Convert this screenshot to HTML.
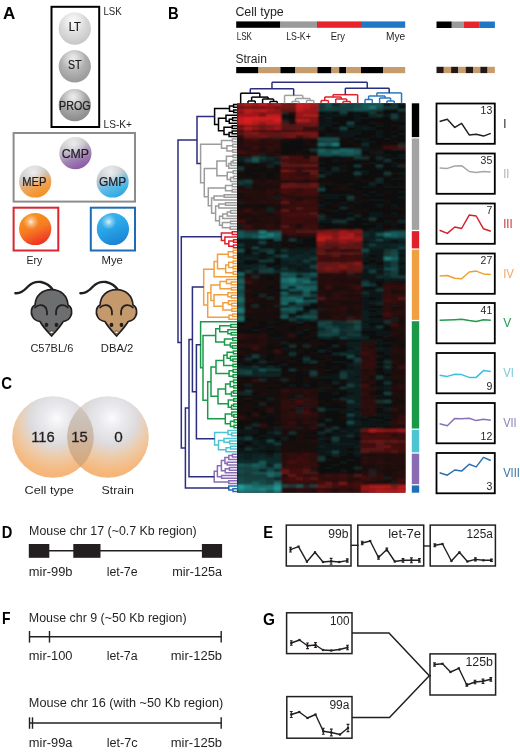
<!DOCTYPE html><html><head><meta charset="utf-8"><style>html,body{margin:0;padding:0;background:#fff}svg{display:block;will-change:transform}text{font-family:"Liberation Sans", sans-serif}</style></head><body>
<svg width="520" height="754" viewBox="0 0 520 754">
<defs>
<filter id="blur" x="0" y="0" width="1" height="1"><feGaussianBlur stdDeviation="0.8" edgeMode="duplicate"/></filter>
<radialGradient id="gLT" cx="0.45" cy="0.35" r="0.7"><stop offset="0" stop-color="#f2f2f2"/><stop offset="0.6" stop-color="#d6d6d6"/><stop offset="1" stop-color="#c2c2c2"/></radialGradient>
<radialGradient id="gST" cx="0.45" cy="0.35" r="0.7"><stop offset="0" stop-color="#d0d0d0"/><stop offset="0.6" stop-color="#ababab"/><stop offset="1" stop-color="#969696"/></radialGradient>
<radialGradient id="gPR" cx="0.45" cy="0.3" r="0.7"><stop offset="0" stop-color="#cfcfcf"/><stop offset="0.6" stop-color="#a2a2a2"/><stop offset="1" stop-color="#8a8a8a"/></radialGradient>
<linearGradient id="gCMP" x1="0.3" y1="0.02" x2="0.7" y2="0.98"><stop offset="0" stop-color="#d6d6d8"/><stop offset="0.32" stop-color="#c2bec6"/><stop offset="0.65" stop-color="#a184b4"/><stop offset="1" stop-color="#8a55a4"/></linearGradient>
<linearGradient id="gMEP" x1="0.3" y1="0.02" x2="0.7" y2="0.98"><stop offset="0" stop-color="#d6d6d8"/><stop offset="0.32" stop-color="#cac6c4"/><stop offset="0.62" stop-color="#eea458"/><stop offset="1" stop-color="#f68f1e"/></linearGradient>
<linearGradient id="gGMP" x1="0.3" y1="0.02" x2="0.7" y2="0.98"><stop offset="0" stop-color="#d6d6d8"/><stop offset="0.32" stop-color="#c0c8cc"/><stop offset="0.62" stop-color="#62bce6"/><stop offset="1" stop-color="#26a8e4"/></linearGradient>
<radialGradient id="gHL" cx="0.45" cy="0.22" r="0.4"><stop offset="0" stop-color="#fff" stop-opacity="0.65"/><stop offset="1" stop-color="#fff" stop-opacity="0"/></radialGradient>
<linearGradient id="gERYb" x1="0.3" y1="0" x2="0.7" y2="1"><stop offset="0" stop-color="#f7961e"/><stop offset="0.5" stop-color="#f67a22"/><stop offset="1" stop-color="#ee2a24"/></linearGradient>
<linearGradient id="gMYEb" x1="0.3" y1="0" x2="0.7" y2="1"><stop offset="0" stop-color="#3cb6f0"/><stop offset="0.5" stop-color="#27a2e6"/><stop offset="1" stop-color="#1a80d2"/></linearGradient>
<radialGradient id="gHL2" cx="0.37" cy="0.28" r="0.24"><stop offset="0" stop-color="#fff" stop-opacity="0.85"/><stop offset="0.4" stop-color="#fff" stop-opacity="0.4"/><stop offset="1" stop-color="#fff" stop-opacity="0"/></radialGradient>
<radialGradient id="gVenn" cx="0.52" cy="0.28" r="0.8" fx="0.55" fy="0.27"><stop offset="0" stop-color="#fbfbfc"/><stop offset="0.2" stop-color="#e9e9ed"/><stop offset="0.4" stop-color="#dddbdd"/><stop offset="0.6" stop-color="#eecaa6"/><stop offset="0.82" stop-color="#f6b77b"/><stop offset="1" stop-color="#f5b274"/></radialGradient>
<linearGradient id="gOv" x1="0" y1="0" x2="0" y2="1"><stop offset="0" stop-color="#d2ccc8"/><stop offset="0.4" stop-color="#cbbcb0"/><stop offset="0.75" stop-color="#d4ab84"/><stop offset="1" stop-color="#dca46c"/></linearGradient>
</defs>
<rect width="520" height="754" fill="#fff"/>
<text x="3" y="18.8" font-size="17" fill="#000" font-weight="bold" textLength="12.3" lengthAdjust="spacingAndGlyphs">A</text>
<rect x="51.5" y="6.8" width="47.7" height="120.2" fill="none" stroke="#000" stroke-width="2"/>
<text x="103.5" y="15.4" font-size="10.5" fill="#231f20" textLength="18.2" lengthAdjust="spacingAndGlyphs">LSK</text>
<text x="103.5" y="127.7" font-size="10.5" fill="#231f20" textLength="28.5" lengthAdjust="spacingAndGlyphs">LS-K+</text>
<rect x="13.6" y="133" width="121.4" height="68.6" fill="none" stroke="#8c8c8c" stroke-width="2"/>
<rect x="13.6" y="207.7" width="44.7" height="42.8" fill="none" stroke="#d8262f" stroke-width="2"/>
<rect x="90.8" y="207.7" width="44.2" height="42.8" fill="none" stroke="#1c6db4" stroke-width="2"/>
<circle cx="74.8" cy="28.6" r="16.1" fill="url(#gLT)"/>
<circle cx="74.8" cy="28.6" r="16.1" fill="url(#gHL)"/>
<text x="74.8" y="31.2" font-size="12.5" fill="#1e1c22" text-anchor="middle" textLength="12.2" lengthAdjust="spacingAndGlyphs" stroke="#1e1c22" stroke-width="0.22">LT</text>
<circle cx="74.8" cy="66.3" r="16.1" fill="url(#gST)"/>
<circle cx="74.8" cy="66.3" r="16.1" fill="url(#gHL)"/>
<text x="74.8" y="69.4" font-size="12.2" fill="#1e1c22" text-anchor="middle" textLength="13.6" lengthAdjust="spacingAndGlyphs" stroke="#1e1c22" stroke-width="0.22">ST</text>
<circle cx="74.8" cy="105.2" r="16.1" fill="url(#gPR)"/>
<circle cx="74.8" cy="105.2" r="16.1" fill="url(#gHL)"/>
<text x="74.8" y="109.7" font-size="12" fill="#1e1c22" text-anchor="middle" textLength="31.6" lengthAdjust="spacingAndGlyphs" stroke="#1e1c22" stroke-width="0.22">PROG</text>
<circle cx="75.4" cy="153.2" r="16.1" fill="url(#gCMP)"/>
<circle cx="75.4" cy="153.2" r="16.1" fill="url(#gHL)"/>
<text x="75.4" y="158.2" font-size="13.5" fill="#1e1c22" text-anchor="middle" textLength="27.3" lengthAdjust="spacingAndGlyphs" stroke="#1e1c22" stroke-width="0.22">CMP</text>
<circle cx="35.2" cy="181.5" r="16.1" fill="url(#gMEP)"/>
<circle cx="35.2" cy="181.5" r="16.1" fill="url(#gHL)"/>
<text x="34.4" y="186.3" font-size="13.5" fill="#1e1c22" text-anchor="middle" textLength="24.3" lengthAdjust="spacingAndGlyphs" stroke="#1e1c22" stroke-width="0.22">MEP</text>
<circle cx="112.6" cy="181.5" r="16.1" fill="url(#gGMP)"/>
<circle cx="112.6" cy="181.5" r="16.1" fill="url(#gHL)"/>
<text x="112.6" y="186.2" font-size="13.5" fill="#1e1c22" text-anchor="middle" textLength="27.2" lengthAdjust="spacingAndGlyphs" stroke="#1e1c22" stroke-width="0.22">GMP</text>
<circle cx="35.2" cy="229" r="16.1" fill="url(#gERYb)"/>
<circle cx="35.2" cy="229" r="16.1" fill="url(#gHL2)"/>
<circle cx="112.9" cy="229" r="16.1" fill="url(#gMYEb)"/>
<circle cx="112.9" cy="229" r="16.1" fill="url(#gHL2)"/>
<text x="26.5" y="264.2" font-size="11" fill="#231f20" textLength="15.7" lengthAdjust="spacingAndGlyphs">Ery</text>
<text x="101.5" y="264.2" font-size="11" fill="#231f20" textLength="21.3" lengthAdjust="spacingAndGlyphs">Mye</text>
<g transform="translate(0,0)">
<path d="M15.4 293.2 C19 293.5 24 291 28 286.5 C32 282.5 37 281.5 41 282 C46 283 50 285.5 53 290" fill="none" stroke="#231f20" stroke-width="2.4" stroke-linecap="round"/>
<path d="M51.5 289.6 C42 289.6 35.5 296 35 305 C31 307 30.5 313 32.5 316.5 C34 320 37 321 40 321.5 C43 327 48 332 51.6 336 C55 332 60 327 63.2 321.5 C66 321 69 320 70.5 316.5 C72.5 313 72 307 68 305 C67.5 296 61 289.6 51.5 289.6 Z" fill="#6d6e70" stroke="#231f20" stroke-width="1.7" stroke-linejoin="round"/>
<path d="M35.2 307.5 C38 304.2 44 304.2 46.2 308.5 C47 310.5 47.2 312.5 47 314.5" fill="none" stroke="#231f20" stroke-width="1.8" stroke-linecap="round"/>
<path d="M67.8 307.5 C65 304.2 59 304.2 56.8 308.5 C56 310.5 55.8 312.5 56 314.5" fill="none" stroke="#231f20" stroke-width="1.8" stroke-linecap="round"/>
<ellipse cx="46.5" cy="324.9" rx="1.9" ry="2.1" fill="#231f20"/><ellipse cx="56.5" cy="324.9" rx="1.9" ry="2.1" fill="#231f20"/>
<ellipse cx="51.6" cy="332.2" rx="1.9" ry="1.3" fill="#f6efe8" stroke="#231f20" stroke-width="0.6"/>
</g>
<g transform="translate(65,0)">
<path d="M15.4 293.2 C19 293.5 24 291 28 286.5 C32 282.5 37 281.5 41 282 C46 283 50 285.5 53 290" fill="none" stroke="#231f20" stroke-width="2.4" stroke-linecap="round"/>
<path d="M51.5 289.6 C42 289.6 35.5 296 35 305 C31 307 30.5 313 32.5 316.5 C34 320 37 321 40 321.5 C43 327 48 332 51.6 336 C55 332 60 327 63.2 321.5 C66 321 69 320 70.5 316.5 C72.5 313 72 307 68 305 C67.5 296 61 289.6 51.5 289.6 Z" fill="#c49a6c" stroke="#231f20" stroke-width="1.7" stroke-linejoin="round"/>
<path d="M35.2 307.5 C38 304.2 44 304.2 46.2 308.5 C47 310.5 47.2 312.5 47 314.5" fill="none" stroke="#231f20" stroke-width="1.8" stroke-linecap="round"/>
<path d="M67.8 307.5 C65 304.2 59 304.2 56.8 308.5 C56 310.5 55.8 312.5 56 314.5" fill="none" stroke="#231f20" stroke-width="1.8" stroke-linecap="round"/>
<ellipse cx="46.5" cy="324.9" rx="1.9" ry="2.1" fill="#231f20"/><ellipse cx="56.5" cy="324.9" rx="1.9" ry="2.1" fill="#231f20"/>
<ellipse cx="51.6" cy="332.2" rx="1.9" ry="1.3" fill="#f6efe8" stroke="#231f20" stroke-width="0.6"/>
</g>
<text x="30.4" y="352.4" font-size="11.3" fill="#231f20" textLength="42.9" lengthAdjust="spacingAndGlyphs">C57BL/6</text>
<text x="100.8" y="352.4" font-size="11.3" fill="#231f20" textLength="32.6" lengthAdjust="spacingAndGlyphs">DBA/2</text>
<text x="1.2" y="389.2" font-size="17" fill="#000" font-weight="bold" textLength="10.8" lengthAdjust="spacingAndGlyphs">C</text>
<circle cx="53" cy="437" r="40.8" fill="url(#gVenn)"/>
<circle cx="108" cy="437" r="40.8" fill="url(#gVenn)"/>
<clipPath id="cpL"><circle cx="53" cy="437" r="40.8"/></clipPath>
<circle cx="108" cy="437" r="40.8" fill="url(#gOv)" clip-path="url(#cpL)"/>
<text x="43" y="441.8" font-size="15.5" fill="#231f20" text-anchor="middle" textLength="23.5" lengthAdjust="spacingAndGlyphs" stroke="#231f20" stroke-width="0.3">116</text>
<text x="79.5" y="441.8" font-size="15.5" fill="#231f20" text-anchor="middle" textLength="16.5" lengthAdjust="spacingAndGlyphs" stroke="#231f20" stroke-width="0.3">15</text>
<text x="118.5" y="441.8" font-size="15.5" fill="#231f20" text-anchor="middle" textLength="8.5" lengthAdjust="spacingAndGlyphs" stroke="#231f20" stroke-width="0.3">0</text>
<text x="24.6" y="493.6" font-size="11.5" fill="#231f20" textLength="49.2" lengthAdjust="spacingAndGlyphs">Cell type</text>
<text x="101.5" y="493.6" font-size="11.5" fill="#231f20" textLength="32.3" lengthAdjust="spacingAndGlyphs">Strain</text>
<text x="1.7" y="537.9" font-size="17" fill="#000" font-weight="bold" textLength="10.6" lengthAdjust="spacingAndGlyphs">D</text>
<text x="29.1" y="534.6" font-size="12" fill="#231f20" textLength="167.6" lengthAdjust="spacingAndGlyphs">Mouse chr 17 (~0.7 Kb region)</text>
<line x1="30" y1="550.8" x2="220" y2="550.8" stroke="#231f20" stroke-width="1.4"/>
<rect x="28.8" y="544" width="20.5" height="13.8" fill="#231f20"/>
<rect x="73.3" y="544" width="27.2" height="13.8" fill="#231f20"/>
<rect x="201.9" y="544" width="20.2" height="13.8" fill="#231f20"/>
<text x="28.8" y="576.2" font-size="12" fill="#231f20" textLength="43.7" lengthAdjust="spacingAndGlyphs">mir-99b</text>
<text x="106.7" y="576.2" font-size="12" fill="#231f20" textLength="30.9" lengthAdjust="spacingAndGlyphs">let-7e</text>
<text x="172.2" y="576.2" font-size="12" fill="#231f20" textLength="49.9" lengthAdjust="spacingAndGlyphs">mir-125a</text>
<text x="2" y="623.8" font-size="17" fill="#000" font-weight="bold" textLength="8.5" lengthAdjust="spacingAndGlyphs">F</text>
<text x="28.8" y="622.2" font-size="12" fill="#231f20" textLength="157.8" lengthAdjust="spacingAndGlyphs">Mouse chr 9 (~50 Kb region)</text>
<line x1="29.5" y1="636.8" x2="221.2" y2="636.8" stroke="#231f20" stroke-width="1.4"/>
<line x1="29.5" y1="631" x2="29.5" y2="642.6" stroke="#231f20" stroke-width="1.4"/>
<line x1="49.5" y1="631" x2="49.5" y2="642.6" stroke="#231f20" stroke-width="1.4"/>
<line x1="221.2" y1="631" x2="221.2" y2="642.6" stroke="#231f20" stroke-width="1.4"/>
<text x="28.8" y="660" font-size="12" fill="#231f20" textLength="43.7" lengthAdjust="spacingAndGlyphs">mir-100</text>
<text x="106.7" y="660" font-size="12" fill="#231f20" textLength="30.9" lengthAdjust="spacingAndGlyphs">let-7a</text>
<text x="170.8" y="660" font-size="12" fill="#231f20" textLength="51.3" lengthAdjust="spacingAndGlyphs">mir-125b</text>
<text x="28.8" y="706.8" font-size="12" fill="#231f20" textLength="194.5" lengthAdjust="spacingAndGlyphs">Mouse chr 16 (with ~50 Kb region)</text>
<line x1="29.5" y1="723" x2="221.2" y2="723" stroke="#231f20" stroke-width="1.4"/>
<line x1="29.5" y1="717.3" x2="29.5" y2="728.8" stroke="#231f20" stroke-width="1.4"/>
<line x1="32.5" y1="717.3" x2="32.5" y2="728.8" stroke="#231f20" stroke-width="1.4"/>
<line x1="221.2" y1="717.3" x2="221.2" y2="728.8" stroke="#231f20" stroke-width="1.4"/>
<text x="28.8" y="746.5" font-size="12" fill="#231f20" textLength="43.7" lengthAdjust="spacingAndGlyphs">mir-99a</text>
<text x="106.7" y="746.5" font-size="12" fill="#231f20" textLength="30.9" lengthAdjust="spacingAndGlyphs">let-7c</text>
<text x="170.8" y="746.5" font-size="12" fill="#231f20" textLength="51.3" lengthAdjust="spacingAndGlyphs">mir-125b</text>
<text x="263.3" y="537.9" font-size="17" fill="#000" font-weight="bold" textLength="9.8" lengthAdjust="spacingAndGlyphs">E</text>
<rect x="286.3" y="525.1" width="64.7" height="40.9" fill="none" stroke="#231f20" stroke-width="1.5"/>
<text x="348.4" y="537.9" font-size="12" fill="#231f20" text-anchor="end" textLength="20.2" lengthAdjust="spacingAndGlyphs">99b</text>
<rect x="357.8" y="525.1" width="65.9" height="40.9" fill="none" stroke="#231f20" stroke-width="1.5"/>
<text x="421.09999999999997" y="537.9" font-size="12" fill="#231f20" text-anchor="end" textLength="32.9" lengthAdjust="spacingAndGlyphs">let-7e</text>
<rect x="430.2" y="525.1" width="65.2" height="40.9" fill="none" stroke="#231f20" stroke-width="1.5"/>
<text x="492.79999999999995" y="537.9" font-size="12" fill="#231f20" text-anchor="end" textLength="26.3" lengthAdjust="spacingAndGlyphs">125a</text>
<line x1="351" y1="545.3" x2="358.6" y2="545.3" stroke="#231f20" stroke-width="1.4"/>
<line x1="423" y1="546" x2="431" y2="546" stroke="#231f20" stroke-width="1.4"/>
<path d="M290.5 549.6 L298.5 546.6 L306.9 561.7 L315.0 552.3 L323.0 562.0 L331.1 561.3 L339.2 562.0 L347.3 560.6" fill="none" stroke="#231f20" stroke-width="1.4" stroke-linejoin="round"/>
<rect x="289.4" y="548.5" width="2.2" height="2.2" fill="#231f20"/>
<path d="M290.5 547.2V552.0M289.1 547.2h2.8M289.1 552.0h2.8" stroke="#231f20" stroke-width="1.1"/>
<rect x="297.4" y="545.5" width="2.2" height="2.2" fill="#231f20"/>
<rect x="305.8" y="560.6" width="2.2" height="2.2" fill="#231f20"/>
<rect x="313.9" y="551.2" width="2.2" height="2.2" fill="#231f20"/>
<rect x="321.9" y="560.9" width="2.2" height="2.2" fill="#231f20"/>
<rect x="330.0" y="560.2" width="2.2" height="2.2" fill="#231f20"/>
<path d="M331.1 558.4V564.2M329.7 558.4h2.8M329.7 564.2h2.8" stroke="#231f20" stroke-width="1.1"/>
<rect x="338.1" y="560.9" width="2.2" height="2.2" fill="#231f20"/>
<rect x="346.2" y="559.5" width="2.2" height="2.2" fill="#231f20"/>
<path d="M347.3 558.9V562.3M345.9 558.9h2.8M345.9 562.3h2.8" stroke="#231f20" stroke-width="1.1"/>
<path d="M362.2 543.0 L370.2 541.0 L378.5 557.5 L386.8 549.5 L394.8 561.5 L403.0 560.3 L411.4 560.3 L419.4 560.3" fill="none" stroke="#231f20" stroke-width="1.4" stroke-linejoin="round"/>
<rect x="361.1" y="541.9" width="2.2" height="2.2" fill="#231f20"/>
<path d="M362.2 541.2V544.8M360.8 541.2h2.8M360.8 544.8h2.8" stroke="#231f20" stroke-width="1.1"/>
<rect x="369.1" y="539.9" width="2.2" height="2.2" fill="#231f20"/>
<rect x="377.4" y="556.4" width="2.2" height="2.2" fill="#231f20"/>
<path d="M378.5 555.7V559.3M377.1 555.7h2.8M377.1 559.3h2.8" stroke="#231f20" stroke-width="1.1"/>
<rect x="385.7" y="548.4" width="2.2" height="2.2" fill="#231f20"/>
<path d="M386.8 548.0V551.0M385.4 548.0h2.8M385.4 551.0h2.8" stroke="#231f20" stroke-width="1.1"/>
<rect x="393.7" y="560.4" width="2.2" height="2.2" fill="#231f20"/>
<rect x="401.9" y="559.2" width="2.2" height="2.2" fill="#231f20"/>
<path d="M403.0 558.5V562.1M401.6 558.5h2.8M401.6 562.1h2.8" stroke="#231f20" stroke-width="1.1"/>
<rect x="410.3" y="559.2" width="2.2" height="2.2" fill="#231f20"/>
<path d="M411.4 557.9V562.7M410.0 557.9h2.8M410.0 562.7h2.8" stroke="#231f20" stroke-width="1.1"/>
<rect x="418.3" y="559.2" width="2.2" height="2.2" fill="#231f20"/>
<path d="M419.4 558.5V562.1M418.0 558.5h2.8M418.0 562.1h2.8" stroke="#231f20" stroke-width="1.1"/>
<path d="M434.8 545.2 L442.5 544.0 L451.4 561.0 L459.4 552.3 L467.4 561.5 L475.4 559.4 L483.4 560.3 L491.4 560.3" fill="none" stroke="#231f20" stroke-width="1.4" stroke-linejoin="round"/>
<rect x="433.7" y="544.1" width="2.2" height="2.2" fill="#231f20"/>
<path d="M434.8 543.7V546.7M433.4 543.7h2.8M433.4 546.7h2.8" stroke="#231f20" stroke-width="1.1"/>
<rect x="441.4" y="542.9" width="2.2" height="2.2" fill="#231f20"/>
<rect x="450.3" y="559.9" width="2.2" height="2.2" fill="#231f20"/>
<rect x="458.3" y="551.2" width="2.2" height="2.2" fill="#231f20"/>
<rect x="466.3" y="560.4" width="2.2" height="2.2" fill="#231f20"/>
<rect x="474.3" y="558.3" width="2.2" height="2.2" fill="#231f20"/>
<path d="M475.4 557.9V560.9M474.0 557.9h2.8M474.0 560.9h2.8" stroke="#231f20" stroke-width="1.1"/>
<rect x="482.3" y="559.2" width="2.2" height="2.2" fill="#231f20"/>
<rect x="490.3" y="559.2" width="2.2" height="2.2" fill="#231f20"/>
<path d="M491.4 559.1V561.5M490.0 559.1h2.8M490.0 561.5h2.8" stroke="#231f20" stroke-width="1.1"/>
<text x="263" y="624.6" font-size="17" fill="#000" font-weight="bold" textLength="12" lengthAdjust="spacingAndGlyphs">G</text>
<rect x="286.6" y="612.8" width="65.4" height="40.8" fill="none" stroke="#231f20" stroke-width="1.5"/>
<text x="349.4" y="625.1999999999999" font-size="12" fill="#231f20" text-anchor="end" textLength="19.5" lengthAdjust="spacingAndGlyphs">100</text>
<rect x="286.8" y="696.6" width="65.2" height="41.6" fill="none" stroke="#231f20" stroke-width="1.5"/>
<text x="349.4" y="709.0" font-size="12" fill="#231f20" text-anchor="end" textLength="20" lengthAdjust="spacingAndGlyphs">99a</text>
<rect x="430" y="653.9" width="65.6" height="41.1" fill="none" stroke="#231f20" stroke-width="1.5"/>
<text x="493.0" y="666.3" font-size="12" fill="#231f20" text-anchor="end" textLength="27.5" lengthAdjust="spacingAndGlyphs">125b</text>
<path d="M352 633 H389 L429.3 675.8 M352 717.5 H389.5 L429.3 675.8 M429.3 675.8 H431" fill="none" stroke="#231f20" stroke-width="1.5"/>
<path d="M291.3 643.0 L299.5 640.0 L307.5 645.8 L315.5 645.0 L323.0 650.0 L331.3 650.5 L339.5 649.5 L347.5 647.5" fill="none" stroke="#231f20" stroke-width="1.4" stroke-linejoin="round"/>
<rect x="290.2" y="641.9" width="2.2" height="2.2" fill="#231f20"/>
<path d="M291.3 640.8V645.2M289.9 640.8h2.8M289.9 645.2h2.8" stroke="#231f20" stroke-width="1.1"/>
<rect x="298.4" y="638.9" width="2.2" height="2.2" fill="#231f20"/>
<rect x="306.4" y="644.7" width="2.2" height="2.2" fill="#231f20"/>
<path d="M307.5 643.0V648.6M306.1 643.0h2.8M306.1 648.6h2.8" stroke="#231f20" stroke-width="1.1"/>
<rect x="314.4" y="643.9" width="2.2" height="2.2" fill="#231f20"/>
<path d="M315.5 642.6V647.4M314.1 642.6h2.8M314.1 647.4h2.8" stroke="#231f20" stroke-width="1.1"/>
<rect x="321.9" y="648.9" width="2.2" height="2.2" fill="#231f20"/>
<rect x="330.2" y="649.4" width="2.2" height="2.2" fill="#231f20"/>
<rect x="338.4" y="648.4" width="2.2" height="2.2" fill="#231f20"/>
<rect x="346.4" y="646.4" width="2.2" height="2.2" fill="#231f20"/>
<path d="M347.5 645.3V649.7M346.1 645.3h2.8M346.1 649.7h2.8" stroke="#231f20" stroke-width="1.1"/>
<path d="M291.3 714.5 L299.3 712.0 L307.5 718.0 L315.5 714.5 L323.3 731.3 L331.3 732.5 L340.0 734.5 L348.0 728.0" fill="none" stroke="#231f20" stroke-width="1.4" stroke-linejoin="round"/>
<rect x="290.2" y="713.4" width="2.2" height="2.2" fill="#231f20"/>
<path d="M291.3 711.5V717.5M289.9 711.5h2.8M289.9 717.5h2.8" stroke="#231f20" stroke-width="1.1"/>
<rect x="298.2" y="710.9" width="2.2" height="2.2" fill="#231f20"/>
<rect x="306.4" y="716.9" width="2.2" height="2.2" fill="#231f20"/>
<rect x="314.4" y="713.4" width="2.2" height="2.2" fill="#231f20"/>
<rect x="322.2" y="730.2" width="2.2" height="2.2" fill="#231f20"/>
<path d="M323.3 728.3V734.3M321.9 728.3h2.8M321.9 734.3h2.8" stroke="#231f20" stroke-width="1.1"/>
<rect x="330.2" y="731.4" width="2.2" height="2.2" fill="#231f20"/>
<path d="M331.3 729.1V735.9M329.9 729.1h2.8M329.9 735.9h2.8" stroke="#231f20" stroke-width="1.1"/>
<rect x="338.9" y="733.4" width="2.2" height="2.2" fill="#231f20"/>
<rect x="346.9" y="726.9" width="2.2" height="2.2" fill="#231f20"/>
<path d="M348.0 724.4V731.6M346.6 724.4h2.8M346.6 731.6h2.8" stroke="#231f20" stroke-width="1.1"/>
<path d="M434.5 664.5 L442.5 663.8 L450.5 672.0 L458.8 668.3 L466.8 685.0 L475.0 682.0 L483.0 681.3 L490.8 679.3" fill="none" stroke="#231f20" stroke-width="1.4" stroke-linejoin="round"/>
<rect x="433.4" y="663.4" width="2.2" height="2.2" fill="#231f20"/>
<path d="M434.5 662.7V666.3M433.1 662.7h2.8M433.1 666.3h2.8" stroke="#231f20" stroke-width="1.1"/>
<rect x="441.4" y="662.7" width="2.2" height="2.2" fill="#231f20"/>
<rect x="449.4" y="670.9" width="2.2" height="2.2" fill="#231f20"/>
<rect x="457.7" y="667.2" width="2.2" height="2.2" fill="#231f20"/>
<rect x="465.7" y="683.9" width="2.2" height="2.2" fill="#231f20"/>
<path d="M466.8 683.8V686.2M465.4 683.8h2.8M465.4 686.2h2.8" stroke="#231f20" stroke-width="1.1"/>
<rect x="473.9" y="680.9" width="2.2" height="2.2" fill="#231f20"/>
<path d="M475.0 680.2V683.8M473.6 680.2h2.8M473.6 683.8h2.8" stroke="#231f20" stroke-width="1.1"/>
<rect x="481.9" y="680.2" width="2.2" height="2.2" fill="#231f20"/>
<path d="M483.0 679.1V683.5M481.6 679.1h2.8M481.6 683.5h2.8" stroke="#231f20" stroke-width="1.1"/>
<rect x="489.7" y="678.2" width="2.2" height="2.2" fill="#231f20"/>
<path d="M490.8 677.5V681.1M489.4 677.5h2.8M489.4 681.1h2.8" stroke="#231f20" stroke-width="1.1"/>
<text x="168.1" y="18.8" font-size="17" fill="#000" font-weight="bold" textLength="10.7" lengthAdjust="spacingAndGlyphs">B</text>
<text x="235.4" y="15.8" font-size="12" fill="#231f20" textLength="48.4" lengthAdjust="spacingAndGlyphs">Cell type</text>
<rect x="236.2" y="21.4" width="44.2" height="6.4" fill="#000"/>
<rect x="280.4" y="21.4" width="36.6" height="6.4" fill="#9a9a9a"/>
<rect x="317" y="21.4" width="44.0" height="6.4" fill="#e8242b"/>
<rect x="361" y="21.4" width="44.2" height="6.4" fill="#1f78c6"/>
<text x="236.7" y="39.6" font-size="10.2" fill="#231f20" textLength="15.3" lengthAdjust="spacingAndGlyphs">LSK</text>
<text x="286.2" y="39.6" font-size="10.2" fill="#231f20" textLength="24.6" lengthAdjust="spacingAndGlyphs">LS-K+</text>
<text x="330.8" y="39.6" font-size="10.2" fill="#231f20" textLength="14.2" lengthAdjust="spacingAndGlyphs">Ery</text>
<text x="386" y="39.6" font-size="10.2" fill="#231f20" textLength="19.2" lengthAdjust="spacingAndGlyphs">Mye</text>
<text x="235.4" y="63.2" font-size="12" fill="#231f20" textLength="31.6" lengthAdjust="spacingAndGlyphs">Strain</text>
<rect x="236.2" y="67" width="22.3" height="6.2" fill="#000"/>
<rect x="258.5" y="67" width="21.9" height="6.2" fill="#c79c6d"/>
<rect x="280.4" y="67" width="15.0" height="6.2" fill="#000"/>
<rect x="295.4" y="67" width="22.0" height="6.2" fill="#c79c6d"/>
<rect x="317.4" y="67" width="14.1" height="6.2" fill="#000"/>
<rect x="331.5" y="67" width="7.7" height="6.2" fill="#c79c6d"/>
<rect x="339.2" y="67" width="7.0" height="6.2" fill="#000"/>
<rect x="346.2" y="67" width="14.8" height="6.2" fill="#c79c6d"/>
<rect x="361" y="67" width="22.0" height="6.2" fill="#000"/>
<rect x="383" y="67" width="22.2" height="6.2" fill="#c79c6d"/>
<rect x="436.5" y="21.5" width="15.3" height="6.5" fill="#000"/>
<rect x="451.8" y="21.5" width="12.1" height="6.5" fill="#9a9a9a"/>
<rect x="463.9" y="21.5" width="15.9" height="6.5" fill="#e8242b"/>
<rect x="479.8" y="21.5" width="15.1" height="6.5" fill="#1f78c6"/>
<rect x="436.50" y="66.8" width="7.30" height="6.3" fill="#231815"/>
<rect x="443.80" y="66.8" width="7.30" height="6.3" fill="#c79c6d"/>
<rect x="451.10" y="66.8" width="7.30" height="6.3" fill="#231815"/>
<rect x="458.40" y="66.8" width="7.30" height="6.3" fill="#c79c6d"/>
<rect x="465.70" y="66.8" width="7.30" height="6.3" fill="#231815"/>
<rect x="473.00" y="66.8" width="7.30" height="6.3" fill="#c79c6d"/>
<rect x="480.30" y="66.8" width="7.30" height="6.3" fill="#231815"/>
<rect x="487.60" y="66.8" width="7.30" height="6.3" fill="#c79c6d"/>
<rect x="237.0" y="103.3" width="168.2" height="389.4" fill="#1c1212"/>
<g shape-rendering="crispEdges" filter="url(#blur)">
<path fill="#25a6a2" d="M237.0 484.75h7.6v2.95h-7.6z"/>
<path fill="#239e9a" d="M273.6 487.40h7.6v2.95h-7.6z"/>
<path fill="#229693" d="M237.0 487.40h7.6v2.95h-7.6z"/>
<path fill="#218f8b" d="M273.6 484.75h7.6v2.95h-7.6z"/>
<path fill="#208784" d="M258.9 230.45h7.6v2.95h-7.6zM258.9 235.75h7.6v2.95h-7.6zM244.3 484.75h7.6v2.95h-7.6zM258.9 487.40h7.6v2.95h-7.6z"/>
<path fill="#1e7f7c" d="M332.1 143.03h7.6v2.95h-7.6zM266.3 233.10h7.6v2.95h-7.6zM383.3 256.94h7.6v2.95h-7.6zM288.2 278.13h7.6v2.95h-7.6zM295.5 299.32h7.6v2.95h-7.6zM237.0 307.27h7.6v2.95h-7.6zM244.3 487.40h7.6v2.95h-7.6zM251.6 487.40h7.6v2.95h-7.6z"/>
<path fill="#1d7775" d="M368.6 105.95h7.6v2.95h-7.6zM383.3 233.10h7.6v2.95h-7.6zM237.0 272.83h7.6v2.95h-7.6zM288.2 280.78h7.6v2.95h-7.6zM302.8 280.78h7.6v2.95h-7.6zM237.0 309.92h7.6v2.95h-7.6zM266.3 487.40h7.6v2.95h-7.6zM237.0 490.05h7.6v2.95h-7.6zM273.6 490.05h7.6v2.95h-7.6z"/>
<path fill="#1c706d" d="M339.4 148.33h7.6v2.95h-7.6zM266.3 235.75h7.6v2.95h-7.6zM280.9 278.13h7.6v2.95h-7.6zM288.2 296.68h7.6v2.95h-7.6zM237.0 299.32h7.6v2.95h-7.6zM237.0 317.87h7.6v2.95h-7.6zM273.6 482.10h7.6v2.95h-7.6zM266.3 484.75h7.6v2.95h-7.6zM244.3 490.05h7.6v2.95h-7.6zM258.9 490.05h7.6v2.95h-7.6z"/>
<path fill="#1b6866" d="M317.4 143.03h7.6v2.95h-7.6zM317.4 148.33h7.6v2.95h-7.6zM346.7 148.33h7.6v2.95h-7.6zM332.1 150.98h7.6v2.95h-7.6zM280.9 272.83h7.6v2.95h-7.6zM237.0 280.78h7.6v2.95h-7.6zM280.9 280.78h7.6v2.95h-7.6zM295.5 286.08h7.6v2.95h-7.6zM302.8 288.73h7.6v2.95h-7.6zM280.9 291.38h7.6v2.95h-7.6zM237.0 296.68h7.6v2.95h-7.6zM280.9 301.97h7.6v2.95h-7.6zM280.9 307.27h7.6v2.95h-7.6zM237.0 315.22h7.6v2.95h-7.6zM280.9 315.22h7.6v2.95h-7.6zM251.6 463.56h7.6v2.95h-7.6zM266.3 471.51h7.6v2.95h-7.6zM266.3 474.16h7.6v2.95h-7.6zM251.6 484.75h7.6v2.95h-7.6zM258.9 484.75h7.6v2.95h-7.6zM251.6 490.05h7.6v2.95h-7.6z"/>
<path fill="#19605e" d="M346.7 150.98h7.6v2.95h-7.6zM258.9 233.10h7.6v2.95h-7.6zM273.6 233.10h7.6v2.95h-7.6zM390.6 233.10h7.6v2.95h-7.6zM251.6 235.75h7.6v2.95h-7.6zM390.6 256.94h7.6v2.95h-7.6zM310.1 272.83h7.6v2.95h-7.6zM295.5 278.13h7.6v2.95h-7.6zM288.2 283.43h7.6v2.95h-7.6zM237.0 286.08h7.6v2.95h-7.6zM280.9 286.08h7.6v2.95h-7.6zM302.8 286.08h7.6v2.95h-7.6zM310.1 286.08h7.6v2.95h-7.6zM288.2 288.73h7.6v2.95h-7.6zM280.9 296.68h7.6v2.95h-7.6zM295.5 296.68h7.6v2.95h-7.6zM280.9 299.32h7.6v2.95h-7.6zM288.2 299.32h7.6v2.95h-7.6zM310.1 299.32h7.6v2.95h-7.6zM288.2 307.27h7.6v2.95h-7.6zM302.8 315.22h7.6v2.95h-7.6zM237.0 463.56h7.6v2.95h-7.6zM273.6 463.56h7.6v2.95h-7.6zM273.6 471.51h7.6v2.95h-7.6zM251.6 482.10h7.6v2.95h-7.6zM295.5 484.75h7.6v2.95h-7.6z"/>
<path fill="#185957" d="M361.3 103.30h7.6v2.95h-7.6zM375.9 103.30h7.6v2.95h-7.6zM361.3 105.95h7.6v2.95h-7.6zM354.0 108.60h7.6v2.95h-7.6zM317.4 137.74h7.6v2.95h-7.6zM324.8 137.74h7.6v2.95h-7.6zM332.1 137.74h7.6v2.95h-7.6zM324.8 143.03h7.6v2.95h-7.6zM332.1 148.33h7.6v2.95h-7.6zM317.4 150.98h7.6v2.95h-7.6zM339.4 150.98h7.6v2.95h-7.6zM354.0 150.98h7.6v2.95h-7.6zM251.6 158.93h7.6v2.95h-7.6zM237.0 230.45h7.6v2.95h-7.6zM237.0 233.10h7.6v2.95h-7.6zM237.0 235.75h7.6v2.95h-7.6zM273.6 235.75h7.6v2.95h-7.6zM390.6 235.75h7.6v2.95h-7.6zM288.2 272.83h7.6v2.95h-7.6zM237.0 278.13h7.6v2.95h-7.6zM302.8 278.13h7.6v2.95h-7.6zM295.5 280.78h7.6v2.95h-7.6zM310.1 280.78h7.6v2.95h-7.6zM280.9 283.43h7.6v2.95h-7.6zM310.1 288.73h7.6v2.95h-7.6zM302.8 291.38h7.6v2.95h-7.6zM302.8 294.03h7.6v2.95h-7.6zM302.8 299.32h7.6v2.95h-7.6zM295.5 307.27h7.6v2.95h-7.6zM310.1 315.22h7.6v2.95h-7.6zM332.1 328.46h7.6v2.95h-7.6zM258.9 368.20h7.6v2.95h-7.6zM258.9 460.91h7.6v2.95h-7.6zM258.9 471.51h7.6v2.95h-7.6zM266.3 490.05h7.6v2.95h-7.6z"/>
<path fill="#17514f" d="M324.8 103.30h7.6v2.95h-7.6zM368.6 103.30h7.6v2.95h-7.6zM361.3 108.60h7.6v2.95h-7.6zM324.8 148.33h7.6v2.95h-7.6zM354.0 148.33h7.6v2.95h-7.6zM324.8 150.98h7.6v2.95h-7.6zM324.8 153.63h7.6v2.95h-7.6zM339.4 153.63h7.6v2.95h-7.6zM346.7 153.63h7.6v2.95h-7.6zM251.6 156.28h7.6v2.95h-7.6zM390.6 230.45h7.6v2.95h-7.6zM397.9 230.45h7.6v2.95h-7.6zM375.9 233.10h7.6v2.95h-7.6zM397.9 233.10h7.6v2.95h-7.6zM237.0 248.99h7.6v2.95h-7.6zM280.9 254.29h7.6v2.95h-7.6zM383.3 267.54h7.6v2.95h-7.6zM390.6 267.54h7.6v2.95h-7.6zM288.2 275.48h7.6v2.95h-7.6zM295.5 283.43h7.6v2.95h-7.6zM295.5 288.73h7.6v2.95h-7.6zM237.0 294.03h7.6v2.95h-7.6zM237.0 301.97h7.6v2.95h-7.6zM237.0 304.62h7.6v2.95h-7.6zM288.2 309.92h7.6v2.95h-7.6zM295.5 315.22h7.6v2.95h-7.6zM354.0 320.52h7.6v2.95h-7.6zM354.0 325.81h7.6v2.95h-7.6zM266.3 439.72h7.6v2.95h-7.6zM244.3 463.56h7.6v2.95h-7.6zM258.9 463.56h7.6v2.95h-7.6zM251.6 466.21h7.6v2.95h-7.6zM273.6 466.21h7.6v2.95h-7.6zM251.6 471.51h7.6v2.95h-7.6zM273.6 474.16h7.6v2.95h-7.6zM280.9 484.75h7.6v2.95h-7.6z"/>
<path fill="#164948" d="M339.4 103.30h7.6v2.95h-7.6zM354.0 103.30h7.6v2.95h-7.6zM324.8 105.95h7.6v2.95h-7.6zM354.0 105.95h7.6v2.95h-7.6zM375.9 105.95h7.6v2.95h-7.6zM346.7 108.60h7.6v2.95h-7.6zM346.7 121.84h7.6v2.95h-7.6zM317.4 153.63h7.6v2.95h-7.6zM273.6 230.45h7.6v2.95h-7.6zM244.3 233.10h7.6v2.95h-7.6zM251.6 233.10h7.6v2.95h-7.6zM244.3 235.75h7.6v2.95h-7.6zM383.3 235.75h7.6v2.95h-7.6zM397.9 235.75h7.6v2.95h-7.6zM273.6 238.40h7.6v2.95h-7.6zM375.9 238.40h7.6v2.95h-7.6zM251.6 246.34h7.6v2.95h-7.6zM361.3 248.99h7.6v2.95h-7.6zM390.6 251.64h7.6v2.95h-7.6zM390.6 254.29h7.6v2.95h-7.6zM302.8 272.83h7.6v2.95h-7.6zM280.9 275.48h7.6v2.95h-7.6zM237.0 283.43h7.6v2.95h-7.6zM361.3 283.43h7.6v2.95h-7.6zM237.0 288.73h7.6v2.95h-7.6zM237.0 291.38h7.6v2.95h-7.6zM280.9 294.03h7.6v2.95h-7.6zM295.5 301.97h7.6v2.95h-7.6zM324.8 320.52h7.6v2.95h-7.6zM317.4 323.17h7.6v2.95h-7.6zM324.8 325.81h7.6v2.95h-7.6zM332.1 331.11h7.6v2.95h-7.6zM317.4 333.76h7.6v2.95h-7.6zM324.8 333.76h7.6v2.95h-7.6zM346.7 354.95h7.6v2.95h-7.6zM244.3 370.85h7.6v2.95h-7.6zM346.7 413.23h7.6v2.95h-7.6zM346.7 421.18h7.6v2.95h-7.6zM332.1 450.32h7.6v2.95h-7.6zM258.9 466.21h7.6v2.95h-7.6zM237.0 468.86h7.6v2.95h-7.6zM266.3 468.86h7.6v2.95h-7.6zM237.0 471.51h7.6v2.95h-7.6zM237.0 476.81h7.6v2.95h-7.6zM237.0 479.46h7.6v2.95h-7.6zM251.6 479.46h7.6v2.95h-7.6zM258.9 479.46h7.6v2.95h-7.6zM273.6 479.46h7.6v2.95h-7.6zM237.0 482.10h7.6v2.95h-7.6zM244.3 482.10h7.6v2.95h-7.6zM258.9 482.10h7.6v2.95h-7.6zM310.1 484.75h7.6v2.95h-7.6z"/>
<path fill="#144140" d="M346.7 103.30h7.6v2.95h-7.6zM339.4 105.95h7.6v2.95h-7.6zM346.7 105.95h7.6v2.95h-7.6zM317.4 108.60h7.6v2.95h-7.6zM324.8 108.60h7.6v2.95h-7.6zM332.1 108.60h7.6v2.95h-7.6zM339.4 108.60h7.6v2.95h-7.6zM397.9 108.60h7.6v2.95h-7.6zM339.4 111.25h7.6v2.95h-7.6zM390.6 113.90h7.6v2.95h-7.6zM339.4 127.14h7.6v2.95h-7.6zM324.8 140.39h7.6v2.95h-7.6zM354.0 164.23h7.6v2.95h-7.6zM375.9 164.23h7.6v2.95h-7.6zM354.0 172.17h7.6v2.95h-7.6zM244.3 180.12h7.6v2.95h-7.6zM317.4 188.07h7.6v2.95h-7.6zM368.6 217.21h7.6v2.95h-7.6zM266.3 230.45h7.6v2.95h-7.6zM288.2 238.40h7.6v2.95h-7.6zM258.9 241.05h7.6v2.95h-7.6zM368.6 243.70h7.6v2.95h-7.6zM397.9 246.34h7.6v2.95h-7.6zM390.6 248.99h7.6v2.95h-7.6zM266.3 251.64h7.6v2.95h-7.6zM258.9 259.59h7.6v2.95h-7.6zM302.8 259.59h7.6v2.95h-7.6zM390.6 259.59h7.6v2.95h-7.6zM310.1 264.89h7.6v2.95h-7.6zM390.6 264.89h7.6v2.95h-7.6zM266.3 267.54h7.6v2.95h-7.6zM258.9 270.19h7.6v2.95h-7.6zM266.3 270.19h7.6v2.95h-7.6zM368.6 270.19h7.6v2.95h-7.6zM390.6 270.19h7.6v2.95h-7.6zM295.5 272.83h7.6v2.95h-7.6zM302.8 275.48h7.6v2.95h-7.6zM310.1 275.48h7.6v2.95h-7.6zM397.9 275.48h7.6v2.95h-7.6zM302.8 283.43h7.6v2.95h-7.6zM310.1 283.43h7.6v2.95h-7.6zM375.9 288.73h7.6v2.95h-7.6zM310.1 294.03h7.6v2.95h-7.6zM288.2 304.62h7.6v2.95h-7.6zM280.9 309.92h7.6v2.95h-7.6zM310.1 309.92h7.6v2.95h-7.6zM237.0 312.57h7.6v2.95h-7.6zM280.9 312.57h7.6v2.95h-7.6zM317.4 320.52h7.6v2.95h-7.6zM346.7 320.52h7.6v2.95h-7.6zM354.0 328.46h7.6v2.95h-7.6zM354.0 333.76h7.6v2.95h-7.6zM339.4 336.41h7.6v2.95h-7.6zM251.6 354.95h7.6v2.95h-7.6zM354.0 357.60h7.6v2.95h-7.6zM237.0 370.85h7.6v2.95h-7.6zM310.1 370.85h7.6v2.95h-7.6zM339.4 373.50h7.6v2.95h-7.6zM346.7 384.09h7.6v2.95h-7.6zM383.3 392.04h7.6v2.95h-7.6zM346.7 399.99h7.6v2.95h-7.6zM383.3 399.99h7.6v2.95h-7.6zM244.3 437.07h7.6v2.95h-7.6zM332.1 437.07h7.6v2.95h-7.6zM273.6 442.37h7.6v2.95h-7.6zM237.0 466.21h7.6v2.95h-7.6zM244.3 466.21h7.6v2.95h-7.6zM244.3 468.86h7.6v2.95h-7.6zM251.6 468.86h7.6v2.95h-7.6zM244.3 471.51h7.6v2.95h-7.6zM251.6 474.16h7.6v2.95h-7.6zM244.3 476.81h7.6v2.95h-7.6zM258.9 476.81h7.6v2.95h-7.6zM244.3 479.46h7.6v2.95h-7.6zM266.3 479.46h7.6v2.95h-7.6zM288.2 484.75h7.6v2.95h-7.6z"/>
<path fill="#133a39" d="M317.4 103.30h7.6v2.95h-7.6zM332.1 105.95h7.6v2.95h-7.6zM383.3 105.95h7.6v2.95h-7.6zM390.6 105.95h7.6v2.95h-7.6zM375.9 108.60h7.6v2.95h-7.6zM368.6 111.25h7.6v2.95h-7.6zM390.6 116.54h7.6v2.95h-7.6zM317.4 140.39h7.6v2.95h-7.6zM332.1 140.39h7.6v2.95h-7.6zM310.1 148.33h7.6v2.95h-7.6zM332.1 153.63h7.6v2.95h-7.6zM354.0 153.63h7.6v2.95h-7.6zM258.9 156.28h7.6v2.95h-7.6zM354.0 156.28h7.6v2.95h-7.6zM361.3 156.28h7.6v2.95h-7.6zM244.3 158.93h7.6v2.95h-7.6zM237.0 166.88h7.6v2.95h-7.6zM383.3 172.17h7.6v2.95h-7.6zM317.4 174.82h7.6v2.95h-7.6zM237.0 182.77h7.6v2.95h-7.6zM346.7 196.01h7.6v2.95h-7.6zM244.3 230.45h7.6v2.95h-7.6zM251.6 230.45h7.6v2.95h-7.6zM237.0 243.70h7.6v2.95h-7.6zM266.3 248.99h7.6v2.95h-7.6zM383.3 251.64h7.6v2.95h-7.6zM273.6 254.29h7.6v2.95h-7.6zM383.3 254.29h7.6v2.95h-7.6zM310.1 256.94h7.6v2.95h-7.6zM266.3 259.59h7.6v2.95h-7.6zM390.6 262.24h7.6v2.95h-7.6zM280.9 267.54h7.6v2.95h-7.6zM244.3 270.19h7.6v2.95h-7.6zM390.6 272.83h7.6v2.95h-7.6zM237.0 275.48h7.6v2.95h-7.6zM390.6 275.48h7.6v2.95h-7.6zM361.3 280.78h7.6v2.95h-7.6zM368.6 283.43h7.6v2.95h-7.6zM288.2 294.03h7.6v2.95h-7.6zM295.5 294.03h7.6v2.95h-7.6zM302.8 301.97h7.6v2.95h-7.6zM310.1 312.57h7.6v2.95h-7.6zM288.2 317.87h7.6v2.95h-7.6zM383.3 320.52h7.6v2.95h-7.6zM324.8 323.17h7.6v2.95h-7.6zM354.0 323.17h7.6v2.95h-7.6zM332.1 325.81h7.6v2.95h-7.6zM375.9 325.81h7.6v2.95h-7.6zM324.8 328.46h7.6v2.95h-7.6zM324.8 331.11h7.6v2.95h-7.6zM332.1 333.76h7.6v2.95h-7.6zM346.7 333.76h7.6v2.95h-7.6zM288.2 344.36h7.6v2.95h-7.6zM288.2 352.30h7.6v2.95h-7.6zM339.4 352.30h7.6v2.95h-7.6zM302.8 357.60h7.6v2.95h-7.6zM310.1 360.25h7.6v2.95h-7.6zM383.3 360.25h7.6v2.95h-7.6zM383.3 365.55h7.6v2.95h-7.6zM237.0 368.20h7.6v2.95h-7.6zM266.3 368.20h7.6v2.95h-7.6zM273.6 368.20h7.6v2.95h-7.6zM288.2 368.20h7.6v2.95h-7.6zM310.1 373.50h7.6v2.95h-7.6zM339.4 376.14h7.6v2.95h-7.6zM375.9 376.14h7.6v2.95h-7.6zM383.3 381.44h7.6v2.95h-7.6zM339.4 386.74h7.6v2.95h-7.6zM244.3 389.39h7.6v2.95h-7.6zM317.4 407.93h7.6v2.95h-7.6zM332.1 426.48h7.6v2.95h-7.6zM288.2 431.77h7.6v2.95h-7.6zM244.3 447.67h7.6v2.95h-7.6zM317.4 458.26h7.6v2.95h-7.6zM266.3 466.21h7.6v2.95h-7.6zM237.0 474.16h7.6v2.95h-7.6zM244.3 474.16h7.6v2.95h-7.6zM258.9 474.16h7.6v2.95h-7.6zM251.6 476.81h7.6v2.95h-7.6zM266.3 482.10h7.6v2.95h-7.6z"/>
<path fill="#123231" d="M390.6 103.30h7.6v2.95h-7.6zM317.4 105.95h7.6v2.95h-7.6zM368.6 108.60h7.6v2.95h-7.6zM375.9 113.90h7.6v2.95h-7.6zM375.9 156.28h7.6v2.95h-7.6zM383.3 158.93h7.6v2.95h-7.6zM273.6 161.58h7.6v2.95h-7.6zM397.9 164.23h7.6v2.95h-7.6zM237.0 180.12h7.6v2.95h-7.6zM339.4 206.61h7.6v2.95h-7.6zM317.4 214.56h7.6v2.95h-7.6zM346.7 217.21h7.6v2.95h-7.6zM332.1 219.86h7.6v2.95h-7.6zM339.4 219.86h7.6v2.95h-7.6zM383.3 230.45h7.6v2.95h-7.6zM258.9 248.99h7.6v2.95h-7.6zM280.9 248.99h7.6v2.95h-7.6zM383.3 248.99h7.6v2.95h-7.6zM251.6 251.64h7.6v2.95h-7.6zM383.3 259.59h7.6v2.95h-7.6zM258.9 264.89h7.6v2.95h-7.6zM258.9 267.54h7.6v2.95h-7.6zM383.3 272.83h7.6v2.95h-7.6zM251.6 275.48h7.6v2.95h-7.6zM375.9 275.48h7.6v2.95h-7.6zM361.3 291.38h7.6v2.95h-7.6zM251.6 304.62h7.6v2.95h-7.6zM295.5 304.62h7.6v2.95h-7.6zM302.8 312.57h7.6v2.95h-7.6zM310.1 317.87h7.6v2.95h-7.6zM339.4 320.52h7.6v2.95h-7.6zM317.4 325.81h7.6v2.95h-7.6zM346.7 325.81h7.6v2.95h-7.6zM339.4 328.46h7.6v2.95h-7.6zM346.7 328.46h7.6v2.95h-7.6zM317.4 331.11h7.6v2.95h-7.6zM346.7 331.11h7.6v2.95h-7.6zM302.8 344.36h7.6v2.95h-7.6zM244.3 357.60h7.6v2.95h-7.6zM258.9 360.25h7.6v2.95h-7.6zM354.0 360.25h7.6v2.95h-7.6zM251.6 365.55h7.6v2.95h-7.6zM244.3 368.20h7.6v2.95h-7.6zM339.4 370.85h7.6v2.95h-7.6zM244.3 373.50h7.6v2.95h-7.6zM258.9 378.79h7.6v2.95h-7.6zM280.9 378.79h7.6v2.95h-7.6zM339.4 397.34h7.6v2.95h-7.6zM375.9 399.99h7.6v2.95h-7.6zM251.6 423.83h7.6v2.95h-7.6zM317.4 423.83h7.6v2.95h-7.6zM244.3 426.48h7.6v2.95h-7.6zM324.8 429.12h7.6v2.95h-7.6zM273.6 431.77h7.6v2.95h-7.6zM317.4 431.77h7.6v2.95h-7.6zM346.7 434.42h7.6v2.95h-7.6zM332.1 439.72h7.6v2.95h-7.6zM317.4 455.61h7.6v2.95h-7.6zM354.0 466.21h7.6v2.95h-7.6zM266.3 476.81h7.6v2.95h-7.6z"/>
<path fill="#112a2a" d="M332.1 103.30h7.6v2.95h-7.6zM280.9 111.25h7.6v2.95h-7.6zM368.6 113.90h7.6v2.95h-7.6zM346.7 124.49h7.6v2.95h-7.6zM361.3 143.03h7.6v2.95h-7.6zM397.9 143.03h7.6v2.95h-7.6zM266.3 156.28h7.6v2.95h-7.6zM258.9 158.93h7.6v2.95h-7.6zM266.3 164.23h7.6v2.95h-7.6zM332.1 166.88h7.6v2.95h-7.6zM375.9 177.47h7.6v2.95h-7.6zM375.9 180.12h7.6v2.95h-7.6zM244.3 182.77h7.6v2.95h-7.6zM368.6 182.77h7.6v2.95h-7.6zM346.7 198.66h7.6v2.95h-7.6zM354.0 214.56h7.6v2.95h-7.6zM317.4 217.21h7.6v2.95h-7.6zM397.9 219.86h7.6v2.95h-7.6zM361.3 233.10h7.6v2.95h-7.6zM390.6 243.70h7.6v2.95h-7.6zM397.9 243.70h7.6v2.95h-7.6zM295.5 254.29h7.6v2.95h-7.6zM266.3 256.94h7.6v2.95h-7.6zM280.9 256.94h7.6v2.95h-7.6zM288.2 256.94h7.6v2.95h-7.6zM383.3 262.24h7.6v2.95h-7.6zM383.3 264.89h7.6v2.95h-7.6zM251.6 267.54h7.6v2.95h-7.6zM310.1 267.54h7.6v2.95h-7.6zM273.6 270.19h7.6v2.95h-7.6zM280.9 270.19h7.6v2.95h-7.6zM288.2 270.19h7.6v2.95h-7.6zM383.3 270.19h7.6v2.95h-7.6zM383.3 275.48h7.6v2.95h-7.6zM258.9 294.03h7.6v2.95h-7.6zM266.3 296.68h7.6v2.95h-7.6zM375.9 301.97h7.6v2.95h-7.6zM302.8 317.87h7.6v2.95h-7.6zM295.5 320.52h7.6v2.95h-7.6zM332.1 320.52h7.6v2.95h-7.6zM332.1 323.17h7.6v2.95h-7.6zM339.4 323.17h7.6v2.95h-7.6zM346.7 323.17h7.6v2.95h-7.6zM339.4 325.81h7.6v2.95h-7.6zM317.4 328.46h7.6v2.95h-7.6zM339.4 331.11h7.6v2.95h-7.6zM354.0 331.11h7.6v2.95h-7.6zM339.4 333.76h7.6v2.95h-7.6zM324.8 336.41h7.6v2.95h-7.6zM346.7 336.41h7.6v2.95h-7.6zM354.0 336.41h7.6v2.95h-7.6zM361.3 336.41h7.6v2.95h-7.6zM332.1 344.36h7.6v2.95h-7.6zM317.4 349.66h7.6v2.95h-7.6zM332.1 352.30h7.6v2.95h-7.6zM302.8 360.25h7.6v2.95h-7.6zM266.3 365.55h7.6v2.95h-7.6zM251.6 368.20h7.6v2.95h-7.6zM258.9 370.85h7.6v2.95h-7.6zM237.0 373.50h7.6v2.95h-7.6zM251.6 373.50h7.6v2.95h-7.6zM258.9 373.50h7.6v2.95h-7.6zM266.3 373.50h7.6v2.95h-7.6zM273.6 373.50h7.6v2.95h-7.6zM332.1 381.44h7.6v2.95h-7.6zM237.0 392.04h7.6v2.95h-7.6zM244.3 392.04h7.6v2.95h-7.6zM258.9 402.63h7.6v2.95h-7.6zM324.8 418.53h7.6v2.95h-7.6zM237.0 437.07h7.6v2.95h-7.6zM273.6 452.97h7.6v2.95h-7.6zM332.1 452.97h7.6v2.95h-7.6zM258.9 455.61h7.6v2.95h-7.6zM273.6 455.61h7.6v2.95h-7.6zM237.0 458.26h7.6v2.95h-7.6zM251.6 458.26h7.6v2.95h-7.6zM258.9 458.26h7.6v2.95h-7.6zM266.3 458.26h7.6v2.95h-7.6zM273.6 458.26h7.6v2.95h-7.6zM237.0 460.91h7.6v2.95h-7.6zM244.3 460.91h7.6v2.95h-7.6zM251.6 460.91h7.6v2.95h-7.6zM266.3 460.91h7.6v2.95h-7.6zM273.6 460.91h7.6v2.95h-7.6zM302.8 484.75h7.6v2.95h-7.6z"/>
<path fill="#0f2322" d="M280.9 119.19h7.6v2.95h-7.6zM258.9 153.63h7.6v2.95h-7.6zM237.0 156.28h7.6v2.95h-7.6zM244.3 156.28h7.6v2.95h-7.6zM273.6 156.28h7.6v2.95h-7.6zM266.3 158.93h7.6v2.95h-7.6zM332.1 169.52h7.6v2.95h-7.6zM244.3 185.42h7.6v2.95h-7.6zM266.3 206.61h7.6v2.95h-7.6zM266.3 209.26h7.6v2.95h-7.6zM361.3 230.45h7.6v2.95h-7.6zM368.6 230.45h7.6v2.95h-7.6zM361.3 235.75h7.6v2.95h-7.6zM368.6 238.40h7.6v2.95h-7.6zM383.3 238.40h7.6v2.95h-7.6zM397.9 238.40h7.6v2.95h-7.6zM361.3 243.70h7.6v2.95h-7.6zM375.9 243.70h7.6v2.95h-7.6zM383.3 243.70h7.6v2.95h-7.6zM368.6 246.34h7.6v2.95h-7.6zM375.9 246.34h7.6v2.95h-7.6zM310.1 248.99h7.6v2.95h-7.6zM237.0 251.64h7.6v2.95h-7.6zM302.8 251.64h7.6v2.95h-7.6zM302.8 254.29h7.6v2.95h-7.6zM310.1 254.29h7.6v2.95h-7.6zM244.3 256.94h7.6v2.95h-7.6zM251.6 256.94h7.6v2.95h-7.6zM295.5 256.94h7.6v2.95h-7.6zM302.8 256.94h7.6v2.95h-7.6zM237.0 259.59h7.6v2.95h-7.6zM288.2 259.59h7.6v2.95h-7.6zM310.1 259.59h7.6v2.95h-7.6zM288.2 262.24h7.6v2.95h-7.6zM295.5 262.24h7.6v2.95h-7.6zM302.8 262.24h7.6v2.95h-7.6zM244.3 264.89h7.6v2.95h-7.6zM251.6 264.89h7.6v2.95h-7.6zM361.3 264.89h7.6v2.95h-7.6zM288.2 267.54h7.6v2.95h-7.6zM302.8 267.54h7.6v2.95h-7.6zM368.6 267.54h7.6v2.95h-7.6zM237.0 270.19h7.6v2.95h-7.6zM346.7 272.83h7.6v2.95h-7.6zM295.5 291.38h7.6v2.95h-7.6zM273.6 304.62h7.6v2.95h-7.6zM390.6 317.87h7.6v2.95h-7.6zM317.4 336.41h7.6v2.95h-7.6zM280.9 341.71h7.6v2.95h-7.6zM354.0 347.01h7.6v2.95h-7.6zM346.7 349.66h7.6v2.95h-7.6zM346.7 352.30h7.6v2.95h-7.6zM354.0 362.90h7.6v2.95h-7.6zM237.0 365.55h7.6v2.95h-7.6zM244.3 365.55h7.6v2.95h-7.6zM251.6 370.85h7.6v2.95h-7.6zM346.7 370.85h7.6v2.95h-7.6zM354.0 378.79h7.6v2.95h-7.6zM346.7 381.44h7.6v2.95h-7.6zM244.3 384.09h7.6v2.95h-7.6zM354.0 384.09h7.6v2.95h-7.6zM295.5 394.69h7.6v2.95h-7.6zM266.3 397.34h7.6v2.95h-7.6zM346.7 402.63h7.6v2.95h-7.6zM354.0 402.63h7.6v2.95h-7.6zM295.5 407.93h7.6v2.95h-7.6zM295.5 410.58h7.6v2.95h-7.6zM354.0 413.23h7.6v2.95h-7.6zM346.7 423.83h7.6v2.95h-7.6zM273.6 426.48h7.6v2.95h-7.6zM280.9 437.07h7.6v2.95h-7.6zM273.6 447.67h7.6v2.95h-7.6zM237.0 452.97h7.6v2.95h-7.6zM251.6 452.97h7.6v2.95h-7.6zM258.9 452.97h7.6v2.95h-7.6zM237.0 455.61h7.6v2.95h-7.6zM251.6 455.61h7.6v2.95h-7.6zM266.3 455.61h7.6v2.95h-7.6zM244.3 458.26h7.6v2.95h-7.6zM368.6 468.86h7.6v2.95h-7.6zM368.6 474.16h7.6v2.95h-7.6zM383.3 476.81h7.6v2.95h-7.6z"/>
<path fill="#0e1b1b" d="M324.8 116.54h7.6v2.95h-7.6zM317.4 127.14h7.6v2.95h-7.6zM361.3 127.14h7.6v2.95h-7.6zM273.6 137.74h7.6v2.95h-7.6zM317.4 145.68h7.6v2.95h-7.6zM375.9 150.98h7.6v2.95h-7.6zM237.0 158.93h7.6v2.95h-7.6zM273.6 158.93h7.6v2.95h-7.6zM324.8 172.17h7.6v2.95h-7.6zM273.6 196.01h7.6v2.95h-7.6zM237.0 201.31h7.6v2.95h-7.6zM375.9 203.96h7.6v2.95h-7.6zM237.0 225.15h7.6v2.95h-7.6zM368.6 233.10h7.6v2.95h-7.6zM368.6 235.75h7.6v2.95h-7.6zM375.9 235.75h7.6v2.95h-7.6zM258.9 238.40h7.6v2.95h-7.6zM361.3 238.40h7.6v2.95h-7.6zM390.6 238.40h7.6v2.95h-7.6zM368.6 241.05h7.6v2.95h-7.6zM375.9 241.05h7.6v2.95h-7.6zM383.3 241.05h7.6v2.95h-7.6zM397.9 241.05h7.6v2.95h-7.6zM273.6 243.70h7.6v2.95h-7.6zM237.0 246.34h7.6v2.95h-7.6zM361.3 246.34h7.6v2.95h-7.6zM383.3 246.34h7.6v2.95h-7.6zM390.6 246.34h7.6v2.95h-7.6zM288.2 248.99h7.6v2.95h-7.6zM295.5 248.99h7.6v2.95h-7.6zM302.8 248.99h7.6v2.95h-7.6zM280.9 251.64h7.6v2.95h-7.6zM288.2 251.64h7.6v2.95h-7.6zM295.5 251.64h7.6v2.95h-7.6zM310.1 251.64h7.6v2.95h-7.6zM361.3 251.64h7.6v2.95h-7.6zM368.6 251.64h7.6v2.95h-7.6zM397.9 251.64h7.6v2.95h-7.6zM237.0 254.29h7.6v2.95h-7.6zM244.3 254.29h7.6v2.95h-7.6zM288.2 254.29h7.6v2.95h-7.6zM361.3 254.29h7.6v2.95h-7.6zM237.0 256.94h7.6v2.95h-7.6zM397.9 256.94h7.6v2.95h-7.6zM280.9 259.59h7.6v2.95h-7.6zM295.5 259.59h7.6v2.95h-7.6zM397.9 259.59h7.6v2.95h-7.6zM237.0 262.24h7.6v2.95h-7.6zM280.9 262.24h7.6v2.95h-7.6zM310.1 262.24h7.6v2.95h-7.6zM237.0 264.89h7.6v2.95h-7.6zM280.9 264.89h7.6v2.95h-7.6zM295.5 264.89h7.6v2.95h-7.6zM368.6 264.89h7.6v2.95h-7.6zM397.9 264.89h7.6v2.95h-7.6zM361.3 267.54h7.6v2.95h-7.6zM375.9 267.54h7.6v2.95h-7.6zM295.5 270.19h7.6v2.95h-7.6zM375.9 272.83h7.6v2.95h-7.6zM310.1 278.13h7.6v2.95h-7.6zM383.3 278.13h7.6v2.95h-7.6zM288.2 286.08h7.6v2.95h-7.6zM288.2 291.38h7.6v2.95h-7.6zM361.3 294.03h7.6v2.95h-7.6zM310.1 296.68h7.6v2.95h-7.6zM368.6 301.97h7.6v2.95h-7.6zM317.4 307.27h7.6v2.95h-7.6zM361.3 309.92h7.6v2.95h-7.6zM361.3 312.57h7.6v2.95h-7.6zM368.6 312.57h7.6v2.95h-7.6zM288.2 315.22h7.6v2.95h-7.6zM346.7 315.22h7.6v2.95h-7.6zM361.3 315.22h7.6v2.95h-7.6zM361.3 317.87h7.6v2.95h-7.6zM361.3 323.17h7.6v2.95h-7.6zM361.3 325.81h7.6v2.95h-7.6zM383.3 333.76h7.6v2.95h-7.6zM332.1 336.41h7.6v2.95h-7.6zM346.7 341.71h7.6v2.95h-7.6zM354.0 341.71h7.6v2.95h-7.6zM375.9 341.71h7.6v2.95h-7.6zM346.7 344.36h7.6v2.95h-7.6zM354.0 344.36h7.6v2.95h-7.6zM375.9 347.01h7.6v2.95h-7.6zM354.0 349.66h7.6v2.95h-7.6zM354.0 352.30h7.6v2.95h-7.6zM346.7 362.90h7.6v2.95h-7.6zM383.3 362.90h7.6v2.95h-7.6zM258.9 365.55h7.6v2.95h-7.6zM273.6 365.55h7.6v2.95h-7.6zM354.0 365.55h7.6v2.95h-7.6zM346.7 368.20h7.6v2.95h-7.6zM354.0 368.20h7.6v2.95h-7.6zM383.3 368.20h7.6v2.95h-7.6zM266.3 370.85h7.6v2.95h-7.6zM273.6 370.85h7.6v2.95h-7.6zM354.0 370.85h7.6v2.95h-7.6zM346.7 373.50h7.6v2.95h-7.6zM354.0 373.50h7.6v2.95h-7.6zM346.7 376.14h7.6v2.95h-7.6zM346.7 378.79h7.6v2.95h-7.6zM354.0 381.44h7.6v2.95h-7.6zM346.7 386.74h7.6v2.95h-7.6zM354.0 386.74h7.6v2.95h-7.6zM375.9 386.74h7.6v2.95h-7.6zM383.3 386.74h7.6v2.95h-7.6zM346.7 389.39h7.6v2.95h-7.6zM354.0 389.39h7.6v2.95h-7.6zM354.0 392.04h7.6v2.95h-7.6zM346.7 394.69h7.6v2.95h-7.6zM354.0 394.69h7.6v2.95h-7.6zM346.7 397.34h7.6v2.95h-7.6zM354.0 397.34h7.6v2.95h-7.6zM354.0 399.99h7.6v2.95h-7.6zM346.7 405.28h7.6v2.95h-7.6zM354.0 405.28h7.6v2.95h-7.6zM346.7 407.93h7.6v2.95h-7.6zM383.3 407.93h7.6v2.95h-7.6zM339.4 410.58h7.6v2.95h-7.6zM354.0 410.58h7.6v2.95h-7.6zM375.9 413.23h7.6v2.95h-7.6zM346.7 415.88h7.6v2.95h-7.6zM368.6 418.53h7.6v2.95h-7.6zM354.0 421.18h7.6v2.95h-7.6zM354.0 423.83h7.6v2.95h-7.6zM295.5 426.48h7.6v2.95h-7.6zM273.6 429.12h7.6v2.95h-7.6zM339.4 429.12h7.6v2.95h-7.6zM354.0 429.12h7.6v2.95h-7.6zM266.3 431.77h7.6v2.95h-7.6zM346.7 431.77h7.6v2.95h-7.6zM339.4 434.42h7.6v2.95h-7.6zM317.4 437.07h7.6v2.95h-7.6zM251.6 439.72h7.6v2.95h-7.6zM258.9 439.72h7.6v2.95h-7.6zM251.6 442.37h7.6v2.95h-7.6zM266.3 442.37h7.6v2.95h-7.6zM332.1 442.37h7.6v2.95h-7.6zM339.4 442.37h7.6v2.95h-7.6zM346.7 442.37h7.6v2.95h-7.6zM258.9 445.02h7.6v2.95h-7.6zM317.4 445.02h7.6v2.95h-7.6zM354.0 445.02h7.6v2.95h-7.6zM251.6 447.67h7.6v2.95h-7.6zM258.9 447.67h7.6v2.95h-7.6zM324.8 450.32h7.6v2.95h-7.6zM354.0 450.32h7.6v2.95h-7.6zM244.3 452.97h7.6v2.95h-7.6zM354.0 452.97h7.6v2.95h-7.6zM244.3 455.61h7.6v2.95h-7.6zM266.3 463.56h7.6v2.95h-7.6zM258.9 468.86h7.6v2.95h-7.6zM273.6 468.86h7.6v2.95h-7.6zM273.6 476.81h7.6v2.95h-7.6zM390.6 482.10h7.6v2.95h-7.6z"/>
<path fill="#0d1313" d="M397.9 103.30h7.6v2.95h-7.6zM383.3 108.60h7.6v2.95h-7.6zM324.8 111.25h7.6v2.95h-7.6zM361.3 111.25h7.6v2.95h-7.6zM317.4 113.90h7.6v2.95h-7.6zM324.8 113.90h7.6v2.95h-7.6zM332.1 113.90h7.6v2.95h-7.6zM339.4 113.90h7.6v2.95h-7.6zM354.0 113.90h7.6v2.95h-7.6zM383.3 113.90h7.6v2.95h-7.6zM397.9 113.90h7.6v2.95h-7.6zM354.0 116.54h7.6v2.95h-7.6zM361.3 116.54h7.6v2.95h-7.6zM397.9 116.54h7.6v2.95h-7.6zM324.8 119.19h7.6v2.95h-7.6zM354.0 119.19h7.6v2.95h-7.6zM390.6 119.19h7.6v2.95h-7.6zM397.9 119.19h7.6v2.95h-7.6zM317.4 121.84h7.6v2.95h-7.6zM324.8 121.84h7.6v2.95h-7.6zM332.1 121.84h7.6v2.95h-7.6zM368.6 121.84h7.6v2.95h-7.6zM317.4 124.49h7.6v2.95h-7.6zM324.8 124.49h7.6v2.95h-7.6zM354.0 124.49h7.6v2.95h-7.6zM361.3 124.49h7.6v2.95h-7.6zM375.9 124.49h7.6v2.95h-7.6zM397.9 124.49h7.6v2.95h-7.6zM332.1 127.14h7.6v2.95h-7.6zM354.0 127.14h7.6v2.95h-7.6zM368.6 127.14h7.6v2.95h-7.6zM397.9 127.14h7.6v2.95h-7.6zM339.4 129.79h7.6v2.95h-7.6zM346.7 129.79h7.6v2.95h-7.6zM354.0 129.79h7.6v2.95h-7.6zM375.9 129.79h7.6v2.95h-7.6zM324.8 132.44h7.6v2.95h-7.6zM339.4 132.44h7.6v2.95h-7.6zM346.7 132.44h7.6v2.95h-7.6zM354.0 132.44h7.6v2.95h-7.6zM375.9 132.44h7.6v2.95h-7.6zM397.9 132.44h7.6v2.95h-7.6zM324.8 135.09h7.6v2.95h-7.6zM339.4 135.09h7.6v2.95h-7.6zM346.7 135.09h7.6v2.95h-7.6zM375.9 135.09h7.6v2.95h-7.6zM390.6 135.09h7.6v2.95h-7.6zM354.0 137.74h7.6v2.95h-7.6zM361.3 137.74h7.6v2.95h-7.6zM383.3 137.74h7.6v2.95h-7.6zM361.3 140.39h7.6v2.95h-7.6zM368.6 140.39h7.6v2.95h-7.6zM361.3 145.68h7.6v2.95h-7.6zM361.3 148.33h7.6v2.95h-7.6zM390.6 148.33h7.6v2.95h-7.6zM397.9 148.33h7.6v2.95h-7.6zM368.6 150.98h7.6v2.95h-7.6zM383.3 153.63h7.6v2.95h-7.6zM397.9 153.63h7.6v2.95h-7.6zM390.6 156.28h7.6v2.95h-7.6zM397.9 156.28h7.6v2.95h-7.6zM332.1 158.93h7.6v2.95h-7.6zM375.9 158.93h7.6v2.95h-7.6zM317.4 161.58h7.6v2.95h-7.6zM368.6 161.58h7.6v2.95h-7.6zM390.6 161.58h7.6v2.95h-7.6zM237.0 164.23h7.6v2.95h-7.6zM339.4 164.23h7.6v2.95h-7.6zM390.6 164.23h7.6v2.95h-7.6zM317.4 166.88h7.6v2.95h-7.6zM375.9 166.88h7.6v2.95h-7.6zM317.4 169.52h7.6v2.95h-7.6zM339.4 169.52h7.6v2.95h-7.6zM354.0 169.52h7.6v2.95h-7.6zM361.3 169.52h7.6v2.95h-7.6zM361.3 172.17h7.6v2.95h-7.6zM397.9 172.17h7.6v2.95h-7.6zM390.6 177.47h7.6v2.95h-7.6zM397.9 177.47h7.6v2.95h-7.6zM317.4 182.77h7.6v2.95h-7.6zM324.8 182.77h7.6v2.95h-7.6zM346.7 182.77h7.6v2.95h-7.6zM317.4 185.42h7.6v2.95h-7.6zM361.3 185.42h7.6v2.95h-7.6zM368.6 185.42h7.6v2.95h-7.6zM383.3 185.42h7.6v2.95h-7.6zM390.6 185.42h7.6v2.95h-7.6zM397.9 185.42h7.6v2.95h-7.6zM237.0 190.72h7.6v2.95h-7.6zM368.6 190.72h7.6v2.95h-7.6zM397.9 190.72h7.6v2.95h-7.6zM317.4 193.37h7.6v2.95h-7.6zM324.8 193.37h7.6v2.95h-7.6zM332.1 193.37h7.6v2.95h-7.6zM339.4 193.37h7.6v2.95h-7.6zM361.3 193.37h7.6v2.95h-7.6zM375.9 193.37h7.6v2.95h-7.6zM324.8 196.01h7.6v2.95h-7.6zM332.1 196.01h7.6v2.95h-7.6zM397.9 196.01h7.6v2.95h-7.6zM368.6 198.66h7.6v2.95h-7.6zM375.9 198.66h7.6v2.95h-7.6zM324.8 201.31h7.6v2.95h-7.6zM339.4 201.31h7.6v2.95h-7.6zM354.0 201.31h7.6v2.95h-7.6zM317.4 203.96h7.6v2.95h-7.6zM390.6 203.96h7.6v2.95h-7.6zM332.1 209.26h7.6v2.95h-7.6zM346.7 211.91h7.6v2.95h-7.6zM368.6 211.91h7.6v2.95h-7.6zM375.9 211.91h7.6v2.95h-7.6zM390.6 211.91h7.6v2.95h-7.6zM368.6 214.56h7.6v2.95h-7.6zM375.9 214.56h7.6v2.95h-7.6zM324.8 217.21h7.6v2.95h-7.6zM332.1 217.21h7.6v2.95h-7.6zM361.3 217.21h7.6v2.95h-7.6zM317.4 219.86h7.6v2.95h-7.6zM324.8 219.86h7.6v2.95h-7.6zM383.3 219.86h7.6v2.95h-7.6zM339.4 222.50h7.6v2.95h-7.6zM361.3 222.50h7.6v2.95h-7.6zM375.9 222.50h7.6v2.95h-7.6zM390.6 222.50h7.6v2.95h-7.6zM375.9 225.15h7.6v2.95h-7.6zM332.1 227.80h7.6v2.95h-7.6zM354.0 227.80h7.6v2.95h-7.6zM368.6 227.80h7.6v2.95h-7.6zM375.9 227.80h7.6v2.95h-7.6zM390.6 227.80h7.6v2.95h-7.6zM375.9 230.45h7.6v2.95h-7.6zM237.0 238.40h7.6v2.95h-7.6zM244.3 238.40h7.6v2.95h-7.6zM251.6 238.40h7.6v2.95h-7.6zM295.5 238.40h7.6v2.95h-7.6zM237.0 241.05h7.6v2.95h-7.6zM244.3 241.05h7.6v2.95h-7.6zM251.6 241.05h7.6v2.95h-7.6zM266.3 241.05h7.6v2.95h-7.6zM295.5 241.05h7.6v2.95h-7.6zM361.3 241.05h7.6v2.95h-7.6zM244.3 243.70h7.6v2.95h-7.6zM251.6 243.70h7.6v2.95h-7.6zM258.9 243.70h7.6v2.95h-7.6zM244.3 246.34h7.6v2.95h-7.6zM258.9 246.34h7.6v2.95h-7.6zM266.3 246.34h7.6v2.95h-7.6zM273.6 246.34h7.6v2.95h-7.6zM295.5 246.34h7.6v2.95h-7.6zM310.1 246.34h7.6v2.95h-7.6zM273.6 248.99h7.6v2.95h-7.6zM368.6 248.99h7.6v2.95h-7.6zM375.9 248.99h7.6v2.95h-7.6zM397.9 248.99h7.6v2.95h-7.6zM375.9 251.64h7.6v2.95h-7.6zM251.6 254.29h7.6v2.95h-7.6zM258.9 254.29h7.6v2.95h-7.6zM375.9 254.29h7.6v2.95h-7.6zM397.9 254.29h7.6v2.95h-7.6zM361.3 256.94h7.6v2.95h-7.6zM368.6 256.94h7.6v2.95h-7.6zM375.9 256.94h7.6v2.95h-7.6zM361.3 259.59h7.6v2.95h-7.6zM375.9 259.59h7.6v2.95h-7.6zM251.6 262.24h7.6v2.95h-7.6zM258.9 262.24h7.6v2.95h-7.6zM368.6 262.24h7.6v2.95h-7.6zM273.6 264.89h7.6v2.95h-7.6zM288.2 264.89h7.6v2.95h-7.6zM302.8 264.89h7.6v2.95h-7.6zM375.9 264.89h7.6v2.95h-7.6zM237.0 267.54h7.6v2.95h-7.6zM244.3 267.54h7.6v2.95h-7.6zM397.9 267.54h7.6v2.95h-7.6zM251.6 270.19h7.6v2.95h-7.6zM302.8 270.19h7.6v2.95h-7.6zM310.1 270.19h7.6v2.95h-7.6zM361.3 270.19h7.6v2.95h-7.6zM375.9 270.19h7.6v2.95h-7.6zM397.9 270.19h7.6v2.95h-7.6zM361.3 272.83h7.6v2.95h-7.6zM368.6 272.83h7.6v2.95h-7.6zM397.9 272.83h7.6v2.95h-7.6zM354.0 275.48h7.6v2.95h-7.6zM361.3 275.48h7.6v2.95h-7.6zM368.6 275.48h7.6v2.95h-7.6zM361.3 278.13h7.6v2.95h-7.6zM368.6 278.13h7.6v2.95h-7.6zM375.9 278.13h7.6v2.95h-7.6zM390.6 278.13h7.6v2.95h-7.6zM397.9 278.13h7.6v2.95h-7.6zM368.6 280.78h7.6v2.95h-7.6zM383.3 280.78h7.6v2.95h-7.6zM375.9 286.08h7.6v2.95h-7.6zM280.9 288.73h7.6v2.95h-7.6zM361.3 288.73h7.6v2.95h-7.6zM368.6 288.73h7.6v2.95h-7.6zM310.1 291.38h7.6v2.95h-7.6zM368.6 291.38h7.6v2.95h-7.6zM375.9 291.38h7.6v2.95h-7.6zM368.6 294.03h7.6v2.95h-7.6zM375.9 294.03h7.6v2.95h-7.6zM361.3 296.68h7.6v2.95h-7.6zM375.9 296.68h7.6v2.95h-7.6zM361.3 299.32h7.6v2.95h-7.6zM368.6 299.32h7.6v2.95h-7.6zM375.9 299.32h7.6v2.95h-7.6zM288.2 301.97h7.6v2.95h-7.6zM310.1 301.97h7.6v2.95h-7.6zM361.3 301.97h7.6v2.95h-7.6zM280.9 304.62h7.6v2.95h-7.6zM361.3 304.62h7.6v2.95h-7.6zM390.6 304.62h7.6v2.95h-7.6zM310.1 307.27h7.6v2.95h-7.6zM361.3 307.27h7.6v2.95h-7.6zM368.6 307.27h7.6v2.95h-7.6zM375.9 307.27h7.6v2.95h-7.6zM295.5 309.92h7.6v2.95h-7.6zM302.8 309.92h7.6v2.95h-7.6zM375.9 309.92h7.6v2.95h-7.6zM288.2 312.57h7.6v2.95h-7.6zM375.9 312.57h7.6v2.95h-7.6zM280.9 317.87h7.6v2.95h-7.6zM295.5 317.87h7.6v2.95h-7.6zM368.6 317.87h7.6v2.95h-7.6zM375.9 317.87h7.6v2.95h-7.6zM266.3 320.52h7.6v2.95h-7.6zM361.3 320.52h7.6v2.95h-7.6zM368.6 320.52h7.6v2.95h-7.6zM375.9 320.52h7.6v2.95h-7.6zM383.3 323.17h7.6v2.95h-7.6zM266.3 325.81h7.6v2.95h-7.6zM368.6 325.81h7.6v2.95h-7.6zM251.6 328.46h7.6v2.95h-7.6zM302.8 328.46h7.6v2.95h-7.6zM361.3 328.46h7.6v2.95h-7.6zM368.6 328.46h7.6v2.95h-7.6zM375.9 328.46h7.6v2.95h-7.6zM295.5 331.11h7.6v2.95h-7.6zM375.9 331.11h7.6v2.95h-7.6zM383.3 331.11h7.6v2.95h-7.6zM361.3 333.76h7.6v2.95h-7.6zM375.9 333.76h7.6v2.95h-7.6zM273.6 336.41h7.6v2.95h-7.6zM346.7 339.06h7.6v2.95h-7.6zM354.0 339.06h7.6v2.95h-7.6zM361.3 339.06h7.6v2.95h-7.6zM368.6 339.06h7.6v2.95h-7.6zM375.9 339.06h7.6v2.95h-7.6zM383.3 341.71h7.6v2.95h-7.6zM280.9 347.01h7.6v2.95h-7.6zM346.7 347.01h7.6v2.95h-7.6zM383.3 347.01h7.6v2.95h-7.6zM288.2 349.66h7.6v2.95h-7.6zM324.8 349.66h7.6v2.95h-7.6zM375.9 349.66h7.6v2.95h-7.6zM383.3 349.66h7.6v2.95h-7.6zM383.3 352.30h7.6v2.95h-7.6zM244.3 354.95h7.6v2.95h-7.6zM258.9 354.95h7.6v2.95h-7.6zM288.2 354.95h7.6v2.95h-7.6zM302.8 354.95h7.6v2.95h-7.6zM354.0 354.95h7.6v2.95h-7.6zM375.9 354.95h7.6v2.95h-7.6zM346.7 357.60h7.6v2.95h-7.6zM383.3 357.60h7.6v2.95h-7.6zM244.3 360.25h7.6v2.95h-7.6zM266.3 360.25h7.6v2.95h-7.6zM332.1 360.25h7.6v2.95h-7.6zM339.4 360.25h7.6v2.95h-7.6zM375.9 360.25h7.6v2.95h-7.6zM237.0 362.90h7.6v2.95h-7.6zM251.6 362.90h7.6v2.95h-7.6zM280.9 362.90h7.6v2.95h-7.6zM346.7 365.55h7.6v2.95h-7.6zM375.9 365.55h7.6v2.95h-7.6zM302.8 368.20h7.6v2.95h-7.6zM324.8 368.20h7.6v2.95h-7.6zM339.4 368.20h7.6v2.95h-7.6zM383.3 370.85h7.6v2.95h-7.6zM332.1 373.50h7.6v2.95h-7.6zM375.9 373.50h7.6v2.95h-7.6zM317.4 376.14h7.6v2.95h-7.6zM324.8 376.14h7.6v2.95h-7.6zM332.1 376.14h7.6v2.95h-7.6zM354.0 376.14h7.6v2.95h-7.6zM383.3 376.14h7.6v2.95h-7.6zM332.1 378.79h7.6v2.95h-7.6zM383.3 378.79h7.6v2.95h-7.6zM288.2 384.09h7.6v2.95h-7.6zM302.8 384.09h7.6v2.95h-7.6zM383.3 384.09h7.6v2.95h-7.6zM317.4 386.74h7.6v2.95h-7.6zM324.8 386.74h7.6v2.95h-7.6zM317.4 389.39h7.6v2.95h-7.6zM383.3 389.39h7.6v2.95h-7.6zM332.1 392.04h7.6v2.95h-7.6zM346.7 392.04h7.6v2.95h-7.6zM375.9 394.69h7.6v2.95h-7.6zM244.3 397.34h7.6v2.95h-7.6zM288.2 397.34h7.6v2.95h-7.6zM332.1 397.34h7.6v2.95h-7.6zM302.8 402.63h7.6v2.95h-7.6zM375.9 405.28h7.6v2.95h-7.6zM383.3 405.28h7.6v2.95h-7.6zM324.8 407.93h7.6v2.95h-7.6zM332.1 407.93h7.6v2.95h-7.6zM354.0 407.93h7.6v2.95h-7.6zM266.3 410.58h7.6v2.95h-7.6zM317.4 410.58h7.6v2.95h-7.6zM346.7 410.58h7.6v2.95h-7.6zM383.3 413.23h7.6v2.95h-7.6zM354.0 415.88h7.6v2.95h-7.6zM361.3 415.88h7.6v2.95h-7.6zM383.3 415.88h7.6v2.95h-7.6zM346.7 418.53h7.6v2.95h-7.6zM354.0 418.53h7.6v2.95h-7.6zM375.9 418.53h7.6v2.95h-7.6zM361.3 421.18h7.6v2.95h-7.6zM368.6 421.18h7.6v2.95h-7.6zM383.3 421.18h7.6v2.95h-7.6zM361.3 423.83h7.6v2.95h-7.6zM368.6 423.83h7.6v2.95h-7.6zM375.9 423.83h7.6v2.95h-7.6zM383.3 423.83h7.6v2.95h-7.6zM346.7 426.48h7.6v2.95h-7.6zM354.0 426.48h7.6v2.95h-7.6zM361.3 426.48h7.6v2.95h-7.6zM375.9 426.48h7.6v2.95h-7.6zM237.0 429.12h7.6v2.95h-7.6zM244.3 429.12h7.6v2.95h-7.6zM251.6 429.12h7.6v2.95h-7.6zM266.3 429.12h7.6v2.95h-7.6zM346.7 429.12h7.6v2.95h-7.6zM237.0 431.77h7.6v2.95h-7.6zM244.3 431.77h7.6v2.95h-7.6zM251.6 431.77h7.6v2.95h-7.6zM324.8 431.77h7.6v2.95h-7.6zM332.1 431.77h7.6v2.95h-7.6zM339.4 431.77h7.6v2.95h-7.6zM354.0 431.77h7.6v2.95h-7.6zM244.3 434.42h7.6v2.95h-7.6zM258.9 434.42h7.6v2.95h-7.6zM266.3 434.42h7.6v2.95h-7.6zM273.6 434.42h7.6v2.95h-7.6zM332.1 434.42h7.6v2.95h-7.6zM354.0 434.42h7.6v2.95h-7.6zM251.6 437.07h7.6v2.95h-7.6zM266.3 437.07h7.6v2.95h-7.6zM324.8 437.07h7.6v2.95h-7.6zM339.4 437.07h7.6v2.95h-7.6zM346.7 437.07h7.6v2.95h-7.6zM237.0 439.72h7.6v2.95h-7.6zM244.3 439.72h7.6v2.95h-7.6zM273.6 439.72h7.6v2.95h-7.6zM317.4 439.72h7.6v2.95h-7.6zM339.4 439.72h7.6v2.95h-7.6zM346.7 439.72h7.6v2.95h-7.6zM354.0 439.72h7.6v2.95h-7.6zM237.0 442.37h7.6v2.95h-7.6zM258.9 442.37h7.6v2.95h-7.6zM317.4 442.37h7.6v2.95h-7.6zM324.8 442.37h7.6v2.95h-7.6zM354.0 442.37h7.6v2.95h-7.6zM244.3 445.02h7.6v2.95h-7.6zM251.6 445.02h7.6v2.95h-7.6zM266.3 445.02h7.6v2.95h-7.6zM273.6 445.02h7.6v2.95h-7.6zM324.8 445.02h7.6v2.95h-7.6zM332.1 445.02h7.6v2.95h-7.6zM339.4 445.02h7.6v2.95h-7.6zM346.7 445.02h7.6v2.95h-7.6zM237.0 447.67h7.6v2.95h-7.6zM266.3 447.67h7.6v2.95h-7.6zM317.4 447.67h7.6v2.95h-7.6zM324.8 447.67h7.6v2.95h-7.6zM332.1 447.67h7.6v2.95h-7.6zM339.4 447.67h7.6v2.95h-7.6zM354.0 447.67h7.6v2.95h-7.6zM237.0 450.32h7.6v2.95h-7.6zM244.3 450.32h7.6v2.95h-7.6zM251.6 450.32h7.6v2.95h-7.6zM317.4 450.32h7.6v2.95h-7.6zM339.4 450.32h7.6v2.95h-7.6zM346.7 450.32h7.6v2.95h-7.6zM266.3 452.97h7.6v2.95h-7.6zM317.4 452.97h7.6v2.95h-7.6zM324.8 452.97h7.6v2.95h-7.6zM339.4 452.97h7.6v2.95h-7.6zM324.8 458.26h7.6v2.95h-7.6zM346.7 458.26h7.6v2.95h-7.6zM339.4 460.91h7.6v2.95h-7.6zM332.1 463.56h7.6v2.95h-7.6zM324.8 466.21h7.6v2.95h-7.6zM310.1 468.86h7.6v2.95h-7.6zM339.4 468.86h7.6v2.95h-7.6z"/>
<path fill="#0c0c0c" d="M383.3 103.30h7.6v2.95h-7.6zM397.9 105.95h7.6v2.95h-7.6zM390.6 108.60h7.6v2.95h-7.6zM317.4 111.25h7.6v2.95h-7.6zM332.1 111.25h7.6v2.95h-7.6zM346.7 111.25h7.6v2.95h-7.6zM354.0 111.25h7.6v2.95h-7.6zM383.3 111.25h7.6v2.95h-7.6zM390.6 111.25h7.6v2.95h-7.6zM288.2 113.90h7.6v2.95h-7.6zM346.7 113.90h7.6v2.95h-7.6zM361.3 113.90h7.6v2.95h-7.6zM288.2 116.54h7.6v2.95h-7.6zM332.1 116.54h7.6v2.95h-7.6zM339.4 116.54h7.6v2.95h-7.6zM346.7 116.54h7.6v2.95h-7.6zM375.9 116.54h7.6v2.95h-7.6zM383.3 116.54h7.6v2.95h-7.6zM332.1 119.19h7.6v2.95h-7.6zM339.4 119.19h7.6v2.95h-7.6zM346.7 119.19h7.6v2.95h-7.6zM361.3 119.19h7.6v2.95h-7.6zM368.6 119.19h7.6v2.95h-7.6zM375.9 119.19h7.6v2.95h-7.6zM383.3 119.19h7.6v2.95h-7.6zM288.2 121.84h7.6v2.95h-7.6zM339.4 121.84h7.6v2.95h-7.6zM354.0 121.84h7.6v2.95h-7.6zM361.3 121.84h7.6v2.95h-7.6zM383.3 121.84h7.6v2.95h-7.6zM390.6 121.84h7.6v2.95h-7.6zM397.9 121.84h7.6v2.95h-7.6zM332.1 124.49h7.6v2.95h-7.6zM339.4 124.49h7.6v2.95h-7.6zM368.6 124.49h7.6v2.95h-7.6zM383.3 124.49h7.6v2.95h-7.6zM324.8 127.14h7.6v2.95h-7.6zM346.7 127.14h7.6v2.95h-7.6zM375.9 127.14h7.6v2.95h-7.6zM383.3 127.14h7.6v2.95h-7.6zM390.6 127.14h7.6v2.95h-7.6zM324.8 129.79h7.6v2.95h-7.6zM332.1 129.79h7.6v2.95h-7.6zM361.3 129.79h7.6v2.95h-7.6zM368.6 129.79h7.6v2.95h-7.6zM383.3 129.79h7.6v2.95h-7.6zM397.9 129.79h7.6v2.95h-7.6zM317.4 132.44h7.6v2.95h-7.6zM361.3 132.44h7.6v2.95h-7.6zM368.6 132.44h7.6v2.95h-7.6zM383.3 132.44h7.6v2.95h-7.6zM390.6 132.44h7.6v2.95h-7.6zM317.4 135.09h7.6v2.95h-7.6zM354.0 135.09h7.6v2.95h-7.6zM361.3 135.09h7.6v2.95h-7.6zM383.3 135.09h7.6v2.95h-7.6zM397.9 135.09h7.6v2.95h-7.6zM295.5 137.74h7.6v2.95h-7.6zM346.7 137.74h7.6v2.95h-7.6zM368.6 137.74h7.6v2.95h-7.6zM375.9 137.74h7.6v2.95h-7.6zM390.6 137.74h7.6v2.95h-7.6zM397.9 137.74h7.6v2.95h-7.6zM288.2 140.39h7.6v2.95h-7.6zM295.5 140.39h7.6v2.95h-7.6zM310.1 140.39h7.6v2.95h-7.6zM339.4 140.39h7.6v2.95h-7.6zM354.0 140.39h7.6v2.95h-7.6zM375.9 140.39h7.6v2.95h-7.6zM383.3 140.39h7.6v2.95h-7.6zM397.9 140.39h7.6v2.95h-7.6zM280.9 143.03h7.6v2.95h-7.6zM288.2 143.03h7.6v2.95h-7.6zM295.5 143.03h7.6v2.95h-7.6zM339.4 143.03h7.6v2.95h-7.6zM346.7 143.03h7.6v2.95h-7.6zM368.6 143.03h7.6v2.95h-7.6zM375.9 143.03h7.6v2.95h-7.6zM390.6 143.03h7.6v2.95h-7.6zM280.9 145.68h7.6v2.95h-7.6zM288.2 145.68h7.6v2.95h-7.6zM295.5 145.68h7.6v2.95h-7.6zM302.8 145.68h7.6v2.95h-7.6zM310.1 145.68h7.6v2.95h-7.6zM324.8 145.68h7.6v2.95h-7.6zM332.1 145.68h7.6v2.95h-7.6zM339.4 145.68h7.6v2.95h-7.6zM346.7 145.68h7.6v2.95h-7.6zM368.6 145.68h7.6v2.95h-7.6zM280.9 148.33h7.6v2.95h-7.6zM288.2 148.33h7.6v2.95h-7.6zM295.5 148.33h7.6v2.95h-7.6zM383.3 148.33h7.6v2.95h-7.6zM280.9 150.98h7.6v2.95h-7.6zM288.2 150.98h7.6v2.95h-7.6zM302.8 150.98h7.6v2.95h-7.6zM361.3 150.98h7.6v2.95h-7.6zM383.3 150.98h7.6v2.95h-7.6zM390.6 150.98h7.6v2.95h-7.6zM397.9 150.98h7.6v2.95h-7.6zM280.9 153.63h7.6v2.95h-7.6zM310.1 153.63h7.6v2.95h-7.6zM390.6 153.63h7.6v2.95h-7.6zM324.8 156.28h7.6v2.95h-7.6zM332.1 156.28h7.6v2.95h-7.6zM339.4 156.28h7.6v2.95h-7.6zM368.6 156.28h7.6v2.95h-7.6zM383.3 156.28h7.6v2.95h-7.6zM317.4 158.93h7.6v2.95h-7.6zM324.8 158.93h7.6v2.95h-7.6zM354.0 158.93h7.6v2.95h-7.6zM361.3 158.93h7.6v2.95h-7.6zM368.6 158.93h7.6v2.95h-7.6zM390.6 158.93h7.6v2.95h-7.6zM397.9 158.93h7.6v2.95h-7.6zM237.0 161.58h7.6v2.95h-7.6zM324.8 161.58h7.6v2.95h-7.6zM332.1 161.58h7.6v2.95h-7.6zM339.4 161.58h7.6v2.95h-7.6zM346.7 161.58h7.6v2.95h-7.6zM354.0 161.58h7.6v2.95h-7.6zM375.9 161.58h7.6v2.95h-7.6zM383.3 161.58h7.6v2.95h-7.6zM251.6 164.23h7.6v2.95h-7.6zM273.6 164.23h7.6v2.95h-7.6zM317.4 164.23h7.6v2.95h-7.6zM324.8 164.23h7.6v2.95h-7.6zM332.1 164.23h7.6v2.95h-7.6zM346.7 164.23h7.6v2.95h-7.6zM361.3 164.23h7.6v2.95h-7.6zM368.6 164.23h7.6v2.95h-7.6zM383.3 164.23h7.6v2.95h-7.6zM244.3 166.88h7.6v2.95h-7.6zM258.9 166.88h7.6v2.95h-7.6zM273.6 166.88h7.6v2.95h-7.6zM324.8 166.88h7.6v2.95h-7.6zM346.7 166.88h7.6v2.95h-7.6zM354.0 166.88h7.6v2.95h-7.6zM361.3 166.88h7.6v2.95h-7.6zM368.6 166.88h7.6v2.95h-7.6zM383.3 166.88h7.6v2.95h-7.6zM390.6 166.88h7.6v2.95h-7.6zM397.9 166.88h7.6v2.95h-7.6zM244.3 169.52h7.6v2.95h-7.6zM251.6 169.52h7.6v2.95h-7.6zM258.9 169.52h7.6v2.95h-7.6zM273.6 169.52h7.6v2.95h-7.6zM346.7 169.52h7.6v2.95h-7.6zM368.6 169.52h7.6v2.95h-7.6zM375.9 169.52h7.6v2.95h-7.6zM383.3 169.52h7.6v2.95h-7.6zM390.6 169.52h7.6v2.95h-7.6zM397.9 169.52h7.6v2.95h-7.6zM244.3 172.17h7.6v2.95h-7.6zM266.3 172.17h7.6v2.95h-7.6zM317.4 172.17h7.6v2.95h-7.6zM332.1 172.17h7.6v2.95h-7.6zM339.4 172.17h7.6v2.95h-7.6zM346.7 172.17h7.6v2.95h-7.6zM368.6 172.17h7.6v2.95h-7.6zM375.9 172.17h7.6v2.95h-7.6zM251.6 174.82h7.6v2.95h-7.6zM266.3 174.82h7.6v2.95h-7.6zM324.8 174.82h7.6v2.95h-7.6zM332.1 174.82h7.6v2.95h-7.6zM339.4 174.82h7.6v2.95h-7.6zM346.7 174.82h7.6v2.95h-7.6zM354.0 174.82h7.6v2.95h-7.6zM361.3 174.82h7.6v2.95h-7.6zM368.6 174.82h7.6v2.95h-7.6zM375.9 174.82h7.6v2.95h-7.6zM390.6 174.82h7.6v2.95h-7.6zM237.0 177.47h7.6v2.95h-7.6zM266.3 177.47h7.6v2.95h-7.6zM317.4 177.47h7.6v2.95h-7.6zM324.8 177.47h7.6v2.95h-7.6zM332.1 177.47h7.6v2.95h-7.6zM339.4 177.47h7.6v2.95h-7.6zM346.7 177.47h7.6v2.95h-7.6zM361.3 177.47h7.6v2.95h-7.6zM368.6 177.47h7.6v2.95h-7.6zM383.3 177.47h7.6v2.95h-7.6zM332.1 180.12h7.6v2.95h-7.6zM339.4 180.12h7.6v2.95h-7.6zM346.7 180.12h7.6v2.95h-7.6zM354.0 180.12h7.6v2.95h-7.6zM383.3 180.12h7.6v2.95h-7.6zM390.6 180.12h7.6v2.95h-7.6zM397.9 180.12h7.6v2.95h-7.6zM339.4 182.77h7.6v2.95h-7.6zM354.0 182.77h7.6v2.95h-7.6zM361.3 182.77h7.6v2.95h-7.6zM375.9 182.77h7.6v2.95h-7.6zM390.6 182.77h7.6v2.95h-7.6zM324.8 185.42h7.6v2.95h-7.6zM332.1 185.42h7.6v2.95h-7.6zM346.7 185.42h7.6v2.95h-7.6zM354.0 185.42h7.6v2.95h-7.6zM375.9 185.42h7.6v2.95h-7.6zM324.8 188.07h7.6v2.95h-7.6zM354.0 188.07h7.6v2.95h-7.6zM361.3 188.07h7.6v2.95h-7.6zM368.6 188.07h7.6v2.95h-7.6zM375.9 188.07h7.6v2.95h-7.6zM383.3 188.07h7.6v2.95h-7.6zM390.6 188.07h7.6v2.95h-7.6zM397.9 188.07h7.6v2.95h-7.6zM317.4 190.72h7.6v2.95h-7.6zM324.8 190.72h7.6v2.95h-7.6zM332.1 190.72h7.6v2.95h-7.6zM339.4 190.72h7.6v2.95h-7.6zM346.7 190.72h7.6v2.95h-7.6zM361.3 190.72h7.6v2.95h-7.6zM375.9 190.72h7.6v2.95h-7.6zM390.6 190.72h7.6v2.95h-7.6zM354.0 193.37h7.6v2.95h-7.6zM368.6 193.37h7.6v2.95h-7.6zM383.3 193.37h7.6v2.95h-7.6zM390.6 193.37h7.6v2.95h-7.6zM397.9 193.37h7.6v2.95h-7.6zM339.4 196.01h7.6v2.95h-7.6zM361.3 196.01h7.6v2.95h-7.6zM368.6 196.01h7.6v2.95h-7.6zM375.9 196.01h7.6v2.95h-7.6zM383.3 196.01h7.6v2.95h-7.6zM390.6 196.01h7.6v2.95h-7.6zM295.5 198.66h7.6v2.95h-7.6zM324.8 198.66h7.6v2.95h-7.6zM332.1 198.66h7.6v2.95h-7.6zM339.4 198.66h7.6v2.95h-7.6zM390.6 198.66h7.6v2.95h-7.6zM397.9 198.66h7.6v2.95h-7.6zM317.4 201.31h7.6v2.95h-7.6zM332.1 201.31h7.6v2.95h-7.6zM346.7 201.31h7.6v2.95h-7.6zM361.3 201.31h7.6v2.95h-7.6zM368.6 201.31h7.6v2.95h-7.6zM375.9 201.31h7.6v2.95h-7.6zM390.6 201.31h7.6v2.95h-7.6zM397.9 201.31h7.6v2.95h-7.6zM258.9 203.96h7.6v2.95h-7.6zM324.8 203.96h7.6v2.95h-7.6zM339.4 203.96h7.6v2.95h-7.6zM354.0 203.96h7.6v2.95h-7.6zM361.3 203.96h7.6v2.95h-7.6zM368.6 203.96h7.6v2.95h-7.6zM383.3 203.96h7.6v2.95h-7.6zM397.9 203.96h7.6v2.95h-7.6zM324.8 206.61h7.6v2.95h-7.6zM332.1 206.61h7.6v2.95h-7.6zM354.0 206.61h7.6v2.95h-7.6zM361.3 206.61h7.6v2.95h-7.6zM368.6 206.61h7.6v2.95h-7.6zM375.9 206.61h7.6v2.95h-7.6zM383.3 206.61h7.6v2.95h-7.6zM317.4 209.26h7.6v2.95h-7.6zM339.4 209.26h7.6v2.95h-7.6zM346.7 209.26h7.6v2.95h-7.6zM368.6 209.26h7.6v2.95h-7.6zM375.9 209.26h7.6v2.95h-7.6zM383.3 209.26h7.6v2.95h-7.6zM390.6 209.26h7.6v2.95h-7.6zM397.9 209.26h7.6v2.95h-7.6zM324.8 211.91h7.6v2.95h-7.6zM332.1 211.91h7.6v2.95h-7.6zM339.4 211.91h7.6v2.95h-7.6zM361.3 211.91h7.6v2.95h-7.6zM383.3 211.91h7.6v2.95h-7.6zM397.9 211.91h7.6v2.95h-7.6zM332.1 214.56h7.6v2.95h-7.6zM339.4 214.56h7.6v2.95h-7.6zM346.7 214.56h7.6v2.95h-7.6zM361.3 214.56h7.6v2.95h-7.6zM339.4 217.21h7.6v2.95h-7.6zM354.0 217.21h7.6v2.95h-7.6zM375.9 217.21h7.6v2.95h-7.6zM383.3 217.21h7.6v2.95h-7.6zM390.6 217.21h7.6v2.95h-7.6zM397.9 217.21h7.6v2.95h-7.6zM346.7 219.86h7.6v2.95h-7.6zM354.0 219.86h7.6v2.95h-7.6zM361.3 219.86h7.6v2.95h-7.6zM375.9 219.86h7.6v2.95h-7.6zM317.4 222.50h7.6v2.95h-7.6zM324.8 222.50h7.6v2.95h-7.6zM332.1 222.50h7.6v2.95h-7.6zM354.0 222.50h7.6v2.95h-7.6zM397.9 222.50h7.6v2.95h-7.6zM324.8 225.15h7.6v2.95h-7.6zM332.1 225.15h7.6v2.95h-7.6zM346.7 225.15h7.6v2.95h-7.6zM354.0 225.15h7.6v2.95h-7.6zM361.3 225.15h7.6v2.95h-7.6zM368.6 225.15h7.6v2.95h-7.6zM383.3 225.15h7.6v2.95h-7.6zM397.9 225.15h7.6v2.95h-7.6zM317.4 227.80h7.6v2.95h-7.6zM324.8 227.80h7.6v2.95h-7.6zM339.4 227.80h7.6v2.95h-7.6zM346.7 227.80h7.6v2.95h-7.6zM361.3 227.80h7.6v2.95h-7.6zM397.9 227.80h7.6v2.95h-7.6zM280.9 235.75h7.6v2.95h-7.6zM310.1 235.75h7.6v2.95h-7.6zM266.3 238.40h7.6v2.95h-7.6zM302.8 238.40h7.6v2.95h-7.6zM310.1 238.40h7.6v2.95h-7.6zM273.6 241.05h7.6v2.95h-7.6zM288.2 241.05h7.6v2.95h-7.6zM302.8 241.05h7.6v2.95h-7.6zM310.1 241.05h7.6v2.95h-7.6zM390.6 241.05h7.6v2.95h-7.6zM280.9 243.70h7.6v2.95h-7.6zM295.5 243.70h7.6v2.95h-7.6zM302.8 243.70h7.6v2.95h-7.6zM310.1 243.70h7.6v2.95h-7.6zM288.2 246.34h7.6v2.95h-7.6zM244.3 248.99h7.6v2.95h-7.6zM251.6 248.99h7.6v2.95h-7.6zM244.3 251.64h7.6v2.95h-7.6zM258.9 251.64h7.6v2.95h-7.6zM273.6 251.64h7.6v2.95h-7.6zM266.3 254.29h7.6v2.95h-7.6zM368.6 254.29h7.6v2.95h-7.6zM258.9 256.94h7.6v2.95h-7.6zM273.6 256.94h7.6v2.95h-7.6zM244.3 259.59h7.6v2.95h-7.6zM251.6 259.59h7.6v2.95h-7.6zM273.6 259.59h7.6v2.95h-7.6zM368.6 259.59h7.6v2.95h-7.6zM244.3 262.24h7.6v2.95h-7.6zM266.3 262.24h7.6v2.95h-7.6zM273.6 262.24h7.6v2.95h-7.6zM361.3 262.24h7.6v2.95h-7.6zM375.9 262.24h7.6v2.95h-7.6zM397.9 262.24h7.6v2.95h-7.6zM266.3 264.89h7.6v2.95h-7.6zM273.6 267.54h7.6v2.95h-7.6zM295.5 267.54h7.6v2.95h-7.6zM273.6 272.83h7.6v2.95h-7.6zM266.3 275.48h7.6v2.95h-7.6zM295.5 275.48h7.6v2.95h-7.6zM266.3 278.13h7.6v2.95h-7.6zM375.9 280.78h7.6v2.95h-7.6zM244.3 283.43h7.6v2.95h-7.6zM375.9 283.43h7.6v2.95h-7.6zM266.3 286.08h7.6v2.95h-7.6zM361.3 286.08h7.6v2.95h-7.6zM368.6 286.08h7.6v2.95h-7.6zM258.9 288.73h7.6v2.95h-7.6zM273.6 288.73h7.6v2.95h-7.6zM251.6 294.03h7.6v2.95h-7.6zM302.8 296.68h7.6v2.95h-7.6zM368.6 296.68h7.6v2.95h-7.6zM258.9 299.32h7.6v2.95h-7.6zM258.9 304.62h7.6v2.95h-7.6zM302.8 304.62h7.6v2.95h-7.6zM310.1 304.62h7.6v2.95h-7.6zM368.6 304.62h7.6v2.95h-7.6zM375.9 304.62h7.6v2.95h-7.6zM302.8 307.27h7.6v2.95h-7.6zM368.6 309.92h7.6v2.95h-7.6zM244.3 312.57h7.6v2.95h-7.6zM273.6 312.57h7.6v2.95h-7.6zM295.5 312.57h7.6v2.95h-7.6zM368.6 315.22h7.6v2.95h-7.6zM375.9 315.22h7.6v2.95h-7.6zM244.3 317.87h7.6v2.95h-7.6zM273.6 317.87h7.6v2.95h-7.6zM237.0 320.52h7.6v2.95h-7.6zM258.9 320.52h7.6v2.95h-7.6zM280.9 320.52h7.6v2.95h-7.6zM302.8 320.52h7.6v2.95h-7.6zM310.1 320.52h7.6v2.95h-7.6zM237.0 323.17h7.6v2.95h-7.6zM258.9 323.17h7.6v2.95h-7.6zM273.6 323.17h7.6v2.95h-7.6zM295.5 323.17h7.6v2.95h-7.6zM310.1 323.17h7.6v2.95h-7.6zM368.6 323.17h7.6v2.95h-7.6zM375.9 323.17h7.6v2.95h-7.6zM251.6 325.81h7.6v2.95h-7.6zM258.9 325.81h7.6v2.95h-7.6zM288.2 325.81h7.6v2.95h-7.6zM383.3 325.81h7.6v2.95h-7.6zM237.0 328.46h7.6v2.95h-7.6zM244.3 328.46h7.6v2.95h-7.6zM266.3 328.46h7.6v2.95h-7.6zM288.2 328.46h7.6v2.95h-7.6zM310.1 328.46h7.6v2.95h-7.6zM383.3 328.46h7.6v2.95h-7.6zM237.0 331.11h7.6v2.95h-7.6zM244.3 331.11h7.6v2.95h-7.6zM251.6 331.11h7.6v2.95h-7.6zM273.6 331.11h7.6v2.95h-7.6zM302.8 331.11h7.6v2.95h-7.6zM361.3 331.11h7.6v2.95h-7.6zM368.6 331.11h7.6v2.95h-7.6zM266.3 333.76h7.6v2.95h-7.6zM273.6 333.76h7.6v2.95h-7.6zM295.5 333.76h7.6v2.95h-7.6zM302.8 333.76h7.6v2.95h-7.6zM368.6 333.76h7.6v2.95h-7.6zM288.2 336.41h7.6v2.95h-7.6zM295.5 336.41h7.6v2.95h-7.6zM310.1 336.41h7.6v2.95h-7.6zM368.6 336.41h7.6v2.95h-7.6zM375.9 336.41h7.6v2.95h-7.6zM288.2 339.06h7.6v2.95h-7.6zM295.5 339.06h7.6v2.95h-7.6zM302.8 339.06h7.6v2.95h-7.6zM317.4 339.06h7.6v2.95h-7.6zM324.8 339.06h7.6v2.95h-7.6zM332.1 339.06h7.6v2.95h-7.6zM339.4 339.06h7.6v2.95h-7.6zM383.3 339.06h7.6v2.95h-7.6zM390.6 339.06h7.6v2.95h-7.6zM324.8 341.71h7.6v2.95h-7.6zM332.1 341.71h7.6v2.95h-7.6zM266.3 344.36h7.6v2.95h-7.6zM280.9 344.36h7.6v2.95h-7.6zM295.5 344.36h7.6v2.95h-7.6zM317.4 344.36h7.6v2.95h-7.6zM324.8 344.36h7.6v2.95h-7.6zM339.4 344.36h7.6v2.95h-7.6zM375.9 344.36h7.6v2.95h-7.6zM383.3 344.36h7.6v2.95h-7.6zM397.9 344.36h7.6v2.95h-7.6zM266.3 347.01h7.6v2.95h-7.6zM273.6 347.01h7.6v2.95h-7.6zM295.5 347.01h7.6v2.95h-7.6zM310.1 347.01h7.6v2.95h-7.6zM317.4 347.01h7.6v2.95h-7.6zM332.1 347.01h7.6v2.95h-7.6zM339.4 347.01h7.6v2.95h-7.6zM251.6 349.66h7.6v2.95h-7.6zM302.8 349.66h7.6v2.95h-7.6zM310.1 349.66h7.6v2.95h-7.6zM332.1 349.66h7.6v2.95h-7.6zM339.4 349.66h7.6v2.95h-7.6zM266.3 352.30h7.6v2.95h-7.6zM280.9 352.30h7.6v2.95h-7.6zM295.5 352.30h7.6v2.95h-7.6zM302.8 352.30h7.6v2.95h-7.6zM317.4 352.30h7.6v2.95h-7.6zM324.8 352.30h7.6v2.95h-7.6zM375.9 352.30h7.6v2.95h-7.6zM237.0 354.95h7.6v2.95h-7.6zM266.3 354.95h7.6v2.95h-7.6zM295.5 354.95h7.6v2.95h-7.6zM310.1 354.95h7.6v2.95h-7.6zM332.1 354.95h7.6v2.95h-7.6zM339.4 354.95h7.6v2.95h-7.6zM383.3 354.95h7.6v2.95h-7.6zM251.6 357.60h7.6v2.95h-7.6zM266.3 357.60h7.6v2.95h-7.6zM288.2 357.60h7.6v2.95h-7.6zM295.5 357.60h7.6v2.95h-7.6zM310.1 357.60h7.6v2.95h-7.6zM317.4 357.60h7.6v2.95h-7.6zM332.1 357.60h7.6v2.95h-7.6zM339.4 357.60h7.6v2.95h-7.6zM375.9 357.60h7.6v2.95h-7.6zM251.6 360.25h7.6v2.95h-7.6zM273.6 360.25h7.6v2.95h-7.6zM280.9 360.25h7.6v2.95h-7.6zM295.5 360.25h7.6v2.95h-7.6zM324.8 360.25h7.6v2.95h-7.6zM346.7 360.25h7.6v2.95h-7.6zM244.3 362.90h7.6v2.95h-7.6zM258.9 362.90h7.6v2.95h-7.6zM266.3 362.90h7.6v2.95h-7.6zM273.6 362.90h7.6v2.95h-7.6zM288.2 362.90h7.6v2.95h-7.6zM295.5 362.90h7.6v2.95h-7.6zM302.8 362.90h7.6v2.95h-7.6zM310.1 362.90h7.6v2.95h-7.6zM324.8 362.90h7.6v2.95h-7.6zM332.1 362.90h7.6v2.95h-7.6zM339.4 362.90h7.6v2.95h-7.6zM375.9 362.90h7.6v2.95h-7.6zM280.9 365.55h7.6v2.95h-7.6zM288.2 365.55h7.6v2.95h-7.6zM317.4 365.55h7.6v2.95h-7.6zM324.8 365.55h7.6v2.95h-7.6zM339.4 365.55h7.6v2.95h-7.6zM280.9 368.20h7.6v2.95h-7.6zM332.1 368.20h7.6v2.95h-7.6zM375.9 368.20h7.6v2.95h-7.6zM288.2 370.85h7.6v2.95h-7.6zM295.5 370.85h7.6v2.95h-7.6zM324.8 370.85h7.6v2.95h-7.6zM332.1 370.85h7.6v2.95h-7.6zM375.9 370.85h7.6v2.95h-7.6zM280.9 373.50h7.6v2.95h-7.6zM295.5 373.50h7.6v2.95h-7.6zM302.8 373.50h7.6v2.95h-7.6zM383.3 373.50h7.6v2.95h-7.6zM244.3 376.14h7.6v2.95h-7.6zM295.5 376.14h7.6v2.95h-7.6zM368.6 376.14h7.6v2.95h-7.6zM244.3 378.79h7.6v2.95h-7.6zM266.3 378.79h7.6v2.95h-7.6zM295.5 378.79h7.6v2.95h-7.6zM310.1 378.79h7.6v2.95h-7.6zM317.4 378.79h7.6v2.95h-7.6zM324.8 378.79h7.6v2.95h-7.6zM339.4 378.79h7.6v2.95h-7.6zM375.9 378.79h7.6v2.95h-7.6zM273.6 381.44h7.6v2.95h-7.6zM288.2 381.44h7.6v2.95h-7.6zM295.5 381.44h7.6v2.95h-7.6zM310.1 381.44h7.6v2.95h-7.6zM324.8 381.44h7.6v2.95h-7.6zM375.9 381.44h7.6v2.95h-7.6zM280.9 384.09h7.6v2.95h-7.6zM295.5 384.09h7.6v2.95h-7.6zM310.1 384.09h7.6v2.95h-7.6zM332.1 384.09h7.6v2.95h-7.6zM339.4 384.09h7.6v2.95h-7.6zM368.6 384.09h7.6v2.95h-7.6zM375.9 384.09h7.6v2.95h-7.6zM237.0 386.74h7.6v2.95h-7.6zM244.3 386.74h7.6v2.95h-7.6zM266.3 386.74h7.6v2.95h-7.6zM273.6 386.74h7.6v2.95h-7.6zM302.8 386.74h7.6v2.95h-7.6zM310.1 386.74h7.6v2.95h-7.6zM339.4 389.39h7.6v2.95h-7.6zM375.9 389.39h7.6v2.95h-7.6zM390.6 389.39h7.6v2.95h-7.6zM251.6 392.04h7.6v2.95h-7.6zM317.4 392.04h7.6v2.95h-7.6zM324.8 392.04h7.6v2.95h-7.6zM339.4 392.04h7.6v2.95h-7.6zM368.6 392.04h7.6v2.95h-7.6zM375.9 392.04h7.6v2.95h-7.6zM237.0 394.69h7.6v2.95h-7.6zM317.4 394.69h7.6v2.95h-7.6zM324.8 394.69h7.6v2.95h-7.6zM332.1 394.69h7.6v2.95h-7.6zM339.4 394.69h7.6v2.95h-7.6zM383.3 394.69h7.6v2.95h-7.6zM251.6 397.34h7.6v2.95h-7.6zM258.9 397.34h7.6v2.95h-7.6zM317.4 397.34h7.6v2.95h-7.6zM324.8 397.34h7.6v2.95h-7.6zM375.9 397.34h7.6v2.95h-7.6zM383.3 397.34h7.6v2.95h-7.6zM244.3 399.99h7.6v2.95h-7.6zM324.8 399.99h7.6v2.95h-7.6zM237.0 402.63h7.6v2.95h-7.6zM251.6 402.63h7.6v2.95h-7.6zM266.3 402.63h7.6v2.95h-7.6zM317.4 402.63h7.6v2.95h-7.6zM332.1 402.63h7.6v2.95h-7.6zM383.3 402.63h7.6v2.95h-7.6zM390.6 402.63h7.6v2.95h-7.6zM317.4 405.28h7.6v2.95h-7.6zM324.8 405.28h7.6v2.95h-7.6zM332.1 405.28h7.6v2.95h-7.6zM339.4 405.28h7.6v2.95h-7.6zM251.6 407.93h7.6v2.95h-7.6zM310.1 407.93h7.6v2.95h-7.6zM375.9 407.93h7.6v2.95h-7.6zM244.3 410.58h7.6v2.95h-7.6zM258.9 410.58h7.6v2.95h-7.6zM324.8 410.58h7.6v2.95h-7.6zM332.1 410.58h7.6v2.95h-7.6zM375.9 410.58h7.6v2.95h-7.6zM244.3 413.23h7.6v2.95h-7.6zM258.9 413.23h7.6v2.95h-7.6zM324.8 413.23h7.6v2.95h-7.6zM332.1 413.23h7.6v2.95h-7.6zM339.4 413.23h7.6v2.95h-7.6zM266.3 415.88h7.6v2.95h-7.6zM324.8 415.88h7.6v2.95h-7.6zM332.1 415.88h7.6v2.95h-7.6zM368.6 415.88h7.6v2.95h-7.6zM375.9 415.88h7.6v2.95h-7.6zM251.6 418.53h7.6v2.95h-7.6zM258.9 418.53h7.6v2.95h-7.6zM266.3 418.53h7.6v2.95h-7.6zM273.6 418.53h7.6v2.95h-7.6zM317.4 418.53h7.6v2.95h-7.6zM332.1 418.53h7.6v2.95h-7.6zM339.4 418.53h7.6v2.95h-7.6zM361.3 418.53h7.6v2.95h-7.6zM383.3 418.53h7.6v2.95h-7.6zM237.0 421.18h7.6v2.95h-7.6zM244.3 421.18h7.6v2.95h-7.6zM258.9 421.18h7.6v2.95h-7.6zM266.3 421.18h7.6v2.95h-7.6zM317.4 421.18h7.6v2.95h-7.6zM324.8 421.18h7.6v2.95h-7.6zM332.1 421.18h7.6v2.95h-7.6zM339.4 421.18h7.6v2.95h-7.6zM237.0 423.83h7.6v2.95h-7.6zM266.3 423.83h7.6v2.95h-7.6zM324.8 423.83h7.6v2.95h-7.6zM332.1 423.83h7.6v2.95h-7.6zM339.4 423.83h7.6v2.95h-7.6zM237.0 426.48h7.6v2.95h-7.6zM251.6 426.48h7.6v2.95h-7.6zM317.4 426.48h7.6v2.95h-7.6zM339.4 426.48h7.6v2.95h-7.6zM368.6 426.48h7.6v2.95h-7.6zM383.3 426.48h7.6v2.95h-7.6zM258.9 429.12h7.6v2.95h-7.6zM317.4 429.12h7.6v2.95h-7.6zM332.1 429.12h7.6v2.95h-7.6zM258.9 431.77h7.6v2.95h-7.6zM302.8 431.77h7.6v2.95h-7.6zM310.1 431.77h7.6v2.95h-7.6zM237.0 434.42h7.6v2.95h-7.6zM251.6 434.42h7.6v2.95h-7.6zM288.2 434.42h7.6v2.95h-7.6zM317.4 434.42h7.6v2.95h-7.6zM324.8 434.42h7.6v2.95h-7.6zM258.9 437.07h7.6v2.95h-7.6zM273.6 437.07h7.6v2.95h-7.6zM288.2 437.07h7.6v2.95h-7.6zM302.8 437.07h7.6v2.95h-7.6zM310.1 437.07h7.6v2.95h-7.6zM354.0 437.07h7.6v2.95h-7.6zM324.8 439.72h7.6v2.95h-7.6zM244.3 442.37h7.6v2.95h-7.6zM237.0 445.02h7.6v2.95h-7.6zM346.7 447.67h7.6v2.95h-7.6zM258.9 450.32h7.6v2.95h-7.6zM266.3 450.32h7.6v2.95h-7.6zM273.6 450.32h7.6v2.95h-7.6zM346.7 452.97h7.6v2.95h-7.6zM324.8 455.61h7.6v2.95h-7.6zM339.4 455.61h7.6v2.95h-7.6zM346.7 455.61h7.6v2.95h-7.6zM354.0 455.61h7.6v2.95h-7.6zM332.1 458.26h7.6v2.95h-7.6zM339.4 458.26h7.6v2.95h-7.6zM354.0 458.26h7.6v2.95h-7.6zM317.4 460.91h7.6v2.95h-7.6zM324.8 460.91h7.6v2.95h-7.6zM332.1 460.91h7.6v2.95h-7.6zM346.7 460.91h7.6v2.95h-7.6zM354.0 460.91h7.6v2.95h-7.6zM317.4 463.56h7.6v2.95h-7.6zM324.8 463.56h7.6v2.95h-7.6zM339.4 463.56h7.6v2.95h-7.6zM346.7 463.56h7.6v2.95h-7.6zM354.0 463.56h7.6v2.95h-7.6zM317.4 466.21h7.6v2.95h-7.6zM332.1 466.21h7.6v2.95h-7.6zM339.4 466.21h7.6v2.95h-7.6zM346.7 466.21h7.6v2.95h-7.6zM317.4 468.86h7.6v2.95h-7.6zM324.8 468.86h7.6v2.95h-7.6zM332.1 468.86h7.6v2.95h-7.6zM346.7 468.86h7.6v2.95h-7.6zM317.4 471.51h7.6v2.95h-7.6zM324.8 471.51h7.6v2.95h-7.6zM346.7 471.51h7.6v2.95h-7.6zM354.0 471.51h7.6v2.95h-7.6zM346.7 487.40h7.6v2.95h-7.6z"/>
<path fill="#140c0c" d="M375.9 111.25h7.6v2.95h-7.6zM397.9 111.25h7.6v2.95h-7.6zM280.9 113.90h7.6v2.95h-7.6zM280.9 116.54h7.6v2.95h-7.6zM317.4 116.54h7.6v2.95h-7.6zM368.6 116.54h7.6v2.95h-7.6zM288.2 119.19h7.6v2.95h-7.6zM317.4 119.19h7.6v2.95h-7.6zM375.9 121.84h7.6v2.95h-7.6zM390.6 124.49h7.6v2.95h-7.6zM317.4 129.79h7.6v2.95h-7.6zM390.6 129.79h7.6v2.95h-7.6zM332.1 132.44h7.6v2.95h-7.6zM332.1 135.09h7.6v2.95h-7.6zM368.6 135.09h7.6v2.95h-7.6zM280.9 137.74h7.6v2.95h-7.6zM288.2 137.74h7.6v2.95h-7.6zM310.1 137.74h7.6v2.95h-7.6zM339.4 137.74h7.6v2.95h-7.6zM280.9 140.39h7.6v2.95h-7.6zM302.8 140.39h7.6v2.95h-7.6zM346.7 140.39h7.6v2.95h-7.6zM390.6 140.39h7.6v2.95h-7.6zM302.8 143.03h7.6v2.95h-7.6zM354.0 143.03h7.6v2.95h-7.6zM383.3 143.03h7.6v2.95h-7.6zM354.0 145.68h7.6v2.95h-7.6zM375.9 145.68h7.6v2.95h-7.6zM258.9 148.33h7.6v2.95h-7.6zM302.8 148.33h7.6v2.95h-7.6zM368.6 148.33h7.6v2.95h-7.6zM375.9 148.33h7.6v2.95h-7.6zM295.5 150.98h7.6v2.95h-7.6zM310.1 150.98h7.6v2.95h-7.6zM288.2 153.63h7.6v2.95h-7.6zM295.5 153.63h7.6v2.95h-7.6zM302.8 153.63h7.6v2.95h-7.6zM361.3 153.63h7.6v2.95h-7.6zM368.6 153.63h7.6v2.95h-7.6zM375.9 153.63h7.6v2.95h-7.6zM317.4 156.28h7.6v2.95h-7.6zM346.7 156.28h7.6v2.95h-7.6zM339.4 158.93h7.6v2.95h-7.6zM346.7 158.93h7.6v2.95h-7.6zM244.3 161.58h7.6v2.95h-7.6zM251.6 161.58h7.6v2.95h-7.6zM258.9 161.58h7.6v2.95h-7.6zM266.3 161.58h7.6v2.95h-7.6zM361.3 161.58h7.6v2.95h-7.6zM397.9 161.58h7.6v2.95h-7.6zM244.3 164.23h7.6v2.95h-7.6zM258.9 164.23h7.6v2.95h-7.6zM251.6 166.88h7.6v2.95h-7.6zM266.3 166.88h7.6v2.95h-7.6zM339.4 166.88h7.6v2.95h-7.6zM266.3 169.52h7.6v2.95h-7.6zM324.8 169.52h7.6v2.95h-7.6zM237.0 172.17h7.6v2.95h-7.6zM251.6 172.17h7.6v2.95h-7.6zM258.9 172.17h7.6v2.95h-7.6zM273.6 172.17h7.6v2.95h-7.6zM390.6 172.17h7.6v2.95h-7.6zM237.0 174.82h7.6v2.95h-7.6zM244.3 174.82h7.6v2.95h-7.6zM258.9 174.82h7.6v2.95h-7.6zM273.6 174.82h7.6v2.95h-7.6zM383.3 174.82h7.6v2.95h-7.6zM397.9 174.82h7.6v2.95h-7.6zM244.3 177.47h7.6v2.95h-7.6zM251.6 177.47h7.6v2.95h-7.6zM258.9 177.47h7.6v2.95h-7.6zM273.6 177.47h7.6v2.95h-7.6zM354.0 177.47h7.6v2.95h-7.6zM280.9 180.12h7.6v2.95h-7.6zM295.5 180.12h7.6v2.95h-7.6zM302.8 180.12h7.6v2.95h-7.6zM317.4 180.12h7.6v2.95h-7.6zM324.8 180.12h7.6v2.95h-7.6zM361.3 180.12h7.6v2.95h-7.6zM368.6 180.12h7.6v2.95h-7.6zM332.1 182.77h7.6v2.95h-7.6zM383.3 182.77h7.6v2.95h-7.6zM397.9 182.77h7.6v2.95h-7.6zM237.0 185.42h7.6v2.95h-7.6zM251.6 185.42h7.6v2.95h-7.6zM258.9 185.42h7.6v2.95h-7.6zM273.6 185.42h7.6v2.95h-7.6zM332.1 188.07h7.6v2.95h-7.6zM339.4 188.07h7.6v2.95h-7.6zM346.7 188.07h7.6v2.95h-7.6zM354.0 190.72h7.6v2.95h-7.6zM383.3 190.72h7.6v2.95h-7.6zM346.7 193.37h7.6v2.95h-7.6zM317.4 196.01h7.6v2.95h-7.6zM354.0 196.01h7.6v2.95h-7.6zM317.4 198.66h7.6v2.95h-7.6zM354.0 198.66h7.6v2.95h-7.6zM361.3 198.66h7.6v2.95h-7.6zM383.3 198.66h7.6v2.95h-7.6zM383.3 201.31h7.6v2.95h-7.6zM237.0 203.96h7.6v2.95h-7.6zM244.3 203.96h7.6v2.95h-7.6zM251.6 203.96h7.6v2.95h-7.6zM266.3 203.96h7.6v2.95h-7.6zM332.1 203.96h7.6v2.95h-7.6zM346.7 203.96h7.6v2.95h-7.6zM251.6 206.61h7.6v2.95h-7.6zM258.9 206.61h7.6v2.95h-7.6zM273.6 206.61h7.6v2.95h-7.6zM317.4 206.61h7.6v2.95h-7.6zM346.7 206.61h7.6v2.95h-7.6zM390.6 206.61h7.6v2.95h-7.6zM397.9 206.61h7.6v2.95h-7.6zM324.8 209.26h7.6v2.95h-7.6zM354.0 209.26h7.6v2.95h-7.6zM361.3 209.26h7.6v2.95h-7.6zM317.4 211.91h7.6v2.95h-7.6zM354.0 211.91h7.6v2.95h-7.6zM244.3 214.56h7.6v2.95h-7.6zM258.9 214.56h7.6v2.95h-7.6zM324.8 214.56h7.6v2.95h-7.6zM383.3 214.56h7.6v2.95h-7.6zM390.6 214.56h7.6v2.95h-7.6zM397.9 214.56h7.6v2.95h-7.6zM368.6 219.86h7.6v2.95h-7.6zM390.6 219.86h7.6v2.95h-7.6zM346.7 222.50h7.6v2.95h-7.6zM368.6 222.50h7.6v2.95h-7.6zM383.3 222.50h7.6v2.95h-7.6zM317.4 225.15h7.6v2.95h-7.6zM339.4 225.15h7.6v2.95h-7.6zM390.6 225.15h7.6v2.95h-7.6zM383.3 227.80h7.6v2.95h-7.6zM288.2 235.75h7.6v2.95h-7.6zM295.5 235.75h7.6v2.95h-7.6zM302.8 235.75h7.6v2.95h-7.6zM280.9 238.40h7.6v2.95h-7.6zM280.9 241.05h7.6v2.95h-7.6zM266.3 243.70h7.6v2.95h-7.6zM288.2 243.70h7.6v2.95h-7.6zM280.9 246.34h7.6v2.95h-7.6zM302.8 246.34h7.6v2.95h-7.6zM258.9 272.83h7.6v2.95h-7.6zM266.3 272.83h7.6v2.95h-7.6zM258.9 275.48h7.6v2.95h-7.6zM258.9 278.13h7.6v2.95h-7.6zM273.6 278.13h7.6v2.95h-7.6zM258.9 280.78h7.6v2.95h-7.6zM273.6 280.78h7.6v2.95h-7.6zM346.7 280.78h7.6v2.95h-7.6zM354.0 280.78h7.6v2.95h-7.6zM251.6 283.43h7.6v2.95h-7.6zM266.3 283.43h7.6v2.95h-7.6zM273.6 283.43h7.6v2.95h-7.6zM244.3 286.08h7.6v2.95h-7.6zM273.6 286.08h7.6v2.95h-7.6zM251.6 288.73h7.6v2.95h-7.6zM266.3 288.73h7.6v2.95h-7.6zM332.1 288.73h7.6v2.95h-7.6zM251.6 291.38h7.6v2.95h-7.6zM266.3 291.38h7.6v2.95h-7.6zM273.6 291.38h7.6v2.95h-7.6zM266.3 294.03h7.6v2.95h-7.6zM273.6 294.03h7.6v2.95h-7.6zM266.3 299.32h7.6v2.95h-7.6zM258.9 301.97h7.6v2.95h-7.6zM339.4 301.97h7.6v2.95h-7.6zM244.3 304.62h7.6v2.95h-7.6zM266.3 304.62h7.6v2.95h-7.6zM324.8 304.62h7.6v2.95h-7.6zM258.9 307.27h7.6v2.95h-7.6zM273.6 309.92h7.6v2.95h-7.6zM346.7 309.92h7.6v2.95h-7.6zM251.6 312.57h7.6v2.95h-7.6zM258.9 312.57h7.6v2.95h-7.6zM266.3 312.57h7.6v2.95h-7.6zM317.4 312.57h7.6v2.95h-7.6zM244.3 315.22h7.6v2.95h-7.6zM266.3 315.22h7.6v2.95h-7.6zM251.6 317.87h7.6v2.95h-7.6zM258.9 317.87h7.6v2.95h-7.6zM266.3 317.87h7.6v2.95h-7.6zM244.3 320.52h7.6v2.95h-7.6zM251.6 320.52h7.6v2.95h-7.6zM273.6 320.52h7.6v2.95h-7.6zM288.2 320.52h7.6v2.95h-7.6zM244.3 323.17h7.6v2.95h-7.6zM251.6 323.17h7.6v2.95h-7.6zM266.3 323.17h7.6v2.95h-7.6zM280.9 323.17h7.6v2.95h-7.6zM288.2 323.17h7.6v2.95h-7.6zM302.8 323.17h7.6v2.95h-7.6zM273.6 325.81h7.6v2.95h-7.6zM280.9 325.81h7.6v2.95h-7.6zM295.5 325.81h7.6v2.95h-7.6zM310.1 325.81h7.6v2.95h-7.6zM258.9 328.46h7.6v2.95h-7.6zM273.6 328.46h7.6v2.95h-7.6zM280.9 328.46h7.6v2.95h-7.6zM295.5 328.46h7.6v2.95h-7.6zM390.6 328.46h7.6v2.95h-7.6zM258.9 331.11h7.6v2.95h-7.6zM266.3 331.11h7.6v2.95h-7.6zM280.9 331.11h7.6v2.95h-7.6zM288.2 331.11h7.6v2.95h-7.6zM310.1 331.11h7.6v2.95h-7.6zM280.9 333.76h7.6v2.95h-7.6zM310.1 333.76h7.6v2.95h-7.6zM266.3 336.41h7.6v2.95h-7.6zM280.9 336.41h7.6v2.95h-7.6zM302.8 336.41h7.6v2.95h-7.6zM383.3 336.41h7.6v2.95h-7.6zM390.6 336.41h7.6v2.95h-7.6zM266.3 339.06h7.6v2.95h-7.6zM273.6 339.06h7.6v2.95h-7.6zM280.9 339.06h7.6v2.95h-7.6zM310.1 339.06h7.6v2.95h-7.6zM397.9 339.06h7.6v2.95h-7.6zM244.3 341.71h7.6v2.95h-7.6zM266.3 341.71h7.6v2.95h-7.6zM273.6 341.71h7.6v2.95h-7.6zM288.2 341.71h7.6v2.95h-7.6zM295.5 341.71h7.6v2.95h-7.6zM302.8 341.71h7.6v2.95h-7.6zM310.1 341.71h7.6v2.95h-7.6zM317.4 341.71h7.6v2.95h-7.6zM397.9 341.71h7.6v2.95h-7.6zM273.6 344.36h7.6v2.95h-7.6zM390.6 344.36h7.6v2.95h-7.6zM237.0 347.01h7.6v2.95h-7.6zM244.3 347.01h7.6v2.95h-7.6zM258.9 347.01h7.6v2.95h-7.6zM288.2 347.01h7.6v2.95h-7.6zM302.8 347.01h7.6v2.95h-7.6zM324.8 347.01h7.6v2.95h-7.6zM244.3 349.66h7.6v2.95h-7.6zM266.3 349.66h7.6v2.95h-7.6zM280.9 349.66h7.6v2.95h-7.6zM273.6 352.30h7.6v2.95h-7.6zM310.1 352.30h7.6v2.95h-7.6zM273.6 354.95h7.6v2.95h-7.6zM280.9 354.95h7.6v2.95h-7.6zM317.4 354.95h7.6v2.95h-7.6zM324.8 354.95h7.6v2.95h-7.6zM237.0 357.60h7.6v2.95h-7.6zM258.9 357.60h7.6v2.95h-7.6zM280.9 357.60h7.6v2.95h-7.6zM324.8 357.60h7.6v2.95h-7.6zM237.0 360.25h7.6v2.95h-7.6zM288.2 360.25h7.6v2.95h-7.6zM317.4 360.25h7.6v2.95h-7.6zM317.4 362.90h7.6v2.95h-7.6zM295.5 365.55h7.6v2.95h-7.6zM302.8 365.55h7.6v2.95h-7.6zM310.1 365.55h7.6v2.95h-7.6zM332.1 365.55h7.6v2.95h-7.6zM295.5 368.20h7.6v2.95h-7.6zM310.1 368.20h7.6v2.95h-7.6zM317.4 368.20h7.6v2.95h-7.6zM397.9 368.20h7.6v2.95h-7.6zM280.9 370.85h7.6v2.95h-7.6zM302.8 370.85h7.6v2.95h-7.6zM317.4 370.85h7.6v2.95h-7.6zM288.2 373.50h7.6v2.95h-7.6zM317.4 373.50h7.6v2.95h-7.6zM324.8 373.50h7.6v2.95h-7.6zM237.0 376.14h7.6v2.95h-7.6zM251.6 376.14h7.6v2.95h-7.6zM258.9 376.14h7.6v2.95h-7.6zM273.6 376.14h7.6v2.95h-7.6zM280.9 376.14h7.6v2.95h-7.6zM288.2 376.14h7.6v2.95h-7.6zM302.8 376.14h7.6v2.95h-7.6zM237.0 378.79h7.6v2.95h-7.6zM273.6 378.79h7.6v2.95h-7.6zM288.2 378.79h7.6v2.95h-7.6zM302.8 378.79h7.6v2.95h-7.6zM390.6 378.79h7.6v2.95h-7.6zM237.0 381.44h7.6v2.95h-7.6zM251.6 381.44h7.6v2.95h-7.6zM258.9 381.44h7.6v2.95h-7.6zM266.3 381.44h7.6v2.95h-7.6zM280.9 381.44h7.6v2.95h-7.6zM302.8 381.44h7.6v2.95h-7.6zM317.4 381.44h7.6v2.95h-7.6zM339.4 381.44h7.6v2.95h-7.6zM390.6 381.44h7.6v2.95h-7.6zM397.9 381.44h7.6v2.95h-7.6zM237.0 384.09h7.6v2.95h-7.6zM251.6 384.09h7.6v2.95h-7.6zM266.3 384.09h7.6v2.95h-7.6zM273.6 384.09h7.6v2.95h-7.6zM317.4 384.09h7.6v2.95h-7.6zM324.8 384.09h7.6v2.95h-7.6zM251.6 386.74h7.6v2.95h-7.6zM258.9 386.74h7.6v2.95h-7.6zM280.9 386.74h7.6v2.95h-7.6zM288.2 386.74h7.6v2.95h-7.6zM295.5 386.74h7.6v2.95h-7.6zM332.1 386.74h7.6v2.95h-7.6zM258.9 389.39h7.6v2.95h-7.6zM266.3 389.39h7.6v2.95h-7.6zM273.6 389.39h7.6v2.95h-7.6zM324.8 389.39h7.6v2.95h-7.6zM332.1 389.39h7.6v2.95h-7.6zM397.9 389.39h7.6v2.95h-7.6zM266.3 392.04h7.6v2.95h-7.6zM273.6 392.04h7.6v2.95h-7.6zM251.6 394.69h7.6v2.95h-7.6zM258.9 394.69h7.6v2.95h-7.6zM266.3 394.69h7.6v2.95h-7.6zM273.6 394.69h7.6v2.95h-7.6zM390.6 394.69h7.6v2.95h-7.6zM237.0 397.34h7.6v2.95h-7.6zM390.6 397.34h7.6v2.95h-7.6zM237.0 399.99h7.6v2.95h-7.6zM258.9 399.99h7.6v2.95h-7.6zM266.3 399.99h7.6v2.95h-7.6zM273.6 399.99h7.6v2.95h-7.6zM317.4 399.99h7.6v2.95h-7.6zM332.1 399.99h7.6v2.95h-7.6zM339.4 399.99h7.6v2.95h-7.6zM397.9 399.99h7.6v2.95h-7.6zM273.6 402.63h7.6v2.95h-7.6zM324.8 402.63h7.6v2.95h-7.6zM339.4 402.63h7.6v2.95h-7.6zM375.9 402.63h7.6v2.95h-7.6zM397.9 402.63h7.6v2.95h-7.6zM237.0 405.28h7.6v2.95h-7.6zM244.3 405.28h7.6v2.95h-7.6zM251.6 405.28h7.6v2.95h-7.6zM266.3 405.28h7.6v2.95h-7.6zM273.6 405.28h7.6v2.95h-7.6zM237.0 407.93h7.6v2.95h-7.6zM258.9 407.93h7.6v2.95h-7.6zM273.6 407.93h7.6v2.95h-7.6zM339.4 407.93h7.6v2.95h-7.6zM237.0 410.58h7.6v2.95h-7.6zM251.6 410.58h7.6v2.95h-7.6zM273.6 410.58h7.6v2.95h-7.6zM383.3 410.58h7.6v2.95h-7.6zM397.9 410.58h7.6v2.95h-7.6zM266.3 413.23h7.6v2.95h-7.6zM273.6 413.23h7.6v2.95h-7.6zM317.4 413.23h7.6v2.95h-7.6zM244.3 415.88h7.6v2.95h-7.6zM251.6 415.88h7.6v2.95h-7.6zM258.9 415.88h7.6v2.95h-7.6zM273.6 415.88h7.6v2.95h-7.6zM317.4 415.88h7.6v2.95h-7.6zM339.4 415.88h7.6v2.95h-7.6zM237.0 418.53h7.6v2.95h-7.6zM244.3 418.53h7.6v2.95h-7.6zM251.6 421.18h7.6v2.95h-7.6zM375.9 421.18h7.6v2.95h-7.6zM244.3 423.83h7.6v2.95h-7.6zM273.6 423.83h7.6v2.95h-7.6zM258.9 426.48h7.6v2.95h-7.6zM266.3 426.48h7.6v2.95h-7.6zM324.8 426.48h7.6v2.95h-7.6zM280.9 429.12h7.6v2.95h-7.6zM288.2 429.12h7.6v2.95h-7.6zM310.1 429.12h7.6v2.95h-7.6zM280.9 431.77h7.6v2.95h-7.6zM295.5 431.77h7.6v2.95h-7.6zM302.8 434.42h7.6v2.95h-7.6zM310.1 434.42h7.6v2.95h-7.6zM295.5 437.07h7.6v2.95h-7.6zM280.9 439.72h7.6v2.95h-7.6zM288.2 439.72h7.6v2.95h-7.6zM280.9 442.37h7.6v2.95h-7.6zM288.2 442.37h7.6v2.95h-7.6zM295.5 442.37h7.6v2.95h-7.6zM302.8 442.37h7.6v2.95h-7.6zM310.1 442.37h7.6v2.95h-7.6zM295.5 445.02h7.6v2.95h-7.6zM302.8 445.02h7.6v2.95h-7.6zM310.1 445.02h7.6v2.95h-7.6zM288.2 447.67h7.6v2.95h-7.6zM310.1 447.67h7.6v2.95h-7.6zM288.2 450.32h7.6v2.95h-7.6zM295.5 450.32h7.6v2.95h-7.6zM302.8 450.32h7.6v2.95h-7.6zM310.1 450.32h7.6v2.95h-7.6zM361.3 452.97h7.6v2.95h-7.6zM368.6 452.97h7.6v2.95h-7.6zM332.1 455.61h7.6v2.95h-7.6zM383.3 458.26h7.6v2.95h-7.6zM361.3 463.56h7.6v2.95h-7.6zM354.0 468.86h7.6v2.95h-7.6zM383.3 468.86h7.6v2.95h-7.6zM390.6 468.86h7.6v2.95h-7.6zM332.1 471.51h7.6v2.95h-7.6zM339.4 471.51h7.6v2.95h-7.6zM383.3 479.46h7.6v2.95h-7.6zM332.1 487.40h7.6v2.95h-7.6z"/>
<path fill="#1d0d0d" d="M288.2 111.25h7.6v2.95h-7.6zM273.6 129.79h7.6v2.95h-7.6zM237.0 137.74h7.6v2.95h-7.6zM302.8 137.74h7.6v2.95h-7.6zM237.0 140.39h7.6v2.95h-7.6zM310.1 143.03h7.6v2.95h-7.6zM273.6 150.98h7.6v2.95h-7.6zM237.0 153.63h7.6v2.95h-7.6zM266.3 153.63h7.6v2.95h-7.6zM302.8 156.28h7.6v2.95h-7.6zM237.0 169.52h7.6v2.95h-7.6zM302.8 172.17h7.6v2.95h-7.6zM258.9 180.12h7.6v2.95h-7.6zM288.2 180.12h7.6v2.95h-7.6zM310.1 180.12h7.6v2.95h-7.6zM251.6 182.77h7.6v2.95h-7.6zM266.3 182.77h7.6v2.95h-7.6zM266.3 185.42h7.6v2.95h-7.6zM339.4 185.42h7.6v2.95h-7.6zM251.6 188.07h7.6v2.95h-7.6zM258.9 188.07h7.6v2.95h-7.6zM258.9 190.72h7.6v2.95h-7.6zM237.0 193.37h7.6v2.95h-7.6zM251.6 193.37h7.6v2.95h-7.6zM273.6 193.37h7.6v2.95h-7.6zM280.9 193.37h7.6v2.95h-7.6zM237.0 196.01h7.6v2.95h-7.6zM244.3 196.01h7.6v2.95h-7.6zM258.9 196.01h7.6v2.95h-7.6zM244.3 198.66h7.6v2.95h-7.6zM251.6 198.66h7.6v2.95h-7.6zM266.3 198.66h7.6v2.95h-7.6zM273.6 198.66h7.6v2.95h-7.6zM273.6 203.96h7.6v2.95h-7.6zM237.0 206.61h7.6v2.95h-7.6zM244.3 206.61h7.6v2.95h-7.6zM280.9 206.61h7.6v2.95h-7.6zM251.6 209.26h7.6v2.95h-7.6zM244.3 211.91h7.6v2.95h-7.6zM266.3 211.91h7.6v2.95h-7.6zM237.0 214.56h7.6v2.95h-7.6zM251.6 214.56h7.6v2.95h-7.6zM266.3 214.56h7.6v2.95h-7.6zM273.6 214.56h7.6v2.95h-7.6zM237.0 217.21h7.6v2.95h-7.6zM251.6 217.21h7.6v2.95h-7.6zM244.3 219.86h7.6v2.95h-7.6zM251.6 219.86h7.6v2.95h-7.6zM258.9 219.86h7.6v2.95h-7.6zM273.6 219.86h7.6v2.95h-7.6zM244.3 222.50h7.6v2.95h-7.6zM273.6 222.50h7.6v2.95h-7.6zM251.6 225.15h7.6v2.95h-7.6zM295.5 225.15h7.6v2.95h-7.6zM258.9 227.80h7.6v2.95h-7.6zM244.3 272.83h7.6v2.95h-7.6zM317.4 272.83h7.6v2.95h-7.6zM324.8 272.83h7.6v2.95h-7.6zM339.4 272.83h7.6v2.95h-7.6zM244.3 275.48h7.6v2.95h-7.6zM273.6 275.48h7.6v2.95h-7.6zM251.6 278.13h7.6v2.95h-7.6zM332.1 278.13h7.6v2.95h-7.6zM339.4 278.13h7.6v2.95h-7.6zM266.3 280.78h7.6v2.95h-7.6zM317.4 280.78h7.6v2.95h-7.6zM339.4 280.78h7.6v2.95h-7.6zM397.9 280.78h7.6v2.95h-7.6zM258.9 283.43h7.6v2.95h-7.6zM251.6 286.08h7.6v2.95h-7.6zM258.9 286.08h7.6v2.95h-7.6zM317.4 286.08h7.6v2.95h-7.6zM332.1 286.08h7.6v2.95h-7.6zM339.4 286.08h7.6v2.95h-7.6zM317.4 288.73h7.6v2.95h-7.6zM324.8 288.73h7.6v2.95h-7.6zM339.4 288.73h7.6v2.95h-7.6zM346.7 288.73h7.6v2.95h-7.6zM354.0 288.73h7.6v2.95h-7.6zM390.6 288.73h7.6v2.95h-7.6zM244.3 291.38h7.6v2.95h-7.6zM258.9 291.38h7.6v2.95h-7.6zM324.8 291.38h7.6v2.95h-7.6zM390.6 291.38h7.6v2.95h-7.6zM397.9 291.38h7.6v2.95h-7.6zM244.3 294.03h7.6v2.95h-7.6zM324.8 294.03h7.6v2.95h-7.6zM339.4 294.03h7.6v2.95h-7.6zM346.7 294.03h7.6v2.95h-7.6zM354.0 294.03h7.6v2.95h-7.6zM244.3 296.68h7.6v2.95h-7.6zM251.6 296.68h7.6v2.95h-7.6zM258.9 296.68h7.6v2.95h-7.6zM273.6 296.68h7.6v2.95h-7.6zM251.6 299.32h7.6v2.95h-7.6zM273.6 299.32h7.6v2.95h-7.6zM317.4 299.32h7.6v2.95h-7.6zM332.1 299.32h7.6v2.95h-7.6zM339.4 299.32h7.6v2.95h-7.6zM346.7 299.32h7.6v2.95h-7.6zM354.0 299.32h7.6v2.95h-7.6zM244.3 301.97h7.6v2.95h-7.6zM251.6 301.97h7.6v2.95h-7.6zM266.3 301.97h7.6v2.95h-7.6zM273.6 301.97h7.6v2.95h-7.6zM317.4 301.97h7.6v2.95h-7.6zM346.7 301.97h7.6v2.95h-7.6zM354.0 301.97h7.6v2.95h-7.6zM317.4 304.62h7.6v2.95h-7.6zM332.1 304.62h7.6v2.95h-7.6zM346.7 304.62h7.6v2.95h-7.6zM244.3 307.27h7.6v2.95h-7.6zM251.6 307.27h7.6v2.95h-7.6zM266.3 307.27h7.6v2.95h-7.6zM273.6 307.27h7.6v2.95h-7.6zM346.7 307.27h7.6v2.95h-7.6zM390.6 307.27h7.6v2.95h-7.6zM397.9 307.27h7.6v2.95h-7.6zM251.6 309.92h7.6v2.95h-7.6zM258.9 309.92h7.6v2.95h-7.6zM266.3 309.92h7.6v2.95h-7.6zM324.8 309.92h7.6v2.95h-7.6zM354.0 309.92h7.6v2.95h-7.6zM324.8 312.57h7.6v2.95h-7.6zM332.1 312.57h7.6v2.95h-7.6zM346.7 312.57h7.6v2.95h-7.6zM354.0 312.57h7.6v2.95h-7.6zM251.6 315.22h7.6v2.95h-7.6zM258.9 315.22h7.6v2.95h-7.6zM273.6 315.22h7.6v2.95h-7.6zM317.4 315.22h7.6v2.95h-7.6zM324.8 315.22h7.6v2.95h-7.6zM317.4 317.87h7.6v2.95h-7.6zM324.8 317.87h7.6v2.95h-7.6zM339.4 317.87h7.6v2.95h-7.6zM397.9 317.87h7.6v2.95h-7.6zM390.6 320.52h7.6v2.95h-7.6zM397.9 320.52h7.6v2.95h-7.6zM397.9 323.17h7.6v2.95h-7.6zM237.0 325.81h7.6v2.95h-7.6zM244.3 325.81h7.6v2.95h-7.6zM302.8 325.81h7.6v2.95h-7.6zM397.9 331.11h7.6v2.95h-7.6zM390.6 333.76h7.6v2.95h-7.6zM397.9 333.76h7.6v2.95h-7.6zM251.6 336.41h7.6v2.95h-7.6zM397.9 336.41h7.6v2.95h-7.6zM237.0 339.06h7.6v2.95h-7.6zM244.3 339.06h7.6v2.95h-7.6zM251.6 339.06h7.6v2.95h-7.6zM237.0 341.71h7.6v2.95h-7.6zM251.6 341.71h7.6v2.95h-7.6zM339.4 341.71h7.6v2.95h-7.6zM390.6 341.71h7.6v2.95h-7.6zM310.1 344.36h7.6v2.95h-7.6zM368.6 344.36h7.6v2.95h-7.6zM397.9 347.01h7.6v2.95h-7.6zM237.0 349.66h7.6v2.95h-7.6zM258.9 349.66h7.6v2.95h-7.6zM295.5 349.66h7.6v2.95h-7.6zM244.3 352.30h7.6v2.95h-7.6zM251.6 352.30h7.6v2.95h-7.6zM258.9 352.30h7.6v2.95h-7.6zM390.6 352.30h7.6v2.95h-7.6zM397.9 352.30h7.6v2.95h-7.6zM390.6 354.95h7.6v2.95h-7.6zM397.9 354.95h7.6v2.95h-7.6zM273.6 357.60h7.6v2.95h-7.6zM390.6 357.60h7.6v2.95h-7.6zM397.9 357.60h7.6v2.95h-7.6zM397.9 360.25h7.6v2.95h-7.6zM390.6 362.90h7.6v2.95h-7.6zM397.9 362.90h7.6v2.95h-7.6zM390.6 365.55h7.6v2.95h-7.6zM361.3 368.20h7.6v2.95h-7.6zM368.6 368.20h7.6v2.95h-7.6zM390.6 368.20h7.6v2.95h-7.6zM390.6 370.85h7.6v2.95h-7.6zM397.9 370.85h7.6v2.95h-7.6zM390.6 373.50h7.6v2.95h-7.6zM397.9 373.50h7.6v2.95h-7.6zM266.3 376.14h7.6v2.95h-7.6zM310.1 376.14h7.6v2.95h-7.6zM397.9 378.79h7.6v2.95h-7.6zM244.3 381.44h7.6v2.95h-7.6zM361.3 381.44h7.6v2.95h-7.6zM258.9 384.09h7.6v2.95h-7.6zM390.6 384.09h7.6v2.95h-7.6zM237.0 389.39h7.6v2.95h-7.6zM251.6 389.39h7.6v2.95h-7.6zM361.3 389.39h7.6v2.95h-7.6zM258.9 392.04h7.6v2.95h-7.6zM288.2 392.04h7.6v2.95h-7.6zM295.5 392.04h7.6v2.95h-7.6zM310.1 392.04h7.6v2.95h-7.6zM397.9 392.04h7.6v2.95h-7.6zM244.3 394.69h7.6v2.95h-7.6zM280.9 394.69h7.6v2.95h-7.6zM288.2 394.69h7.6v2.95h-7.6zM302.8 394.69h7.6v2.95h-7.6zM397.9 394.69h7.6v2.95h-7.6zM273.6 397.34h7.6v2.95h-7.6zM397.9 397.34h7.6v2.95h-7.6zM251.6 399.99h7.6v2.95h-7.6zM390.6 399.99h7.6v2.95h-7.6zM244.3 402.63h7.6v2.95h-7.6zM258.9 405.28h7.6v2.95h-7.6zM390.6 405.28h7.6v2.95h-7.6zM244.3 407.93h7.6v2.95h-7.6zM288.2 407.93h7.6v2.95h-7.6zM397.9 407.93h7.6v2.95h-7.6zM280.9 410.58h7.6v2.95h-7.6zM390.6 410.58h7.6v2.95h-7.6zM237.0 413.23h7.6v2.95h-7.6zM390.6 413.23h7.6v2.95h-7.6zM390.6 415.88h7.6v2.95h-7.6zM288.2 418.53h7.6v2.95h-7.6zM295.5 418.53h7.6v2.95h-7.6zM310.1 418.53h7.6v2.95h-7.6zM273.6 421.18h7.6v2.95h-7.6zM295.5 421.18h7.6v2.95h-7.6zM280.9 423.83h7.6v2.95h-7.6zM295.5 423.83h7.6v2.95h-7.6zM302.8 423.83h7.6v2.95h-7.6zM310.1 423.83h7.6v2.95h-7.6zM397.9 423.83h7.6v2.95h-7.6zM302.8 426.48h7.6v2.95h-7.6zM390.6 426.48h7.6v2.95h-7.6zM397.9 426.48h7.6v2.95h-7.6zM295.5 429.12h7.6v2.95h-7.6zM302.8 429.12h7.6v2.95h-7.6zM280.9 434.42h7.6v2.95h-7.6zM295.5 434.42h7.6v2.95h-7.6zM390.6 434.42h7.6v2.95h-7.6zM295.5 439.72h7.6v2.95h-7.6zM302.8 439.72h7.6v2.95h-7.6zM280.9 445.02h7.6v2.95h-7.6zM288.2 445.02h7.6v2.95h-7.6zM280.9 447.67h7.6v2.95h-7.6zM295.5 447.67h7.6v2.95h-7.6zM302.8 447.67h7.6v2.95h-7.6zM280.9 450.32h7.6v2.95h-7.6zM375.9 452.97h7.6v2.95h-7.6zM383.3 452.97h7.6v2.95h-7.6zM390.6 452.97h7.6v2.95h-7.6zM397.9 452.97h7.6v2.95h-7.6zM383.3 455.61h7.6v2.95h-7.6zM361.3 458.26h7.6v2.95h-7.6zM368.6 458.26h7.6v2.95h-7.6zM390.6 458.26h7.6v2.95h-7.6zM368.6 463.56h7.6v2.95h-7.6zM375.9 463.56h7.6v2.95h-7.6zM383.3 463.56h7.6v2.95h-7.6zM390.6 463.56h7.6v2.95h-7.6zM397.9 463.56h7.6v2.95h-7.6zM361.3 466.21h7.6v2.95h-7.6zM368.6 466.21h7.6v2.95h-7.6zM383.3 466.21h7.6v2.95h-7.6zM397.9 466.21h7.6v2.95h-7.6zM361.3 468.86h7.6v2.95h-7.6zM375.9 468.86h7.6v2.95h-7.6zM383.3 471.51h7.6v2.95h-7.6zM280.9 474.16h7.6v2.95h-7.6zM383.3 474.16h7.6v2.95h-7.6zM390.6 474.16h7.6v2.95h-7.6zM332.1 479.46h7.6v2.95h-7.6zM346.7 479.46h7.6v2.95h-7.6zM375.9 479.46h7.6v2.95h-7.6zM368.6 482.10h7.6v2.95h-7.6zM310.1 490.05h7.6v2.95h-7.6z"/>
<path fill="#250e0e" d="M258.9 137.74h7.6v2.95h-7.6zM244.3 140.39h7.6v2.95h-7.6zM258.9 140.39h7.6v2.95h-7.6zM273.6 140.39h7.6v2.95h-7.6zM237.0 143.03h7.6v2.95h-7.6zM251.6 143.03h7.6v2.95h-7.6zM258.9 143.03h7.6v2.95h-7.6zM266.3 143.03h7.6v2.95h-7.6zM237.0 145.68h7.6v2.95h-7.6zM244.3 145.68h7.6v2.95h-7.6zM258.9 145.68h7.6v2.95h-7.6zM237.0 148.33h7.6v2.95h-7.6zM244.3 148.33h7.6v2.95h-7.6zM251.6 148.33h7.6v2.95h-7.6zM273.6 148.33h7.6v2.95h-7.6zM258.9 150.98h7.6v2.95h-7.6zM266.3 150.98h7.6v2.95h-7.6zM244.3 153.63h7.6v2.95h-7.6zM251.6 180.12h7.6v2.95h-7.6zM273.6 180.12h7.6v2.95h-7.6zM258.9 182.77h7.6v2.95h-7.6zM273.6 182.77h7.6v2.95h-7.6zM237.0 188.07h7.6v2.95h-7.6zM244.3 188.07h7.6v2.95h-7.6zM266.3 188.07h7.6v2.95h-7.6zM244.3 190.72h7.6v2.95h-7.6zM251.6 190.72h7.6v2.95h-7.6zM273.6 190.72h7.6v2.95h-7.6zM244.3 193.37h7.6v2.95h-7.6zM258.9 193.37h7.6v2.95h-7.6zM266.3 193.37h7.6v2.95h-7.6zM251.6 196.01h7.6v2.95h-7.6zM288.2 196.01h7.6v2.95h-7.6zM295.5 196.01h7.6v2.95h-7.6zM302.8 196.01h7.6v2.95h-7.6zM310.1 196.01h7.6v2.95h-7.6zM237.0 198.66h7.6v2.95h-7.6zM258.9 198.66h7.6v2.95h-7.6zM244.3 201.31h7.6v2.95h-7.6zM251.6 201.31h7.6v2.95h-7.6zM266.3 201.31h7.6v2.95h-7.6zM237.0 209.26h7.6v2.95h-7.6zM258.9 209.26h7.6v2.95h-7.6zM273.6 209.26h7.6v2.95h-7.6zM288.2 209.26h7.6v2.95h-7.6zM237.0 211.91h7.6v2.95h-7.6zM258.9 211.91h7.6v2.95h-7.6zM244.3 217.21h7.6v2.95h-7.6zM258.9 217.21h7.6v2.95h-7.6zM266.3 217.21h7.6v2.95h-7.6zM273.6 217.21h7.6v2.95h-7.6zM266.3 219.86h7.6v2.95h-7.6zM237.0 222.50h7.6v2.95h-7.6zM258.9 222.50h7.6v2.95h-7.6zM266.3 222.50h7.6v2.95h-7.6zM295.5 222.50h7.6v2.95h-7.6zM258.9 225.15h7.6v2.95h-7.6zM273.6 225.15h7.6v2.95h-7.6zM237.0 227.80h7.6v2.95h-7.6zM251.6 227.80h7.6v2.95h-7.6zM266.3 227.80h7.6v2.95h-7.6zM273.6 227.80h7.6v2.95h-7.6zM280.9 233.10h7.6v2.95h-7.6zM251.6 272.83h7.6v2.95h-7.6zM332.1 272.83h7.6v2.95h-7.6zM354.0 272.83h7.6v2.95h-7.6zM317.4 275.48h7.6v2.95h-7.6zM324.8 275.48h7.6v2.95h-7.6zM332.1 275.48h7.6v2.95h-7.6zM339.4 275.48h7.6v2.95h-7.6zM244.3 278.13h7.6v2.95h-7.6zM317.4 278.13h7.6v2.95h-7.6zM324.8 278.13h7.6v2.95h-7.6zM346.7 278.13h7.6v2.95h-7.6zM354.0 278.13h7.6v2.95h-7.6zM251.6 280.78h7.6v2.95h-7.6zM324.8 280.78h7.6v2.95h-7.6zM332.1 280.78h7.6v2.95h-7.6zM390.6 280.78h7.6v2.95h-7.6zM317.4 283.43h7.6v2.95h-7.6zM324.8 283.43h7.6v2.95h-7.6zM332.1 283.43h7.6v2.95h-7.6zM339.4 283.43h7.6v2.95h-7.6zM354.0 283.43h7.6v2.95h-7.6zM390.6 283.43h7.6v2.95h-7.6zM397.9 283.43h7.6v2.95h-7.6zM346.7 286.08h7.6v2.95h-7.6zM244.3 288.73h7.6v2.95h-7.6zM397.9 288.73h7.6v2.95h-7.6zM317.4 291.38h7.6v2.95h-7.6zM332.1 291.38h7.6v2.95h-7.6zM346.7 291.38h7.6v2.95h-7.6zM317.4 294.03h7.6v2.95h-7.6zM324.8 296.68h7.6v2.95h-7.6zM346.7 296.68h7.6v2.95h-7.6zM354.0 296.68h7.6v2.95h-7.6zM390.6 296.68h7.6v2.95h-7.6zM244.3 299.32h7.6v2.95h-7.6zM324.8 299.32h7.6v2.95h-7.6zM324.8 301.97h7.6v2.95h-7.6zM332.1 301.97h7.6v2.95h-7.6zM397.9 301.97h7.6v2.95h-7.6zM339.4 304.62h7.6v2.95h-7.6zM354.0 304.62h7.6v2.95h-7.6zM397.9 304.62h7.6v2.95h-7.6zM324.8 307.27h7.6v2.95h-7.6zM332.1 307.27h7.6v2.95h-7.6zM354.0 307.27h7.6v2.95h-7.6zM244.3 309.92h7.6v2.95h-7.6zM317.4 309.92h7.6v2.95h-7.6zM332.1 309.92h7.6v2.95h-7.6zM339.4 309.92h7.6v2.95h-7.6zM390.6 309.92h7.6v2.95h-7.6zM339.4 312.57h7.6v2.95h-7.6zM397.9 312.57h7.6v2.95h-7.6zM332.1 315.22h7.6v2.95h-7.6zM339.4 315.22h7.6v2.95h-7.6zM354.0 315.22h7.6v2.95h-7.6zM383.3 315.22h7.6v2.95h-7.6zM390.6 315.22h7.6v2.95h-7.6zM397.9 315.22h7.6v2.95h-7.6zM383.3 317.87h7.6v2.95h-7.6zM390.6 325.81h7.6v2.95h-7.6zM397.9 325.81h7.6v2.95h-7.6zM397.9 328.46h7.6v2.95h-7.6zM390.6 331.11h7.6v2.95h-7.6zM244.3 333.76h7.6v2.95h-7.6zM251.6 333.76h7.6v2.95h-7.6zM244.3 336.41h7.6v2.95h-7.6zM258.9 336.41h7.6v2.95h-7.6zM258.9 339.06h7.6v2.95h-7.6zM258.9 341.71h7.6v2.95h-7.6zM258.9 344.36h7.6v2.95h-7.6zM361.3 344.36h7.6v2.95h-7.6zM368.6 347.01h7.6v2.95h-7.6zM390.6 347.01h7.6v2.95h-7.6zM390.6 349.66h7.6v2.95h-7.6zM397.9 349.66h7.6v2.95h-7.6zM237.0 352.30h7.6v2.95h-7.6zM368.6 352.30h7.6v2.95h-7.6zM361.3 354.95h7.6v2.95h-7.6zM390.6 360.25h7.6v2.95h-7.6zM361.3 370.85h7.6v2.95h-7.6zM361.3 373.50h7.6v2.95h-7.6zM368.6 373.50h7.6v2.95h-7.6zM390.6 376.14h7.6v2.95h-7.6zM397.9 376.14h7.6v2.95h-7.6zM361.3 378.79h7.6v2.95h-7.6zM368.6 378.79h7.6v2.95h-7.6zM368.6 381.44h7.6v2.95h-7.6zM390.6 386.74h7.6v2.95h-7.6zM397.9 386.74h7.6v2.95h-7.6zM288.2 389.39h7.6v2.95h-7.6zM295.5 389.39h7.6v2.95h-7.6zM310.1 389.39h7.6v2.95h-7.6zM368.6 389.39h7.6v2.95h-7.6zM280.9 392.04h7.6v2.95h-7.6zM302.8 392.04h7.6v2.95h-7.6zM390.6 392.04h7.6v2.95h-7.6zM310.1 394.69h7.6v2.95h-7.6zM361.3 394.69h7.6v2.95h-7.6zM368.6 394.69h7.6v2.95h-7.6zM280.9 397.34h7.6v2.95h-7.6zM295.5 397.34h7.6v2.95h-7.6zM310.1 397.34h7.6v2.95h-7.6zM361.3 397.34h7.6v2.95h-7.6zM368.6 397.34h7.6v2.95h-7.6zM288.2 402.63h7.6v2.95h-7.6zM310.1 402.63h7.6v2.95h-7.6zM361.3 402.63h7.6v2.95h-7.6zM368.6 402.63h7.6v2.95h-7.6zM295.5 405.28h7.6v2.95h-7.6zM397.9 405.28h7.6v2.95h-7.6zM361.3 407.93h7.6v2.95h-7.6zM310.1 410.58h7.6v2.95h-7.6zM361.3 410.58h7.6v2.95h-7.6zM368.6 410.58h7.6v2.95h-7.6zM397.9 413.23h7.6v2.95h-7.6zM280.9 415.88h7.6v2.95h-7.6zM295.5 415.88h7.6v2.95h-7.6zM310.1 415.88h7.6v2.95h-7.6zM280.9 418.53h7.6v2.95h-7.6zM302.8 418.53h7.6v2.95h-7.6zM390.6 418.53h7.6v2.95h-7.6zM397.9 418.53h7.6v2.95h-7.6zM280.9 421.18h7.6v2.95h-7.6zM288.2 423.83h7.6v2.95h-7.6zM390.6 423.83h7.6v2.95h-7.6zM383.3 431.77h7.6v2.95h-7.6zM310.1 439.72h7.6v2.95h-7.6zM280.9 455.61h7.6v2.95h-7.6zM288.2 455.61h7.6v2.95h-7.6zM368.6 455.61h7.6v2.95h-7.6zM375.9 455.61h7.6v2.95h-7.6zM390.6 455.61h7.6v2.95h-7.6zM397.9 455.61h7.6v2.95h-7.6zM280.9 458.26h7.6v2.95h-7.6zM310.1 458.26h7.6v2.95h-7.6zM375.9 458.26h7.6v2.95h-7.6zM397.9 458.26h7.6v2.95h-7.6zM368.6 460.91h7.6v2.95h-7.6zM383.3 460.91h7.6v2.95h-7.6zM390.6 460.91h7.6v2.95h-7.6zM397.9 460.91h7.6v2.95h-7.6zM280.9 463.56h7.6v2.95h-7.6zM375.9 466.21h7.6v2.95h-7.6zM390.6 466.21h7.6v2.95h-7.6zM397.9 468.86h7.6v2.95h-7.6zM361.3 471.51h7.6v2.95h-7.6zM375.9 471.51h7.6v2.95h-7.6zM390.6 471.51h7.6v2.95h-7.6zM397.9 471.51h7.6v2.95h-7.6zM397.9 474.16h7.6v2.95h-7.6zM346.7 476.81h7.6v2.95h-7.6zM354.0 476.81h7.6v2.95h-7.6zM390.6 476.81h7.6v2.95h-7.6zM397.9 476.81h7.6v2.95h-7.6zM354.0 479.46h7.6v2.95h-7.6zM361.3 479.46h7.6v2.95h-7.6zM390.6 479.46h7.6v2.95h-7.6zM361.3 482.10h7.6v2.95h-7.6zM375.9 482.10h7.6v2.95h-7.6zM383.3 482.10h7.6v2.95h-7.6zM280.9 487.40h7.6v2.95h-7.6zM288.2 487.40h7.6v2.95h-7.6zM280.9 490.05h7.6v2.95h-7.6zM288.2 490.05h7.6v2.95h-7.6zM302.8 490.05h7.6v2.95h-7.6zM332.1 490.05h7.6v2.95h-7.6z"/>
<path fill="#2e0f0f" d="M310.1 127.14h7.6v2.95h-7.6zM237.0 135.09h7.6v2.95h-7.6zM266.3 137.74h7.6v2.95h-7.6zM251.6 140.39h7.6v2.95h-7.6zM266.3 140.39h7.6v2.95h-7.6zM273.6 143.03h7.6v2.95h-7.6zM273.6 145.68h7.6v2.95h-7.6zM266.3 148.33h7.6v2.95h-7.6zM244.3 150.98h7.6v2.95h-7.6zM251.6 150.98h7.6v2.95h-7.6zM273.6 153.63h7.6v2.95h-7.6zM295.5 166.88h7.6v2.95h-7.6zM295.5 172.17h7.6v2.95h-7.6zM266.3 180.12h7.6v2.95h-7.6zM273.6 188.07h7.6v2.95h-7.6zM266.3 190.72h7.6v2.95h-7.6zM266.3 196.01h7.6v2.95h-7.6zM258.9 201.31h7.6v2.95h-7.6zM273.6 201.31h7.6v2.95h-7.6zM288.2 201.31h7.6v2.95h-7.6zM302.8 203.96h7.6v2.95h-7.6zM295.5 209.26h7.6v2.95h-7.6zM302.8 209.26h7.6v2.95h-7.6zM310.1 209.26h7.6v2.95h-7.6zM251.6 211.91h7.6v2.95h-7.6zM273.6 211.91h7.6v2.95h-7.6zM288.2 217.21h7.6v2.95h-7.6zM295.5 217.21h7.6v2.95h-7.6zM310.1 217.21h7.6v2.95h-7.6zM251.6 222.50h7.6v2.95h-7.6zM288.2 222.50h7.6v2.95h-7.6zM302.8 222.50h7.6v2.95h-7.6zM266.3 225.15h7.6v2.95h-7.6zM244.3 227.80h7.6v2.95h-7.6zM295.5 233.10h7.6v2.95h-7.6zM346.7 275.48h7.6v2.95h-7.6zM346.7 283.43h7.6v2.95h-7.6zM383.3 283.43h7.6v2.95h-7.6zM383.3 288.73h7.6v2.95h-7.6zM339.4 291.38h7.6v2.95h-7.6zM354.0 291.38h7.6v2.95h-7.6zM383.3 291.38h7.6v2.95h-7.6zM332.1 294.03h7.6v2.95h-7.6zM332.1 296.68h7.6v2.95h-7.6zM339.4 296.68h7.6v2.95h-7.6zM383.3 296.68h7.6v2.95h-7.6zM397.9 299.32h7.6v2.95h-7.6zM383.3 301.97h7.6v2.95h-7.6zM390.6 301.97h7.6v2.95h-7.6zM383.3 304.62h7.6v2.95h-7.6zM339.4 307.27h7.6v2.95h-7.6zM383.3 307.27h7.6v2.95h-7.6zM383.3 309.92h7.6v2.95h-7.6zM397.9 309.92h7.6v2.95h-7.6zM390.6 312.57h7.6v2.95h-7.6zM332.1 317.87h7.6v2.95h-7.6zM354.0 317.87h7.6v2.95h-7.6zM258.9 333.76h7.6v2.95h-7.6zM237.0 336.41h7.6v2.95h-7.6zM361.3 341.71h7.6v2.95h-7.6zM368.6 341.71h7.6v2.95h-7.6zM237.0 344.36h7.6v2.95h-7.6zM244.3 344.36h7.6v2.95h-7.6zM251.6 344.36h7.6v2.95h-7.6zM361.3 347.01h7.6v2.95h-7.6zM361.3 349.66h7.6v2.95h-7.6zM368.6 349.66h7.6v2.95h-7.6zM361.3 357.60h7.6v2.95h-7.6zM368.6 357.60h7.6v2.95h-7.6zM361.3 360.25h7.6v2.95h-7.6zM368.6 360.25h7.6v2.95h-7.6zM361.3 362.90h7.6v2.95h-7.6zM361.3 365.55h7.6v2.95h-7.6zM368.6 365.55h7.6v2.95h-7.6zM368.6 370.85h7.6v2.95h-7.6zM361.3 376.14h7.6v2.95h-7.6zM397.9 384.09h7.6v2.95h-7.6zM361.3 386.74h7.6v2.95h-7.6zM368.6 386.74h7.6v2.95h-7.6zM302.8 389.39h7.6v2.95h-7.6zM302.8 397.34h7.6v2.95h-7.6zM280.9 399.99h7.6v2.95h-7.6zM288.2 399.99h7.6v2.95h-7.6zM310.1 399.99h7.6v2.95h-7.6zM361.3 399.99h7.6v2.95h-7.6zM368.6 399.99h7.6v2.95h-7.6zM280.9 402.63h7.6v2.95h-7.6zM295.5 402.63h7.6v2.95h-7.6zM280.9 405.28h7.6v2.95h-7.6zM310.1 405.28h7.6v2.95h-7.6zM361.3 405.28h7.6v2.95h-7.6zM368.6 405.28h7.6v2.95h-7.6zM280.9 407.93h7.6v2.95h-7.6zM302.8 407.93h7.6v2.95h-7.6zM368.6 407.93h7.6v2.95h-7.6zM288.2 410.58h7.6v2.95h-7.6zM280.9 413.23h7.6v2.95h-7.6zM288.2 413.23h7.6v2.95h-7.6zM295.5 413.23h7.6v2.95h-7.6zM302.8 413.23h7.6v2.95h-7.6zM310.1 413.23h7.6v2.95h-7.6zM361.3 413.23h7.6v2.95h-7.6zM368.6 413.23h7.6v2.95h-7.6zM288.2 415.88h7.6v2.95h-7.6zM302.8 415.88h7.6v2.95h-7.6zM302.8 421.18h7.6v2.95h-7.6zM310.1 421.18h7.6v2.95h-7.6zM390.6 421.18h7.6v2.95h-7.6zM280.9 426.48h7.6v2.95h-7.6zM288.2 426.48h7.6v2.95h-7.6zM361.3 431.77h7.6v2.95h-7.6zM390.6 431.77h7.6v2.95h-7.6zM397.9 431.77h7.6v2.95h-7.6zM280.9 452.97h7.6v2.95h-7.6zM295.5 452.97h7.6v2.95h-7.6zM310.1 452.97h7.6v2.95h-7.6zM302.8 455.61h7.6v2.95h-7.6zM310.1 455.61h7.6v2.95h-7.6zM361.3 455.61h7.6v2.95h-7.6zM280.9 460.91h7.6v2.95h-7.6zM310.1 460.91h7.6v2.95h-7.6zM361.3 460.91h7.6v2.95h-7.6zM375.9 460.91h7.6v2.95h-7.6zM288.2 463.56h7.6v2.95h-7.6zM295.5 463.56h7.6v2.95h-7.6zM302.8 463.56h7.6v2.95h-7.6zM310.1 466.21h7.6v2.95h-7.6zM302.8 474.16h7.6v2.95h-7.6zM317.4 474.16h7.6v2.95h-7.6zM346.7 474.16h7.6v2.95h-7.6zM361.3 474.16h7.6v2.95h-7.6zM375.9 474.16h7.6v2.95h-7.6zM317.4 476.81h7.6v2.95h-7.6zM324.8 476.81h7.6v2.95h-7.6zM332.1 476.81h7.6v2.95h-7.6zM375.9 476.81h7.6v2.95h-7.6zM317.4 479.46h7.6v2.95h-7.6zM324.8 479.46h7.6v2.95h-7.6zM339.4 479.46h7.6v2.95h-7.6zM368.6 479.46h7.6v2.95h-7.6zM280.9 482.10h7.6v2.95h-7.6zM295.5 482.10h7.6v2.95h-7.6zM302.8 482.10h7.6v2.95h-7.6zM310.1 482.10h7.6v2.95h-7.6zM397.9 482.10h7.6v2.95h-7.6zM310.1 487.40h7.6v2.95h-7.6zM317.4 487.40h7.6v2.95h-7.6zM324.8 487.40h7.6v2.95h-7.6zM339.4 487.40h7.6v2.95h-7.6zM295.5 490.05h7.6v2.95h-7.6z"/>
<path fill="#360f10" d="M302.8 127.14h7.6v2.95h-7.6zM244.3 143.03h7.6v2.95h-7.6zM266.3 145.68h7.6v2.95h-7.6zM251.6 153.63h7.6v2.95h-7.6zM310.1 166.88h7.6v2.95h-7.6zM295.5 174.82h7.6v2.95h-7.6zM302.8 177.47h7.6v2.95h-7.6zM295.5 188.07h7.6v2.95h-7.6zM288.2 190.72h7.6v2.95h-7.6zM295.5 190.72h7.6v2.95h-7.6zM288.2 193.37h7.6v2.95h-7.6zM280.9 196.01h7.6v2.95h-7.6zM288.2 198.66h7.6v2.95h-7.6zM302.8 198.66h7.6v2.95h-7.6zM310.1 198.66h7.6v2.95h-7.6zM310.1 201.31h7.6v2.95h-7.6zM280.9 203.96h7.6v2.95h-7.6zM288.2 203.96h7.6v2.95h-7.6zM295.5 203.96h7.6v2.95h-7.6zM310.1 203.96h7.6v2.95h-7.6zM280.9 217.21h7.6v2.95h-7.6zM302.8 217.21h7.6v2.95h-7.6zM302.8 219.86h7.6v2.95h-7.6zM310.1 219.86h7.6v2.95h-7.6zM280.9 222.50h7.6v2.95h-7.6zM310.1 222.50h7.6v2.95h-7.6zM288.2 225.15h7.6v2.95h-7.6zM288.2 227.80h7.6v2.95h-7.6zM295.5 227.80h7.6v2.95h-7.6zM310.1 227.80h7.6v2.95h-7.6zM288.2 233.10h7.6v2.95h-7.6zM302.8 233.10h7.6v2.95h-7.6zM310.1 233.10h7.6v2.95h-7.6zM324.8 248.99h7.6v2.95h-7.6zM339.4 248.99h7.6v2.95h-7.6zM346.7 248.99h7.6v2.95h-7.6zM339.4 254.29h7.6v2.95h-7.6zM354.0 254.29h7.6v2.95h-7.6zM324.8 256.94h7.6v2.95h-7.6zM339.4 259.59h7.6v2.95h-7.6zM354.0 259.59h7.6v2.95h-7.6zM383.3 286.08h7.6v2.95h-7.6zM390.6 286.08h7.6v2.95h-7.6zM397.9 286.08h7.6v2.95h-7.6zM383.3 294.03h7.6v2.95h-7.6zM390.6 294.03h7.6v2.95h-7.6zM397.9 294.03h7.6v2.95h-7.6zM390.6 299.32h7.6v2.95h-7.6zM237.0 333.76h7.6v2.95h-7.6zM288.2 333.76h7.6v2.95h-7.6zM368.6 354.95h7.6v2.95h-7.6zM368.6 362.90h7.6v2.95h-7.6zM251.6 378.79h7.6v2.95h-7.6zM280.9 389.39h7.6v2.95h-7.6zM361.3 392.04h7.6v2.95h-7.6zM302.8 399.99h7.6v2.95h-7.6zM288.2 405.28h7.6v2.95h-7.6zM302.8 405.28h7.6v2.95h-7.6zM266.3 407.93h7.6v2.95h-7.6zM390.6 407.93h7.6v2.95h-7.6zM251.6 413.23h7.6v2.95h-7.6zM237.0 415.88h7.6v2.95h-7.6zM397.9 415.88h7.6v2.95h-7.6zM288.2 421.18h7.6v2.95h-7.6zM258.9 423.83h7.6v2.95h-7.6zM310.1 426.48h7.6v2.95h-7.6zM368.6 431.77h7.6v2.95h-7.6zM397.9 437.07h7.6v2.95h-7.6zM288.2 452.97h7.6v2.95h-7.6zM295.5 455.61h7.6v2.95h-7.6zM288.2 458.26h7.6v2.95h-7.6zM302.8 458.26h7.6v2.95h-7.6zM295.5 460.91h7.6v2.95h-7.6zM310.1 463.56h7.6v2.95h-7.6zM280.9 466.21h7.6v2.95h-7.6zM288.2 466.21h7.6v2.95h-7.6zM295.5 466.21h7.6v2.95h-7.6zM310.1 474.16h7.6v2.95h-7.6zM332.1 474.16h7.6v2.95h-7.6zM280.9 476.81h7.6v2.95h-7.6zM339.4 476.81h7.6v2.95h-7.6zM368.6 476.81h7.6v2.95h-7.6zM280.9 479.46h7.6v2.95h-7.6zM310.1 479.46h7.6v2.95h-7.6zM288.2 482.10h7.6v2.95h-7.6zM346.7 482.10h7.6v2.95h-7.6zM339.4 484.75h7.6v2.95h-7.6zM295.5 487.40h7.6v2.95h-7.6zM302.8 487.40h7.6v2.95h-7.6zM354.0 487.40h7.6v2.95h-7.6zM324.8 490.05h7.6v2.95h-7.6zM339.4 490.05h7.6v2.95h-7.6zM346.7 490.05h7.6v2.95h-7.6zM354.0 490.05h7.6v2.95h-7.6z"/>
<path fill="#3f1011" d="M237.0 129.79h7.6v2.95h-7.6zM251.6 129.79h7.6v2.95h-7.6zM258.9 129.79h7.6v2.95h-7.6zM280.9 129.79h7.6v2.95h-7.6zM288.2 129.79h7.6v2.95h-7.6zM302.8 129.79h7.6v2.95h-7.6zM244.3 137.74h7.6v2.95h-7.6zM251.6 145.68h7.6v2.95h-7.6zM383.3 145.68h7.6v2.95h-7.6zM288.2 158.93h7.6v2.95h-7.6zM295.5 158.93h7.6v2.95h-7.6zM295.5 161.58h7.6v2.95h-7.6zM302.8 161.58h7.6v2.95h-7.6zM310.1 161.58h7.6v2.95h-7.6zM288.2 166.88h7.6v2.95h-7.6zM302.8 166.88h7.6v2.95h-7.6zM295.5 169.52h7.6v2.95h-7.6zM280.9 172.17h7.6v2.95h-7.6zM288.2 172.17h7.6v2.95h-7.6zM288.2 174.82h7.6v2.95h-7.6zM302.8 174.82h7.6v2.95h-7.6zM288.2 177.47h7.6v2.95h-7.6zM310.1 188.07h7.6v2.95h-7.6zM302.8 190.72h7.6v2.95h-7.6zM295.5 193.37h7.6v2.95h-7.6zM302.8 193.37h7.6v2.95h-7.6zM310.1 193.37h7.6v2.95h-7.6zM280.9 198.66h7.6v2.95h-7.6zM295.5 201.31h7.6v2.95h-7.6zM288.2 206.61h7.6v2.95h-7.6zM302.8 206.61h7.6v2.95h-7.6zM310.1 206.61h7.6v2.95h-7.6zM244.3 209.26h7.6v2.95h-7.6zM280.9 211.91h7.6v2.95h-7.6zM280.9 214.56h7.6v2.95h-7.6zM295.5 214.56h7.6v2.95h-7.6zM302.8 214.56h7.6v2.95h-7.6zM280.9 219.86h7.6v2.95h-7.6zM288.2 219.86h7.6v2.95h-7.6zM295.5 219.86h7.6v2.95h-7.6zM244.3 225.15h7.6v2.95h-7.6zM302.8 225.15h7.6v2.95h-7.6zM310.1 225.15h7.6v2.95h-7.6zM280.9 227.80h7.6v2.95h-7.6zM280.9 230.45h7.6v2.95h-7.6zM354.0 248.99h7.6v2.95h-7.6zM317.4 254.29h7.6v2.95h-7.6zM346.7 254.29h7.6v2.95h-7.6zM317.4 256.94h7.6v2.95h-7.6zM332.1 256.94h7.6v2.95h-7.6zM339.4 256.94h7.6v2.95h-7.6zM346.7 256.94h7.6v2.95h-7.6zM354.0 256.94h7.6v2.95h-7.6zM317.4 259.59h7.6v2.95h-7.6zM324.8 259.59h7.6v2.95h-7.6zM332.1 259.59h7.6v2.95h-7.6zM346.7 259.59h7.6v2.95h-7.6zM244.3 280.78h7.6v2.95h-7.6zM324.8 286.08h7.6v2.95h-7.6zM354.0 286.08h7.6v2.95h-7.6zM383.3 299.32h7.6v2.95h-7.6zM390.6 323.17h7.6v2.95h-7.6zM251.6 347.01h7.6v2.95h-7.6zM273.6 349.66h7.6v2.95h-7.6zM361.3 352.30h7.6v2.95h-7.6zM397.9 365.55h7.6v2.95h-7.6zM361.3 384.09h7.6v2.95h-7.6zM397.9 421.18h7.6v2.95h-7.6zM375.9 431.77h7.6v2.95h-7.6zM368.6 434.42h7.6v2.95h-7.6zM397.9 434.42h7.6v2.95h-7.6zM383.3 437.07h7.6v2.95h-7.6zM390.6 437.07h7.6v2.95h-7.6zM368.6 442.37h7.6v2.95h-7.6zM383.3 442.37h7.6v2.95h-7.6zM397.9 442.37h7.6v2.95h-7.6zM361.3 445.02h7.6v2.95h-7.6zM368.6 445.02h7.6v2.95h-7.6zM390.6 445.02h7.6v2.95h-7.6zM397.9 445.02h7.6v2.95h-7.6zM397.9 447.67h7.6v2.95h-7.6zM397.9 450.32h7.6v2.95h-7.6zM302.8 452.97h7.6v2.95h-7.6zM295.5 458.26h7.6v2.95h-7.6zM302.8 460.91h7.6v2.95h-7.6zM302.8 466.21h7.6v2.95h-7.6zM288.2 468.86h7.6v2.95h-7.6zM295.5 471.51h7.6v2.95h-7.6zM295.5 474.16h7.6v2.95h-7.6zM324.8 474.16h7.6v2.95h-7.6zM339.4 474.16h7.6v2.95h-7.6zM288.2 479.46h7.6v2.95h-7.6zM302.8 479.46h7.6v2.95h-7.6zM346.7 484.75h7.6v2.95h-7.6zM354.0 484.75h7.6v2.95h-7.6z"/>
<path fill="#471111" d="M237.0 124.49h7.6v2.95h-7.6zM266.3 129.79h7.6v2.95h-7.6zM295.5 129.79h7.6v2.95h-7.6zM310.1 129.79h7.6v2.95h-7.6zM295.5 135.09h7.6v2.95h-7.6zM251.6 137.74h7.6v2.95h-7.6zM390.6 145.68h7.6v2.95h-7.6zM237.0 150.98h7.6v2.95h-7.6zM288.2 156.28h7.6v2.95h-7.6zM295.5 156.28h7.6v2.95h-7.6zM280.9 158.93h7.6v2.95h-7.6zM302.8 158.93h7.6v2.95h-7.6zM288.2 161.58h7.6v2.95h-7.6zM280.9 166.88h7.6v2.95h-7.6zM280.9 174.82h7.6v2.95h-7.6zM310.1 174.82h7.6v2.95h-7.6zM280.9 177.47h7.6v2.95h-7.6zM295.5 177.47h7.6v2.95h-7.6zM310.1 177.47h7.6v2.95h-7.6zM280.9 188.07h7.6v2.95h-7.6zM288.2 188.07h7.6v2.95h-7.6zM302.8 188.07h7.6v2.95h-7.6zM280.9 190.72h7.6v2.95h-7.6zM310.1 190.72h7.6v2.95h-7.6zM302.8 201.31h7.6v2.95h-7.6zM288.2 211.91h7.6v2.95h-7.6zM295.5 211.91h7.6v2.95h-7.6zM302.8 211.91h7.6v2.95h-7.6zM288.2 214.56h7.6v2.95h-7.6zM310.1 214.56h7.6v2.95h-7.6zM237.0 219.86h7.6v2.95h-7.6zM302.8 227.80h7.6v2.95h-7.6zM288.2 230.45h7.6v2.95h-7.6zM332.1 246.34h7.6v2.95h-7.6zM332.1 248.99h7.6v2.95h-7.6zM324.8 254.29h7.6v2.95h-7.6zM339.4 270.19h7.6v2.95h-7.6zM383.3 312.57h7.6v2.95h-7.6zM346.7 317.87h7.6v2.95h-7.6zM295.5 399.99h7.6v2.95h-7.6zM302.8 410.58h7.6v2.95h-7.6zM361.3 434.42h7.6v2.95h-7.6zM375.9 434.42h7.6v2.95h-7.6zM383.3 434.42h7.6v2.95h-7.6zM361.3 437.07h7.6v2.95h-7.6zM368.6 437.07h7.6v2.95h-7.6zM375.9 437.07h7.6v2.95h-7.6zM361.3 442.37h7.6v2.95h-7.6zM390.6 442.37h7.6v2.95h-7.6zM383.3 447.67h7.6v2.95h-7.6zM390.6 447.67h7.6v2.95h-7.6zM368.6 450.32h7.6v2.95h-7.6zM375.9 450.32h7.6v2.95h-7.6zM383.3 450.32h7.6v2.95h-7.6zM288.2 460.91h7.6v2.95h-7.6zM295.5 468.86h7.6v2.95h-7.6zM288.2 471.51h7.6v2.95h-7.6zM368.6 471.51h7.6v2.95h-7.6zM288.2 476.81h7.6v2.95h-7.6zM302.8 476.81h7.6v2.95h-7.6zM361.3 476.81h7.6v2.95h-7.6zM295.5 479.46h7.6v2.95h-7.6zM397.9 479.46h7.6v2.95h-7.6zM317.4 482.10h7.6v2.95h-7.6zM332.1 482.10h7.6v2.95h-7.6zM354.0 482.10h7.6v2.95h-7.6zM332.1 484.75h7.6v2.95h-7.6zM317.4 490.05h7.6v2.95h-7.6z"/>
<path fill="#501212" d="M280.9 121.84h7.6v2.95h-7.6zM288.2 124.49h7.6v2.95h-7.6zM295.5 124.49h7.6v2.95h-7.6zM280.9 127.14h7.6v2.95h-7.6zM397.9 145.68h7.6v2.95h-7.6zM310.1 158.93h7.6v2.95h-7.6zM280.9 161.58h7.6v2.95h-7.6zM280.9 182.77h7.6v2.95h-7.6zM295.5 182.77h7.6v2.95h-7.6zM302.8 182.77h7.6v2.95h-7.6zM295.5 206.61h7.6v2.95h-7.6zM310.1 211.91h7.6v2.95h-7.6zM280.9 225.15h7.6v2.95h-7.6zM295.5 230.45h7.6v2.95h-7.6zM302.8 230.45h7.6v2.95h-7.6zM310.1 230.45h7.6v2.95h-7.6zM324.8 243.70h7.6v2.95h-7.6zM332.1 243.70h7.6v2.95h-7.6zM354.0 243.70h7.6v2.95h-7.6zM317.4 246.34h7.6v2.95h-7.6zM324.8 251.64h7.6v2.95h-7.6zM339.4 251.64h7.6v2.95h-7.6zM354.0 251.64h7.6v2.95h-7.6zM317.4 270.19h7.6v2.95h-7.6zM354.0 270.19h7.6v2.95h-7.6zM317.4 296.68h7.6v2.95h-7.6zM397.9 296.68h7.6v2.95h-7.6zM361.3 439.72h7.6v2.95h-7.6zM383.3 439.72h7.6v2.95h-7.6zM397.9 439.72h7.6v2.95h-7.6zM390.6 450.32h7.6v2.95h-7.6zM302.8 468.86h7.6v2.95h-7.6zM302.8 471.51h7.6v2.95h-7.6zM310.1 471.51h7.6v2.95h-7.6zM354.0 474.16h7.6v2.95h-7.6zM295.5 476.81h7.6v2.95h-7.6zM310.1 476.81h7.6v2.95h-7.6zM324.8 484.75h7.6v2.95h-7.6z"/>
<path fill="#581213" d="M237.0 105.95h7.6v2.95h-7.6zM280.9 108.60h7.6v2.95h-7.6zM288.2 108.60h7.6v2.95h-7.6zM258.9 124.49h7.6v2.95h-7.6zM280.9 124.49h7.6v2.95h-7.6zM302.8 124.49h7.6v2.95h-7.6zM288.2 127.14h7.6v2.95h-7.6zM244.3 129.79h7.6v2.95h-7.6zM237.0 132.44h7.6v2.95h-7.6zM266.3 135.09h7.6v2.95h-7.6zM273.6 135.09h7.6v2.95h-7.6zM302.8 135.09h7.6v2.95h-7.6zM280.9 156.28h7.6v2.95h-7.6zM310.1 156.28h7.6v2.95h-7.6zM280.9 164.23h7.6v2.95h-7.6zM288.2 164.23h7.6v2.95h-7.6zM295.5 164.23h7.6v2.95h-7.6zM288.2 169.52h7.6v2.95h-7.6zM288.2 185.42h7.6v2.95h-7.6zM295.5 185.42h7.6v2.95h-7.6zM302.8 185.42h7.6v2.95h-7.6zM280.9 201.31h7.6v2.95h-7.6zM280.9 209.26h7.6v2.95h-7.6zM339.4 243.70h7.6v2.95h-7.6zM324.8 246.34h7.6v2.95h-7.6zM346.7 246.34h7.6v2.95h-7.6zM317.4 248.99h7.6v2.95h-7.6zM346.7 251.64h7.6v2.95h-7.6zM332.1 254.29h7.6v2.95h-7.6zM324.8 262.24h7.6v2.95h-7.6zM339.4 262.24h7.6v2.95h-7.6zM324.8 270.19h7.6v2.95h-7.6zM332.1 270.19h7.6v2.95h-7.6zM346.7 270.19h7.6v2.95h-7.6zM375.9 442.37h7.6v2.95h-7.6zM375.9 445.02h7.6v2.95h-7.6zM361.3 447.67h7.6v2.95h-7.6zM368.6 447.67h7.6v2.95h-7.6zM375.9 447.67h7.6v2.95h-7.6zM361.3 450.32h7.6v2.95h-7.6zM280.9 468.86h7.6v2.95h-7.6zM288.2 474.16h7.6v2.95h-7.6z"/>
<path fill="#611314" d="M258.9 105.95h7.6v2.95h-7.6zM273.6 105.95h7.6v2.95h-7.6zM310.1 124.49h7.6v2.95h-7.6zM295.5 127.14h7.6v2.95h-7.6zM258.9 132.44h7.6v2.95h-7.6zM266.3 132.44h7.6v2.95h-7.6zM273.6 132.44h7.6v2.95h-7.6zM244.3 135.09h7.6v2.95h-7.6zM251.6 135.09h7.6v2.95h-7.6zM280.9 135.09h7.6v2.95h-7.6zM302.8 164.23h7.6v2.95h-7.6zM310.1 164.23h7.6v2.95h-7.6zM302.8 169.52h7.6v2.95h-7.6zM310.1 172.17h7.6v2.95h-7.6zM310.1 185.42h7.6v2.95h-7.6zM354.0 241.05h7.6v2.95h-7.6zM346.7 243.70h7.6v2.95h-7.6zM354.0 246.34h7.6v2.95h-7.6zM332.1 251.64h7.6v2.95h-7.6zM317.4 262.24h7.6v2.95h-7.6zM317.4 264.89h7.6v2.95h-7.6zM346.7 264.89h7.6v2.95h-7.6zM346.7 267.54h7.6v2.95h-7.6zM368.6 439.72h7.6v2.95h-7.6zM390.6 439.72h7.6v2.95h-7.6zM383.3 445.02h7.6v2.95h-7.6zM324.8 482.10h7.6v2.95h-7.6zM317.4 484.75h7.6v2.95h-7.6z"/>
<path fill="#691415" d="M244.3 105.95h7.6v2.95h-7.6zM251.6 105.95h7.6v2.95h-7.6zM258.9 113.90h7.6v2.95h-7.6zM266.3 124.49h7.6v2.95h-7.6zM280.9 132.44h7.6v2.95h-7.6zM288.2 132.44h7.6v2.95h-7.6zM310.1 169.52h7.6v2.95h-7.6zM288.2 182.77h7.6v2.95h-7.6zM310.1 182.77h7.6v2.95h-7.6zM280.9 185.42h7.6v2.95h-7.6zM317.4 230.45h7.6v2.95h-7.6zM324.8 241.05h7.6v2.95h-7.6zM332.1 241.05h7.6v2.95h-7.6zM339.4 246.34h7.6v2.95h-7.6zM317.4 251.64h7.6v2.95h-7.6zM332.1 262.24h7.6v2.95h-7.6zM346.7 262.24h7.6v2.95h-7.6zM332.1 264.89h7.6v2.95h-7.6zM354.0 264.89h7.6v2.95h-7.6zM317.4 267.54h7.6v2.95h-7.6zM339.4 267.54h7.6v2.95h-7.6zM361.3 429.12h7.6v2.95h-7.6zM375.9 439.72h7.6v2.95h-7.6zM280.9 471.51h7.6v2.95h-7.6z"/>
<path fill="#721516" d="M288.2 103.30h7.6v2.95h-7.6zM280.9 105.95h7.6v2.95h-7.6zM288.2 105.95h7.6v2.95h-7.6zM237.0 111.25h7.6v2.95h-7.6zM302.8 116.54h7.6v2.95h-7.6zM310.1 116.54h7.6v2.95h-7.6zM295.5 121.84h7.6v2.95h-7.6zM302.8 121.84h7.6v2.95h-7.6zM310.1 121.84h7.6v2.95h-7.6zM244.3 124.49h7.6v2.95h-7.6zM251.6 124.49h7.6v2.95h-7.6zM258.9 127.14h7.6v2.95h-7.6zM302.8 132.44h7.6v2.95h-7.6zM310.1 132.44h7.6v2.95h-7.6zM258.9 135.09h7.6v2.95h-7.6zM288.2 135.09h7.6v2.95h-7.6zM310.1 135.09h7.6v2.95h-7.6zM332.1 230.45h7.6v2.95h-7.6zM354.0 233.10h7.6v2.95h-7.6zM346.7 241.05h7.6v2.95h-7.6zM317.4 243.70h7.6v2.95h-7.6zM324.8 264.89h7.6v2.95h-7.6zM332.1 267.54h7.6v2.95h-7.6zM354.0 267.54h7.6v2.95h-7.6zM339.4 482.10h7.6v2.95h-7.6z"/>
<path fill="#7b1516" d="M280.9 103.30h7.6v2.95h-7.6zM266.3 111.25h7.6v2.95h-7.6zM295.5 116.54h7.6v2.95h-7.6zM237.0 127.14h7.6v2.95h-7.6zM244.3 132.44h7.6v2.95h-7.6zM280.9 169.52h7.6v2.95h-7.6zM324.8 230.45h7.6v2.95h-7.6zM346.7 230.45h7.6v2.95h-7.6zM361.3 490.05h7.6v2.95h-7.6z"/>
<path fill="#831617" d="M266.3 105.95h7.6v2.95h-7.6zM258.9 111.25h7.6v2.95h-7.6zM310.1 119.19h7.6v2.95h-7.6zM273.6 124.49h7.6v2.95h-7.6zM295.5 132.44h7.6v2.95h-7.6zM332.1 233.10h7.6v2.95h-7.6zM332.1 235.75h7.6v2.95h-7.6zM317.4 241.05h7.6v2.95h-7.6zM383.3 429.12h7.6v2.95h-7.6zM390.6 429.12h7.6v2.95h-7.6zM390.6 484.75h7.6v2.95h-7.6z"/>
<path fill="#8c1718" d="M273.6 111.25h7.6v2.95h-7.6zM310.1 111.25h7.6v2.95h-7.6zM266.3 127.14h7.6v2.95h-7.6zM251.6 132.44h7.6v2.95h-7.6zM354.0 230.45h7.6v2.95h-7.6zM324.8 238.40h7.6v2.95h-7.6zM332.1 238.40h7.6v2.95h-7.6zM346.7 238.40h7.6v2.95h-7.6zM339.4 241.05h7.6v2.95h-7.6zM354.0 262.24h7.6v2.95h-7.6zM339.4 264.89h7.6v2.95h-7.6zM324.8 267.54h7.6v2.95h-7.6zM361.3 484.75h7.6v2.95h-7.6zM368.6 487.40h7.6v2.95h-7.6zM383.3 487.40h7.6v2.95h-7.6zM390.6 487.40h7.6v2.95h-7.6z"/>
<path fill="#941819" d="M273.6 108.60h7.6v2.95h-7.6zM251.6 111.25h7.6v2.95h-7.6zM295.5 111.25h7.6v2.95h-7.6zM302.8 111.25h7.6v2.95h-7.6zM258.9 121.84h7.6v2.95h-7.6zM251.6 127.14h7.6v2.95h-7.6zM324.8 233.10h7.6v2.95h-7.6zM354.0 235.75h7.6v2.95h-7.6zM375.9 429.12h7.6v2.95h-7.6zM361.3 487.40h7.6v2.95h-7.6z"/>
<path fill="#9d181a" d="M310.1 105.95h7.6v2.95h-7.6zM237.0 108.60h7.6v2.95h-7.6zM310.1 108.60h7.6v2.95h-7.6zM237.0 113.90h7.6v2.95h-7.6zM244.3 113.90h7.6v2.95h-7.6zM295.5 113.90h7.6v2.95h-7.6zM339.4 230.45h7.6v2.95h-7.6zM317.4 233.10h7.6v2.95h-7.6zM339.4 238.40h7.6v2.95h-7.6z"/>
<path fill="#a5191b" d="M237.0 103.30h7.6v2.95h-7.6zM251.6 103.30h7.6v2.95h-7.6zM266.3 103.30h7.6v2.95h-7.6zM266.3 108.60h7.6v2.95h-7.6zM302.8 108.60h7.6v2.95h-7.6zM251.6 113.90h7.6v2.95h-7.6zM273.6 127.14h7.6v2.95h-7.6zM339.4 233.10h7.6v2.95h-7.6zM354.0 238.40h7.6v2.95h-7.6zM397.9 429.12h7.6v2.95h-7.6zM375.9 487.40h7.6v2.95h-7.6zM397.9 487.40h7.6v2.95h-7.6zM368.6 490.05h7.6v2.95h-7.6z"/>
<path fill="#ae1a1b" d="M310.1 103.30h7.6v2.95h-7.6zM251.6 108.60h7.6v2.95h-7.6zM244.3 111.25h7.6v2.95h-7.6zM302.8 113.90h7.6v2.95h-7.6zM310.1 113.90h7.6v2.95h-7.6zM302.8 119.19h7.6v2.95h-7.6zM251.6 121.84h7.6v2.95h-7.6zM266.3 121.84h7.6v2.95h-7.6zM273.6 121.84h7.6v2.95h-7.6zM244.3 127.14h7.6v2.95h-7.6zM346.7 233.10h7.6v2.95h-7.6zM339.4 235.75h7.6v2.95h-7.6zM346.7 235.75h7.6v2.95h-7.6zM368.6 484.75h7.6v2.95h-7.6zM375.9 484.75h7.6v2.95h-7.6zM383.3 484.75h7.6v2.95h-7.6zM390.6 490.05h7.6v2.95h-7.6z"/>
<path fill="#b61b1c" d="M244.3 103.30h7.6v2.95h-7.6zM273.6 103.30h7.6v2.95h-7.6zM302.8 105.95h7.6v2.95h-7.6zM295.5 108.60h7.6v2.95h-7.6zM266.3 113.90h7.6v2.95h-7.6zM273.6 113.90h7.6v2.95h-7.6zM266.3 119.19h7.6v2.95h-7.6zM295.5 119.19h7.6v2.95h-7.6zM317.4 235.75h7.6v2.95h-7.6zM324.8 235.75h7.6v2.95h-7.6zM368.6 429.12h7.6v2.95h-7.6zM397.9 484.75h7.6v2.95h-7.6zM375.9 490.05h7.6v2.95h-7.6zM383.3 490.05h7.6v2.95h-7.6z"/>
<path fill="#bf1b1d" d="M244.3 108.60h7.6v2.95h-7.6zM258.9 108.60h7.6v2.95h-7.6zM237.0 116.54h7.6v2.95h-7.6zM258.9 119.19h7.6v2.95h-7.6zM237.0 121.84h7.6v2.95h-7.6zM317.4 238.40h7.6v2.95h-7.6z"/>
<path fill="#c71c1e" d="M258.9 103.30h7.6v2.95h-7.6zM302.8 103.30h7.6v2.95h-7.6zM295.5 105.95h7.6v2.95h-7.6zM237.0 119.19h7.6v2.95h-7.6zM251.6 119.19h7.6v2.95h-7.6zM397.9 490.05h7.6v2.95h-7.6z"/>
<path fill="#d01d1f" d="M295.5 103.30h7.6v2.95h-7.6zM244.3 121.84h7.6v2.95h-7.6z"/>
<path fill="#d91e20" d="M244.3 116.54h7.6v2.95h-7.6zM251.6 116.54h7.6v2.95h-7.6zM258.9 116.54h7.6v2.95h-7.6zM266.3 116.54h7.6v2.95h-7.6zM273.6 116.54h7.6v2.95h-7.6zM244.3 119.19h7.6v2.95h-7.6zM273.6 119.19h7.6v2.95h-7.6z"/>
</g>
<g stroke-width="1.5" fill="none">
<path d="M247.97 101H255.28" stroke="#000"/>
<path d="M247.97 101V103.3" stroke="#000"/>
<path d="M255.28 101V103.3" stroke="#000"/>
<path d="M269.91 101.5H277.22" stroke="#000"/>
<path d="M269.91 101.5V103.3" stroke="#000"/>
<path d="M277.22 101.5V103.3" stroke="#000"/>
<path d="M262.60 99H273.57" stroke="#000"/>
<path d="M262.60 99V103.3" stroke="#000"/>
<path d="M273.57 99V101.5" stroke="#000"/>
<path d="M251.63 97.1H268.08" stroke="#000"/>
<path d="M251.63 97.1V101" stroke="#000"/>
<path d="M268.08 97.1V99" stroke="#000"/>
<path d="M240.66 93.2H259.85" stroke="#000"/>
<path d="M240.66 93.2V103.3" stroke="#000"/>
<path d="M259.85 93.2V97.1" stroke="#000"/>
<path d="M291.85 101.5H299.16" stroke="#a0a0a0"/>
<path d="M291.85 101.5V103.3" stroke="#a0a0a0"/>
<path d="M299.16 101.5V103.3" stroke="#a0a0a0"/>
<path d="M306.47 100.5H313.79" stroke="#a0a0a0"/>
<path d="M306.47 100.5V103.3" stroke="#a0a0a0"/>
<path d="M313.79 100.5V103.3" stroke="#a0a0a0"/>
<path d="M295.50 98.5H310.13" stroke="#a0a0a0"/>
<path d="M295.50 98.5V101.5" stroke="#a0a0a0"/>
<path d="M310.13 98.5V100.5" stroke="#a0a0a0"/>
<path d="M284.53 95.4H302.82" stroke="#a0a0a0"/>
<path d="M284.53 95.4V103.3" stroke="#a0a0a0"/>
<path d="M302.82 95.4V98.5" stroke="#a0a0a0"/>
<path d="M321.10 100.5H328.41" stroke="#e0202a"/>
<path d="M321.10 100.5V103.3" stroke="#e0202a"/>
<path d="M328.41 100.5V103.3" stroke="#e0202a"/>
<path d="M343.04 101.5H350.35" stroke="#e0202a"/>
<path d="M343.04 101.5V103.3" stroke="#e0202a"/>
<path d="M350.35 101.5V103.3" stroke="#e0202a"/>
<path d="M335.73 99H346.70" stroke="#e0202a"/>
<path d="M335.73 99V103.3" stroke="#e0202a"/>
<path d="M346.70 99V101.5" stroke="#e0202a"/>
<path d="M324.76 97H341.21" stroke="#e0202a"/>
<path d="M324.76 97V100.5" stroke="#e0202a"/>
<path d="M341.21 97V99" stroke="#e0202a"/>
<path d="M332.98 94.7H357.67" stroke="#e0202a"/>
<path d="M332.98 94.7V97" stroke="#e0202a"/>
<path d="M357.67 94.7V103.3" stroke="#e0202a"/>
<path d="M364.98 99.5H372.29" stroke="#2a78c0"/>
<path d="M364.98 99.5V103.3" stroke="#2a78c0"/>
<path d="M372.29 99.5V103.3" stroke="#2a78c0"/>
<path d="M386.92 101H394.23" stroke="#2a78c0"/>
<path d="M386.92 101V103.3" stroke="#2a78c0"/>
<path d="M394.23 101V103.3" stroke="#2a78c0"/>
<path d="M379.60 98H390.57" stroke="#2a78c0"/>
<path d="M379.60 98V103.3" stroke="#2a78c0"/>
<path d="M390.57 98V101" stroke="#2a78c0"/>
<path d="M368.63 96H385.09" stroke="#2a78c0"/>
<path d="M368.63 96V99.5" stroke="#2a78c0"/>
<path d="M385.09 96V98" stroke="#2a78c0"/>
<path d="M376.86 92.9H401.54" stroke="#2a78c0"/>
<path d="M376.86 92.9V96" stroke="#2a78c0"/>
<path d="M401.54 92.9V103.3" stroke="#2a78c0"/>
<path d="M250.25 88.8H293.68" stroke="#2b2e7f"/>
<path d="M250.25 88.8V93.2" stroke="#2b2e7f"/>
<path d="M293.68 88.8V95.4" stroke="#2b2e7f"/>
<path d="M345.32 88.2H389.20" stroke="#2b2e7f"/>
<path d="M345.32 88.2V94.7" stroke="#2b2e7f"/>
<path d="M389.20 88.2V92.9" stroke="#2b2e7f"/>
<path d="M271.97 82.3H367.26" stroke="#2b2e7f"/>
<path d="M271.97 82.3V88.8" stroke="#2b2e7f"/>
<path d="M367.26 82.3V88.2" stroke="#2b2e7f"/>
<path d="M237.0 104.62H233.6V107.27H237.0M237.0 109.92H233.7V112.57H237.0M233.6 105.95H229.5V111.25H233.7M237.0 117.87H232.6V120.52H237.0M232.6 119.19H229.3V123.17H237.0M237.0 115.22H226.0V121.18H229.3M237.0 125.82H232.2V128.47H237.0M237.0 131.11H232.2V133.76H237.0M232.2 132.44H229.1V136.41H237.0M232.2 127.14H224.0V134.43H229.1M226.0 118.20H218.5V130.78H224.0M229.5 108.60H214.6V124.49H218.5" stroke="#000000" fill="none"/>
<path d="M237.0 139.06H232.4V141.71H237.0M237.0 144.36H232.7V147.01H237.0M237.0 149.66H232.6V152.31H237.0M232.7 145.68H226.9V150.98H232.6M232.4 140.39H221.5V148.33H226.9M237.0 154.96H233.1V157.60H237.0M237.0 160.25H233.0V162.90H237.0M233.0 161.58H231.1V165.55H237.0M231.1 163.56H228.8V168.20H237.0M233.1 156.28H226.4V165.88H228.8M237.0 170.85H233.2V173.50H237.0M237.0 176.15H233.5V178.80H237.0M233.5 177.47H230.6V181.44H237.0M233.2 172.17H227.2V179.46H230.6M226.4 161.08H216.9V175.82H227.2M237.0 184.09H232.3V186.74H237.0M237.0 189.39H232.2V192.04H237.0M232.3 185.42H225.5V190.72H232.2M237.0 194.69H224.2V197.34H237.0M224.2 196.01H214.0V199.99H237.0M237.0 202.64H225.5V205.29H237.0M225.5 203.96H218.8V207.93H237.0M237.0 210.58H230.6V213.23H237.0M230.6 211.91H227.3V215.88H237.0M227.3 213.89H222.7V218.53H237.0M237.0 221.18H230.5V223.83H237.0M237.0 226.48H230.2V229.13H237.0M230.5 222.50H222.4V227.80H230.2M222.7 216.21H219.5V225.15H222.4M218.8 205.95H215.6V220.68H219.5M214.0 198.00H211.6V213.32H215.6M225.5 188.07H208.3V205.66H211.6M216.9 168.45H204.3V196.86H208.3M221.5 144.36H200.6V182.66H204.3" stroke="#9c9c9c" fill="none"/>
<path d="M237.0 231.78H232.3V234.42H237.0M237.0 239.72H233.6V242.37H237.0M237.0 245.02H233.5V247.67H237.0M233.6 241.05H228.8V246.34H233.5M237.0 237.07H224.9V243.70H228.8M232.3 233.10H221.4V240.38H224.9" stroke="#e0202a" fill="none"/>
<path d="M237.0 250.32H233.2V252.97H237.0M237.0 255.62H233.3V258.27H237.0M233.2 251.64H228.3V256.94H233.3M237.0 260.91H233.1V263.56H237.0M237.0 266.21H233.1V268.86H237.0M233.1 262.24H228.6V267.54H233.1M237.0 271.51H233.2V274.16H237.0M228.6 264.89H225.7V272.83H233.2M228.3 254.29H217.5V268.86H225.7M217.5 261.58H214.1V276.81H237.0M237.0 282.11H231.1V284.76H237.0M237.0 279.46H226.5V283.43H231.1M237.0 287.40H231.4V290.05H237.0M226.5 281.44H220.0V288.73H231.4M237.0 295.35H231.3V298.00H237.0M237.0 292.70H227.9V296.68H231.3M237.0 303.30H231.7V305.95H237.0M237.0 300.65H228.5V304.62H231.7M237.0 308.60H231.9V311.24H237.0M228.5 302.64H222.9V309.92H231.9M227.9 294.69H214.0V306.28H222.9M220.0 285.09H210.9V300.48H214.0M237.0 313.89H232.6V316.54H237.0M232.6 315.22H229.0V319.19H237.0M210.9 292.78H207.7V317.21H229.0M214.1 269.19H203.7V304.99H207.7" stroke="#f0a040" fill="none"/>
<path d="M237.0 324.49H230.8V327.14H237.0M237.0 332.44H231.2V335.09H237.0M237.0 329.79H227.9V333.76H231.2M230.8 325.81H219.7V331.77H227.9M237.0 337.73H232.8V340.38H237.0M237.0 345.68H232.4V348.33H237.0M237.0 343.03H230.4V347.01H232.4M232.8 339.06H224.5V345.02H230.4M219.7 328.79H215.7V342.04H224.5M237.0 350.98H233.4V353.63H237.0M237.0 358.93H232.9V361.58H237.0M237.0 356.28H230.5V360.25H232.9M233.4 352.30H227.1V358.26H230.5M237.0 364.22H233.0V366.87H237.0M227.1 355.28H223.7V365.55H233.0M237.0 369.52H233.1V372.17H237.0M237.0 374.82H233.1V377.47H237.0M233.1 370.85H229.1V376.14H233.1M223.7 360.42H216.0V373.50H229.1M237.0 380.12H233.6V382.77H237.0M237.0 385.42H233.7V388.07H237.0M233.6 381.44H230.2V386.74H233.7M237.0 390.71H233.5V393.36H237.0M233.5 392.04H231.4V396.01H237.0M230.2 384.09H225.6V394.03H231.4M237.0 398.66H233.7V401.31H237.0M237.0 403.96H233.6V406.61H237.0M233.6 405.28H231.5V409.26H237.0M233.7 399.99H228.3V407.27H231.5M225.6 389.06H218.0V403.63H228.3M216.0 366.96H211.0V396.34H218.0M237.0 414.56H233.8V417.20H237.0M237.0 411.91H231.8V415.88H233.8M237.0 419.85H234.1V422.50H237.0M237.0 425.15H234.0V427.80H237.0M234.1 421.18H230.5V426.48H234.0M231.8 413.89H225.3V423.83H230.5M211.0 381.65H207.7V418.86H225.3M215.7 335.42H203.0V400.25H207.7M237.0 321.84H200.6V367.84H203.0" stroke="#1a9a48" fill="none"/>
<path d="M237.0 433.10H231.7V435.75H237.0M237.0 430.45H228.0V434.42H231.7M237.0 441.04H229.6V443.69H237.0M237.0 438.40H224.0V442.37H229.6M237.0 446.34H230.6V448.99H237.0M230.6 447.67H226.0V451.64H237.0M224.0 440.38H218.5V449.65H226.0M228.0 432.44H214.6V445.02H218.5" stroke="#4cc4d4" fill="none"/>
<path d="M237.0 454.29H232.4V456.94H237.0M232.4 455.61H228.8V459.59H237.0M237.0 462.24H227.2V464.89H237.0M228.8 457.60H224.9V463.56H227.2M237.0 467.53H229.4V470.18H237.0M229.4 468.86H225.3V472.83H237.0M224.9 460.58H221.4V470.85H225.3M237.0 475.48H221.6V478.13H237.0M221.4 465.71H217.4V476.81H221.6M237.0 480.78H228.8V483.43H237.0M217.4 471.26H214.2V482.10H228.8" stroke="#8a6cb4" fill="none"/>
<path d="M237.0 488.73H233.0V491.38H237.0M237.0 486.08H228.8V490.05H233.0" stroke="#1f6fb8" fill="none"/>
<path d="M214.6 116.54H197V163.51H200.6" stroke="#2b2e7f" fill="none"/>
<path d="M200.6 344.84H196.4V438.73H214.6" stroke="#2b2e7f" fill="none"/>
<path d="M203.7 287.09H192.4V391.78H196.4" stroke="#2b2e7f" fill="none"/>
<path d="M192.4 339.44H189V476.68H214.2" stroke="#2b2e7f" fill="none"/>
<path d="M189.0 408.06H185.4V488.06H228.8" stroke="#2b2e7f" fill="none"/>
<path d="M221.4 236.74H181.3V448.06H185.4" stroke="#2b2e7f" fill="none"/>
<path d="M197.0 140.03H178V342.40H181.3" stroke="#2b2e7f" fill="none"/>
</g>
<rect x="411.8" y="103.30" width="7.4" height="33.84" fill="#000000"/>
<rect x="411.8" y="138.44" width="7.4" height="91.41" fill="#a3a3a3"/>
<rect x="411.8" y="231.15" width="7.4" height="17.24" fill="#e0202a"/>
<rect x="411.8" y="249.69" width="7.4" height="70.22" fill="#f0a040"/>
<rect x="411.8" y="321.22" width="7.4" height="107.31" fill="#1a9a48"/>
<rect x="411.8" y="429.82" width="7.4" height="22.54" fill="#4cc4d4"/>
<rect x="411.8" y="453.67" width="7.4" height="30.49" fill="#8a6cb4"/>
<rect x="411.8" y="485.45" width="7.4" height="7.25" fill="#1f6fb8"/>
<rect x="436.5" y="103.5" width="58.3" height="40.3" fill="none" stroke="#000" stroke-width="1.8"/>
<path d="M439.6 121.5 L447.3 119.3 L454.8 127.4 L461.6 123.3 L469.2 134.9 L476.2 134.3 L483.5 136.1 L490.8 133.4" fill="none" stroke="#231f20" stroke-width="1.5" stroke-linejoin="round"/>
<text x="492.3" y="114.0" font-size="10.5" fill="#231f20" text-anchor="end">13</text>
<text x="503.2" y="127.9" font-size="12.6" fill="#231f20" textLength="3.2" lengthAdjust="spacingAndGlyphs">I</text>
<rect x="436.5" y="153.5" width="58.3" height="40.3" fill="none" stroke="#000" stroke-width="1.8"/>
<path d="M439.6 167.9 L447.3 168.4 L454.8 166 L461.6 165.7 L469.2 171.5 L476.2 172.4 L483.5 171.5 L490.8 172" fill="none" stroke="#a6a6a6" stroke-width="1.5" stroke-linejoin="round"/>
<text x="492.3" y="164.0" font-size="10.5" fill="#231f20" text-anchor="end">35</text>
<text x="503.2" y="177.89999999999998" font-size="12.6" fill="#b0b0b0" textLength="6.2" lengthAdjust="spacingAndGlyphs">II</text>
<rect x="436.5" y="203.5" width="58.3" height="40.3" fill="none" stroke="#000" stroke-width="1.8"/>
<path d="M439.6 230.3 L447.3 233.4 L454.8 227 L461.6 228.5 L469.2 215.1 L476.2 216 L483.5 228.8 L490.8 231.2" fill="none" stroke="#d2232a" stroke-width="1.5" stroke-linejoin="round"/>
<text x="492.3" y="214.0" font-size="10.5" fill="#231f20" text-anchor="end">7</text>
<text x="503.2" y="227.89999999999998" font-size="12.6" fill="#c8323a" textLength="9.4" lengthAdjust="spacingAndGlyphs">III</text>
<rect x="436.5" y="253.5" width="58.3" height="40.3" fill="none" stroke="#000" stroke-width="1.8"/>
<path d="M439.6 276.1 L447.3 275.5 L454.8 278.3 L461.6 278.8 L469.2 272 L476.2 271.1 L483.5 273.9 L490.8 274.6" fill="none" stroke="#f0a030" stroke-width="1.5" stroke-linejoin="round"/>
<text x="492.3" y="264.0" font-size="10.5" fill="#231f20" text-anchor="end">27</text>
<text x="503.2" y="277.9" font-size="12.6" fill="#f2a860" textLength="10.8" lengthAdjust="spacingAndGlyphs">IV</text>
<rect x="436.5" y="303.0" width="58.3" height="40.3" fill="none" stroke="#000" stroke-width="1.8"/>
<path d="M439.6 320.2 L447.3 320 L454.8 319.7 L461.6 319.3 L469.2 320.6 L476.2 321.5 L483.5 319.7 L490.8 320.2" fill="none" stroke="#1f9a4e" stroke-width="1.5" stroke-linejoin="round"/>
<text x="492.3" y="313.5" font-size="10.5" fill="#231f20" text-anchor="end">41</text>
<text x="503.2" y="327.4" font-size="12.6" fill="#1f9a4e" textLength="8.0" lengthAdjust="spacingAndGlyphs">V</text>
<rect x="436.5" y="353.0" width="58.3" height="40.3" fill="none" stroke="#000" stroke-width="1.8"/>
<path d="M439.6 375.2 L447.3 376.4 L454.8 374.3 L461.6 374.6 L469.2 377.4 L476.2 377.4 L483.5 370.6 L490.8 371.5" fill="none" stroke="#3cc0e0" stroke-width="1.5" stroke-linejoin="round"/>
<text x="492.3" y="389.5" font-size="10.5" fill="#231f20" text-anchor="end">9</text>
<text x="503.2" y="377.4" font-size="12.6" fill="#7ccad6" textLength="10.6" lengthAdjust="spacingAndGlyphs">VI</text>
<rect x="436.5" y="403.0" width="58.3" height="40.3" fill="none" stroke="#000" stroke-width="1.8"/>
<path d="M439.6 423.7 L447.3 425.7 L454.8 418.4 L461.6 418.8 L469.2 418.2 L476.2 420.6 L483.5 419.3 L490.8 420.2" fill="none" stroke="#8a72b8" stroke-width="1.5" stroke-linejoin="round"/>
<text x="492.3" y="439.5" font-size="10.5" fill="#231f20" text-anchor="end">12</text>
<text x="503.2" y="427.4" font-size="12.6" fill="#8f80b8" textLength="13.4" lengthAdjust="spacingAndGlyphs">VII</text>
<rect x="436.5" y="453.0" width="58.3" height="40.3" fill="none" stroke="#000" stroke-width="1.8"/>
<path d="M439.6 472.8 L447.3 475.2 L454.8 470 L461.6 471.1 L469.2 464.2 L476.2 466.9 L483.5 457.4 L490.8 460.5" fill="none" stroke="#2a6fb0" stroke-width="1.5" stroke-linejoin="round"/>
<text x="492.3" y="489.5" font-size="10.5" fill="#231f20" text-anchor="end">3</text>
<text x="503.2" y="477.4" font-size="12.6" fill="#3a72a8" textLength="16.6" lengthAdjust="spacingAndGlyphs">VIII</text>
</svg></body></html>
